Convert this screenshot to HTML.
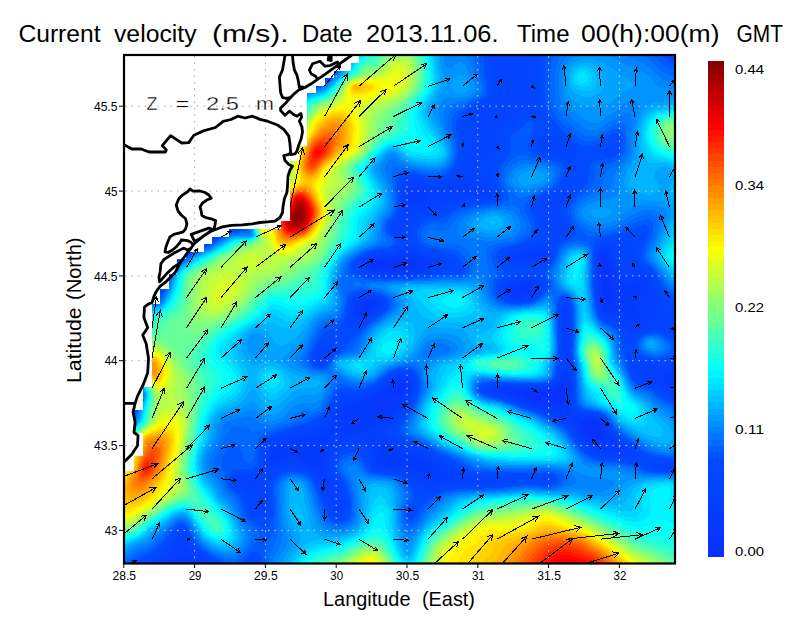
<!DOCTYPE html>
<html lang="en"><head><meta charset="utf-8"><title>Current velocity</title>
<style>html,body{margin:0;padding:0;background:#fff;width:800px;height:618px;overflow:hidden}svg{display:block}</style></head>
<body>
<svg width="800" height="618" viewBox="0 0 800 618" style="position:absolute;left:0;top:0">
<defs><clipPath id="pc"><rect x="124" y="55" width="551" height="508.5"/></clipPath>
<clipPath id="land"><polygon points="124,55 359.4,55 359.4,62.8 350.8,62.8 350.8,70.5 333.5,70.5 333.5,78.1 324.9,78.1 324.9,86 316.2,86 316.2,93.3 307.2,93.3 307.2,146.2 298.6,146.2 298.6,161 290,161 290,220.8 281.3,220.8 281.3,228.8 229.4,228.8 229.4,236.8 212.1,236.8 212.1,244.4 203.5,244.4 203.5,251.9 186,251.9 186,258.8 177.3,258.8 177.3,273.8 169,273.8 169,288.8 160.3,288.8 160.3,303.8 151.7,303.8 151.7,387.3 143.1,387.3 143.1,410 134.4,410 134.4,433.4 143.1,433.4 143.1,455.6 134.4,455.6 134.4,470.6 124,470.6"/></clipPath>
<clipPath id="sea"><path clip-rule="evenodd" d="M124 55H675V563.5H124ZM124 55L359.4 55L359.4 62.8L350.8 62.8L350.8 70.5L333.5 70.5L333.5 78.1L324.9 78.1L324.9 86L316.2 86L316.2 93.3L307.2 93.3L307.2 146.2L298.6 146.2L298.6 161L290 161L290 220.8L281.3 220.8L281.3 228.8L229.4 228.8L229.4 236.8L212.1 236.8L212.1 244.4L203.5 244.4L203.5 251.9L186 251.9L186 258.8L177.3 258.8L177.3 273.8L169 273.8L169 288.8L160.3 288.8L160.3 303.8L151.7 303.8L151.7 387.3L143.1 387.3L143.1 410L134.4 410L134.4 433.4L143.1 433.4L143.1 455.6L134.4 455.6L134.4 470.6L124 470.6Z"/></clipPath></defs>
<rect width="800" height="618" fill="#fff"/>
<g clip-path="url(#pc)" shape-rendering="crispEdges">
<rect x="124" y="55" width="552" height="510" fill="#0831ff"/>
<path fill="#0733ff" d="M334.6 57l1.8-2 339.6 0 0 510 -552 0 0-149.5 2-2.8 2-4.4 2.4-9.3 -0.4-2.2 -2-3.6 -4-4.4 0-79.3 6-5.7 0-1.5 -1.3-1.3 1.5-2 -1.8-2 1.6-1.7 4-1.4 8-0.8 8-3.8 4.3-4.3 0.9-2 2.8-3.6 0.7-2.4 1.6-2 0.5-2 4.1-6 11.1-11.5 2-1.7 2.4-0.8 3.6-3.4 2.4-0.6 3.6-3.5 2.1-0.5 3.9-3.3 2-0.4 2-1.6 2.7-0.7 1.3-1.3 2-0.5 2-1.7 4.5-2.5 7.5-6.6 3.2-1.4 4.8-3.6 2 0.4 2-2.2 2-0.2 0.5-2.4 3.5-2.5 0.3-1.5 -1.1-2 1.1-2 -3.1-2 0.8-1.4 0.2-4.6 2.1-2 0.3-6 3.4-2.9 0.4-3.1 2.1-2 -0.3-2 0.9-4 2.9-2 0.7-2 1.3-1.7 0.4-2.3 1.9-2 0.1-2 1.9-2 2-4 -0.2-6 -4.1-4.1 -4 0 -1.9-1.9 -0.1-2.2 -3.6-3.8 0.6-2 1-1 2.7-1 1.3-1.4 2-0.3 1.7 1.7 0.1 2 4.1 4 0 4 4.1 0 0-2.1 -2-0.1 -1.8-1.8 0.3-4 4.1-6 -1.2-2 4.6-5.5 2.6-4.5 1.4-1.4 2.5-0.6 1.5-1.9 0.4-2.1 2.1-4 1.5-1.5 1.1-2.5 2.9-3.2 0-1.1 -1.7-1.7 2.2-2 0.7-2 8.8-9.4 8-5.9 3.3-0.7 2.7-1.6 2-0.1 2-1.8 2.5-0.5 1.5-1.3 2-0.3 2-1.5 2.6-0.9 7.4-6 8-10.5zM556 390.9l-14 3.2 -4-0.3 -4-1.3 -4-0.2 -3.1 0.7 -2 2 1.8 2 5.3 2.4 16 0.9 4 0.7 4-0.1 3.5-1.9 2.5-4.3 0.3-1.7 -0.6-2 -1.7-0.8 -2 0.2zM590 424.5l-2 0.8 -1 1.7 0 2 1 2 2 2 2 0.8 2 0 2-1.4 0.6-1.4 0-4 -1.6-2 -3-0.7zM262 136.4l-1 0.6 1.3 0z"/>
<path fill="#0635ff" d="M337.4 55l338.6 0 0 510 -552 0 0-148 4-6 2.3-6 1.1-6 -1-4 -1.3-2 -3.4-4 -1.7-0.9 0-77.3 6.5-5.8 0.1-6 -1.3-2 0.7-0.7 12-2.1 8-3.5 2.2-1.7 3.4-4 7.8-14 4.5-6 8.1-8.3 14-9.9 20-11.1 4-2.7 4-3.6 4.4-2.4 5.6-4.4 2 0.7 2-2.1 2.1-0.2 1.5-2 0.4-2 2.7-2 0.5-2 -0.6-2 0.6-2 -2.5-2 0.4-6 1.9-2 1.4-6 1.6-1 1.7-5 2-2 -1-2 2.2-4 3.3-4 1.2-4 4.6-7.1 1.6-4.9 -1.4-2 0-2 -4.2-4.3 -4-0.1 -1.6-1.6 0-2 -2.8-4 0.4-0.7 1.2-1.3 4.8-2.8 0.8 0.8 0.4 2 4.5 4 0.1 4 4.2 1 0.3-3 -0.3-0.5 -2-0.3 -1.2-1.2 1.1-4 2.1-2.7 3.3-1.3 -2.3-4 7-9.9 4-2.4 1.5-3.7 7-10 0-2 -1.4-2 2.7-2 4.2-5.8 4-4.1 6-4.7 4-2.2 16-6.7 6-3.8 8-7.8 6.2-8.9zM376 262.9l-2.3 2.1 0.7 2 1.6 0.8 16 1.3 5.7-2.1 2.2-2 -21.9-2.2zM562 387l-18 5 -4 0.2 -10-1.5 -8 1.5 -6-0.4 -2 0.7 0 0.6 6 2.4 6.4 3.5 5.6 2.1 22 2.7 5.1-0.8 2.9-2.6 2-4.1 0.8-3.3 0-4 -0.8-1.4 -1.9-0.6zM586 422.7l-2 1.7 -0.5 2.6 0.5 2.5 1.9 3.5 4.1 3.7 2 0.8 4 0.2 2-0.9 1.2-1.8 0.5-2 0.1-4 -1-4 -0.8-1.2 -2-1.3 -4-0.6 -4 0.3zM604 265.3l-1.4 5.7 0.4 6 -0.7 6 0 2 1.7 4.1 2 2.4 2-1.3 1.3-7.2 -1.3-9.1 -2-6.2 -0.9-0.7z"/>
<path fill="#0638ff" d="M337.2 57l1.2-2 337.6 0 0 510 -552 0 0-146.7 2.8-3.3 2.1-4 2.2-6 1.3-6 -0.8-4 -1.3-2 -3.5-4 -2.8-1.5 0-75.5 7.8-7 -0.7-2 1-2 -1-2 0.5-2 10.4-1.8 4-1.2 4-1.9 3.8-3.1 4.2-5.8 5.2-10.2 4-6 4.8-5.7 4.8-4.3 14.2-10 19-10.5 8-6.1 8-4.7 2-1.8 2 0 5.6-2.9 1.5-4 2.4-2 0.6-2 -0.6-2 0.5-2 -2.3-2 0.3-6 1.8-2 0.9-4 1.7-2 1.7-4 1.9-2 0.3-2 -1.1-2 5.6-8 1.6-4 3.6-5.7 2-5.2 0.1-1.1 -1.8-2 0-2 -4.3-4.5 -4-0.1 -1.4-1.4 0.1-2 -1.5-2 0-2 1.8-2 3-1.8 0.6 1.8 4.8 4 0.2 4 2.4 0.4 2 1.5 0.6-3.9 -0.6-0.9 -2.6-1.1 0.6-2.1 2.7-3.9 1.3-0.6 1.3 0.6 0.7 1.3 0.1-3.3 -1.5-2 -0.4-2 2-2 3.8-6.1 2-1.8 2-0.8 3.7-7.3 5.9-8 -1.7-4 2.1-0.9 5.3-7.1 8.7-7.6 4-2.4 16-6.5 6-3.6 8-7.6 6-8.3zM366 302.9l-2.5 2.1 -0.6 2 1.1 2 2 0.4 2.6-0.4 3.4-2 1.2-2 0.1-2 -1.3-1.2 -4 0.4zM376 260.8l-2 0.5 -2 1.4 -1.2 2.3 0.3 2 1.7 2 3.2 1.2 16 1.1 8-1.7 8 0.1 3.5-0.7 4.2-2 1.9-2 -1-2 -4.6-2 -4-0.5 -18 0.8 -12-0.6zM520 289l-2.3 2 0.3 0.8 1.7 1.2 2.5 0 4.8-2 0.1-2 -3.1-0.7 -2 0.2zM562 384.2l-8 4 -10 2.5 -4 0.2 -10-1.1 -8 0.7 -8-0.9 -3.8 1.4 0.1 2 2.8 2 16.9 6.8 24 4.2 4 0.2 2-0.5 2-1.3 2-3.1 2-5.9 0.8-6.4 -0.8-3.2 -2-2.1zM584 420.9l-2.6 2.1 -0.5 2 0.7 4 2.4 4.9 2.7 3.1 3.3 2.4 4 1.4 4 0.1 4-1.8 0.7-2.1 -0.9-8 -1.8-5.9 -2-1.9 -2-0.6 -10-0.1zM602 255.4l-1.2 1.6 -0.2 2 0.6 6 -0.4 20 3.2 13.4 2 3.1 2 0.6 2-2.2 1.4-4.9 0.6-14 -1.1-6 -4.5-16 -0.8-2 -1.6-1.7zM260 151.2l-0.1 1.8 0.8 0zM400 382.8l-2 1 -2 2 -3.1 7.2 -0.4 2 0.7 2 2.8 0.4 4-1.7 2-1.6 2.2-3.1 1-4 -0.3-2 -0.9-1.7 -2-0.8z"/>
<path fill="#053aff" d="M339.4 55l336.6 0 0 510 -477.6 0 -4.4-1.7 -6-0.4 -9.6 2.1 -54.4 0 0-145.6 2.4-2.4 2.6-4 3-8 1.3-6 -0.6-4 -1.3-2 -3.5-4 -3.9-2.3 0-73.6 8-7.3 0.3-0.8 -0.7-2 0.9-2 -1-2 0.5-1.1 14.3-2.9 4.5-2 3.2-2.5 4-5.6 7.2-13.9 6-8 6.5-6 14.3-9.9 18-9.7 8.6-6.4 9.4-5.8 8-3 2-4.7 2-1.3 0.3-1.2 0.4-6 -2.1-2 0-4 2-2 1-6 2-2 1.3-4 1.5-2 0.4-2 -1.2-2 4.8-6 2.9-6 2.9-4 0.8-2 0.1-2 1.4-2 -0.3-2 -1.7-2 0-2 -4.5-4.7 -4-0.2 -1.1-1.1 0.1-2 -1.2-2 0.2-0.9 2-2.2 2-0.8 2 1 3.2 2.9 0.2 4 0.6 0.6 2-0.1 1.8 1.5 0.2 2.3 1.5-0.3 -1.3-2 0.7-4 -0.9-1.3 -2-0.7 3.8-6 1.6 2 1.2 0 0.4-2 -0.5-2 -1.3-2 0.2-2 1.9-2 3.7-6 3.5-2 5.4-10 4.6-6 -1.3-2 3.8-6 5.3-6 7.7-6 18-7.6 7.2-4.4 8.1-8 6.9-10zM346 412.5l-2 1.3 -1.4 3.2 0.1 2 1.3 1.6 2 0.3 2.4-1.9 0.8-4 -1.2-2.1zM366 300.7l-4 2 -2 2.2 -0.5 4.1 0.9 2 1.6 1 2 0.3 4-0.7 4-1.9 2-1.8 1.6-2.9 0.1-2 -1.7-2.7 -2-0.6 -4 0.5zM396 259l-6 0.5 -12-0.3 -4 0.6 -2.7 1.2 -2 2 -0.7 2 0.2 2 1.3 2 3.9 2.4 10 0.5 6 0.9 10-1.5 10 0 13.7-4.3 1-2 -0.8-2 -3.9-2.4 -8-2.6 -6-0.3 -8 1zM518 286.7l-4 2.6 -0.8 1.7 0.1 2 0.7 1.1 1.1 0.9 2.9 0.5 8-0.8 3.4-1.7 1.5-2 0.6-2 -0.5-2 -3-1.5 -8 0.6zM564 379.8l-3.5 3.2 -4.5 3 -4 1.7 -8 2 -4 0.2 -10-1 -8 0.5 -8-0.9 -3.5 0.5 -4 2 0.6 2 2.9 2 22 8.5 14 2.4 10 2.4 4 0.2 2-0.5 2-1.9 1.3-3.1 2.7-10.7 0-5.3 -2-6.7zM584 418.9l-4 1.6 -1.5 2.5 1.2 6 1.9 4 2.7 4 3.7 3.6 4 2 4 1.1 10 0.7 2-0.2 0.5-1.2 -3.9-10 -2.6-8.9 -1.8-3.1 -4.2-1.8 -10-0.4zM602 253.6l-1.6 1.4 -0.9 2 0.2 28 1.7 8 0.7 6 1.9 5.3 2 3.1 2 0.9 2-0.5 2-2.1 2.4-6.7 0.5-4 -0.9-8 0.4-6 -0.7-4 -6.3-20 -1.4-2.6 -2-1.1zM398 380.5l-3.6 2.5 -6.4 8.2 -13 7.8 -3.5 4 -1.9 4 -0.3 2 0.6 2 2.1 2.1 4 1.3 4 0.3 6-0.7 2-0.9 2-2 4.3-6.1 7.7-6.2 3-3.8 2.1-4 0.8-6 -1.5-4 -2.4-1.4 -4 0.3z"/>
<path fill="#043cff" d="M339.2 57l1.2-2 335.6 0 0 322.7 -2.9 1.3 -0.8 2 0.9 2 2.8 1.6 0 180.4 -473.1 0 -2.9-2.2 -3.7-1.8 -6.3-1.4 -10 1.2 -9.9 4.2 -46.1 0 0-144.5 3.4-3.5 2.6-4.2 2.7-7.8 1.5-8 -0.4-2 -2.9-4 -6.9-5.2 0-71.9 8-7.2 0.8-1.7 -0.6-2 0.7-2 -0.9-2.1 16-3.4 4-1.9 3-2.6 4-6 6.9-14 6.1-8 6-5.5 14-9.7 18-9.6 12-8.5 8.4-4.7 6.4-2 1.8-4 2-2 0.6-2 0.2-6 -2-2 0.1-4 1.8-2 0.8-4 2.5-4 2.3-6 0.3-2 -0.9-2 5.1-6 2.7-6 3-4 0.9-2 -0.4-2 1.8-2 -2.8-4 0-2 -4.6-4.9 -4-0.2 -0.9-0.9 -0.1-4 3-2.8 2 0.2 3 2.6 0.2 4 0.8 0.7 2 0 1.6 1.3 -0.1 2 0.5 0.4 2 0.1 0.4-0.5 -1.9-2 0.6-4 -1.1-1.7 -0.8-0.3 2.8-4.8 2 1.5 1.5-0.7 0.1-2 -1.9-4 0.3-1.1 6.1-8.9 3.4-2 5.3-10 2.5-4 2.1-2 -1.9-2 0.5-1 1.3-1 6.7-8.5 6.3-5.5 3.7-2.3 18-7.4 6-3.8 8-8 6-8.5zM398 256.9l-8 1 -12 0 -6 1.2 -3 1.9 -1.8 2 -0.7 2 0.3 2 1.2 2 4 3 3.8 1 6.2-0.1 10 0.9 8-1.4 10 0.3 16.2-3.7 2.2-2 0.6-2 -0.6-2 -2-2 -3.8-2 -8.6-2.9 -6-0.8 -8 1.2zM414 190.9l-2.5 2.1 -0.7 4 1.2 2.8 2 1.6 2 0.1 4-1.9 1.5-2.6 -0.4-2 -1.7-2 -3.9-2zM518 284.7l-4 1.6 -2.7 2.7 -0.7 2 0.1 2 1 2 2.3 1.8 2 0.4 10-0.9 3.8-1.3 2.2-2 1.7-4 -0.1-2 -1.2-2 -2.4-1.1 -4-0.3 -6 0.6zM566 374.3l-2 1.3 -3.6 5.4 -1.9 2 -4.5 2.9 -6 2 -8 1.1 -8-0.8 -10 0.3 -8-0.8 -10 1.5 -8-0.3 -0.5 2.1 6.5 1.5 9.7 4.5 18.3 7 16 3.4 12 3.4 4 0.4 2-0.3 2-2.4 3.2-17.5 -1.2-12.9 -1.4-3.1zM578 418.6l-2.2 2.4 0.6 4 3.6 8.1 6 8.1 6 3.6 14 4.3 6 1.5 4-0.4 1.2-1.2 -0.2-2 -1-2 -8-9.4 -2-3.7 -4-10.6 -2-2.1 -8-1.3 -8-0.4 -4 0.6zM602 251.9l-2 1.6 -1.4 3.5 0.2 28 2.1 14 2.9 10 2.2 2.3 4 0.3 4-1.9 2.8-2.7 2.7-8 0-4 -2.3-8 0.1-6 -1.1-4 -8.2-22.6 -2-2.3 -2-0.6zM276 451l-2.7 2 0 2 0.7 1.1 2 1 2-0.5 2-1.5 1.1-2.1 -1.1-1.7 -2-0.5zM306 441l-1.7 2 0.8 2 2.9 2.2 3.3 3.8 0.6 2 0 6 1.2 2 2.9 2.1 2-1 0.3-1.1 -0.9-8 0.9-6 -0.3-2.6 -0.7-1.4 -1.3-1 -3.3-1 -4.7-0.3zM368 298.8l-7 2.2 -2.4 2 -1 2 -0.6 4 1 3.9 2 1.5 4 0.2 4-1.1 4-1.9 3.1-2.6 1.5-2 0.8-4 -0.8-2 -2.6-2.3 -4-0.2zM398 378.4l-4.6 2.6 -7.4 8.1 -11 5.9 -9 7.8 -4 2.8 -4 1.2 -12-1.1 -4 1.5 -2 3.4 -2.3 6.4 -0.5 4 0.8 4.9 2 2 4 1.1 10-0.5 3.8-1.5 4.2-3.4 4-1.8 20-3.6 4-1.4 1.8-1.8 5.8-8 4.4-4.4 4-5.1 2.4-4.5 1.2-4 -0.1-6 -1.5-3.8 -2-1.3 -2-0.4 -4 0.4zM388 448.8l-2 0.7 -2 1.7 -2 6.5 -0.2 3.3 1.4 2 4.6 2 4.2 0.8 4.2-0.8 5.8-2 1.4-2 -0.6-2 -2.8-3.5 -6-4.6 -4-2.2z"/>
<path fill="#043eff" d="M341.4 55l334.6 0 0 315.5 -6.8 2.5 -3.3 2 -1.4 2 -0.1 2 1.3 4 2.5 4 3.8 2 4 0.4 0 175.6 -469.8 0 -8.2-6 -8-2.8 -6-0.8 -4 0.5 -2 0.8 -13.5 8.3 -40.5 0 0-143.6 4-3.8 2.7-4.6 3.3-9.9 1.1-6.1 -0.3-2 -2.8-4 -8-6.1 0-70.1 8.9-7.8 1.1-4 -0.7-2 0.7-1.6 14-2.8 4-1.7 4-3.3 4-6.4 6.8-14.2 5.2-7.1 6-5.6 14-9.8 16-8.2 14-9.6 10-5.7 2 0.3 4-1.9 1.7-4.4 1.8-2 0.5-2 -0.5-2 0.6-4 -1.9-2 0-4 1.8-2 0.9-4 2.5-4 2-6 0.3-2 -0.5-2 4.8-5.2 2-4.1 0.6-2.7 3.4-4 0.4-2 -0.4-2 2.1-2 -3.4-4 0.1-2 -4.8-5.1 -4-0.3 -0.6-0.6 0.6-3.5 2.5-2.5 1.5-0.3 2.7 2.3 0.3 4 1 0.9 2 0 1.4 1.1 -0.1 2 2.7 1.6 1.2-1.6 -1.2-0.4 -1.3-1.6 0.7-4 -1.1-2 1.7-3.1 2 0.2 2.3-1.1 -0.1-2 -1.7-4 6.6-10 3.3-2 4.1-8 3.7-6 1.8-1.8 0-0.6 -2-1.4 0-0.5 2-1.2 3.1-4.5 4.9-5.5 5.7-4.5 4.3-2.4 16-6.3 6-3.8 8-7.7 8.2-11.8zM362 299l-4 2 -1.5 2 -1.2 4 -0.1 4 0.8 3.3 2 2.2 2 0.6 4-0.6 6-2.4 4-2.3 2.9-2.8 2-4 0-2 -0.8-2 -1.7-2 -2.4-1.3 -4-0.2 -6 1zM400 254.7l-8 1.6 -16 0.6 -6.4 2.1 -2.7 2 -1.7 2 -0.6 2 0.2 2 1.2 2 4 3.3 4 1.5 18 0.9 8-1.2 10 0.2 16-2.5 3.9-2.2 1.9-2 0.8-2 -0.4-2 -1.7-2 -7.7-4 -10.8-3.6 -4-0.3 -6 1.1zM412 186.7l-2 1.3 -1.5 3 -0.7 6 2.2 6.5 2 2 2 0.7 4-0.7 5.1-2.5 4.3-4 0.7-2 -0.3-2 -1.5-2 -2.6-2 -5.7-3.2 -4-1.2zM518 283l-5.5 2 -2.5 2.2 -1.6 3.8 1.1 4 2 2 2.5 1.2 4 0.1 10-1.1 4-2.1 2-2.6 1.5-3.5 0-2 -0.7-2 -2.4-2 -2.4-0.7 -4-0.3 -6 0.6zM532 252.7l-2 0.6 -2.3 1.7 0.6 2 3.7 1.1 2-0.2 4.3-0.9 3.2-2 -1.3-2 -6.2-0.6zM566 311.3l-1.9 1.7 0.1 2 1.8 3 0.8-5zM572 416.2l-1.9 0.8 6.2 12 5.7 9.6 4 4.6 6 3.5 11.6 4.3 10.4 2.1 2.7-0.1 3.3-1.2 1.1-0.8 0.5-2 -2.5-4 -10.8-12 -4.3-10 -2.6-4 -1.4-0.9 -4-0.9 -22-0.9zM602 250.3l-2.9 2.7 -1.4 4 0.2 26 2.1 16.9 2.8 11.1 1.9 2 3.3 1 12-1.6 6 3.6 6 6.8 2 0.7 2-0.3 2-1.6 1.2-2.6 0.3-2 -1.5-10 0-4 0.5-4 2.8-10 -0.2-4 -1.1-1.9 -2-0.8 -10 1 -2-0.3 -4-1.9 -6-9.9 -4.6-10.2 -2.4-8 -1.4-2 -1.6-0.9 -2-0.3zM398 376.8l-4.8 2.2 -9.2 9.1 -10 4.9 -8 6.1 -4 2.3 -6 1.4 -12-0.1 -4 2.1 -2 4.1 -7.1 22.1 -0.9 1.4 -2 1.4 -8 1.5 -16 1.4 -8 3.6 -20 6.6 -3.7 2.1 -1.8 2 -0.8 2 0.3 4 2 3.6 2 1.2 2 0.1 4-1 10-5.1 4-0.5 4 0.5 4 2.2 4.2 5 2.9 2 10.9 5.7 2 0.1 1.3-1.8 0.5-2 -0.3-10 0.9-6 3.6-8.9 2-3.7 2-2.4 2-0.8 6-1.1 8-0.7 8 0 6-1.2 4-1.4 12-6.6 12-4.6 3.2-2.6 12.8-16.2 4-7.6 1.1-4.2 0.2-4 -0.7-4 -0.7-2 -1.6-2 -4.3-1.1 -4 0.4zM566 323.1l-1.3 3.9 1.3 3.4 0.9-3.4 -0.4-2zM380 445l-1.8 2 -0.3 2 0.3 6 -0.9 8 1 2 13.7 2.9 8-0.5 4 0.3 18 5.2 8 1 2-0.5 0.8-0.4 0.6-2 -1.7-4 -3.8-4 -5.7-4 -12.2-3.3 -18-10.4 -4-0.9 -6 0.1zM566 337.2l-1.1 3.8 1.1 2.2 0.9-2.2 -0.3-2zM566 370.2l-2 1.5 -3.7 7.3 -2.3 2.8 -4 3.1 -4 1.7 -6 1.4 -4 0.2 -26-1.3 -10 0.9 -8-0.2 -3.1 1.4 0 2 3.1 1.9 6 1.3 28 10.7 14 3.2 26 8.6 0.4-1.7 -1.3-4 -0.5-6 1.6-14 -0.1-6 -1.3-10 -0.8-2.5 -1.3-1.5z"/>
<path fill="#0340ff" d="M341.1 57l1.2-2 333.7 0 0 311.6 -21.3 6.4 0.3 2 10.9 14 2.1 2 6 1.7 2-0.2 0 172.5 -467.1 0 -7.1-6 -11.3-6 -8.5-6.7 -2 0.7 -5 6 -6.6 6 -9.6 6 -34.8 0 0-142.8 3.8-3.2 2.8-4 3.4-9.3 2.1-8.7 -0.3-2 -2.8-4 -9-7 0-66.7 0.8-2.3 9.2-7.9 -0.4-2.1 0.9-2 -0.9-2 0.4-0.8 16-3.2 4-2 2-1.8 4-6.2 5.4-12 3.5-6 4.7-6 4.5-4 14.2-10 15.7-7.9 16-10.7 8-3.8 6.1-1.6 3.9-6.7 0.5-3.3 -0.6-2 0.5-4 -1.6-2 -0.1-4 2.2-2 0.9-4 2.2-3.3 2.6-10.7 3.8-4 1.6-3.6 1.1-4.4 2.4-2 1.4-2 0-4 1.1-0.9 0.2-1.1 -3.3-4 0-2 -4.9-5.3 -4.3-0.7 0.3-2.4 2.5-1.6 1.5-1.7 2 1.2 0.5 0.5 0.3 4 1.2 1.1 2-0.1 1.2 1 0 2 2.7 2 0.1 1.1 2-3.1 -2-0.7 -1-1.3 0.5-6 1-2 4.4-2 -0.2-2 -1.2-2 0.2-2 6.3-9.7 3.3-2.3 1.7-4 7.5-12 -0.8-2 4.4-6 5.7-6 6.2-4.6 18-7.2 6-3.7 8-7.5 8-11.1zM410 183.9l-2 1.6 -1.4 3.5 -0.8 6 0.3 4 1.9 6.9 1.8 3.1 2.2 1.3 2 0 6-2.3 9.3-5 4.6-4 1.1-2 -0.1-2 -1.5-2 -6.9-4 -8.5-4 -6-1.5zM466 184.1l-7.2 4.9 -1.1 2 0.8 2 3.5 1.2 12 1.1 4-0.2 3.3-2.1 0.9-2 -1.1-2 -2.5-2 -4.6-2.4 -4-1.2 -2 0.2zM530 250.6l-6 1.9 -10 2.3 -1.4 2.2 1.4 1.6 2 0.5 8 0 8 1.1 10-0.9 2-0.6 2.7-1.7 0.8-2 -1.5-3.3 -2-1.4 -4-1.1 -8 0.9zM564 308.6l-1.4 4.4 0.9 20 -0.3 8 0.8 4.8 1.4 3.2 -0.8 4 0.1 6 -2.3 12 -2.3 6 -2.7 4 -2.1 2 -3.3 2 -8 2.2 -4 0.3 -26-1.2 -18 0.2 -2.7 0.5 -2.9 2 0.3 2 3.3 2.3 10 2.6 24 9.1 16 4.3 16 6 6 3.4 4 3.1 10.8 17.2 5.2 6.1 6 3.3 11 4.6 11 1.6 6-0.4 5.9-1.2 1.4-2 -17.3-17.9 -2.5-4.1 -3.5-8 -2-2.6 -4-1.7 -18-1.8 -4-0.9 -2-1 -2.9-4 -1-6 1.1-14 -0.6-10 -0.6-4.9 -3.4-15.1 0.2-6 -0.5-4 2.2-8 -0.4-8 0.5-6 -0.4-6 0.2-8 -0.4-2 -2-2.7zM602 248.7l-2 1.3 -2 2.9 -1.1 6.1 0.4 26 2 16 2.7 11.7 2 1.7 4 1.5 8-0.1 4 0.9 4.6 4.3 5.4 7.3 2 1.4 2-0.1 8.6-4.6 2.4-2 1-2 -0.4-18 1.9-12 -0.1-6 -1.4-6 -2-2.3 -4-1.3 -12 0.7 -6-2 -4-4.2 -4-6.5 -1.9-4.4 -2.1-8.2 -2-2.1 -4-0.6zM268 142.5l-0.4 0.5 0.6 0zM408 250.9l-16 4.1 -18 1.3 -6.6 2.7 -4.2 4 -0.6 2 0.2 2 1.2 2 2 2 4 2.5 4 1.3 16 0.6 10-1 10 0.2 6-1.1 10-0.9 4.1-1.6 5.1-4 1.1-2 -0.2-2 -1.6-2 -2.9-2 -15.6-6.4 -6-1.7zM522 280.8l-8 1.8 -4 2.1 -2.2 2.3 -1.3 4 1.1 4 1.8 2 2.6 1.7 2 0.6 6-0.1 8-0.9 3.4-1.3 3.8-4 1.9-4 -0.2-4 -2.9-2.8 -4-1.3 -6-0.2zM646 370.9l0 0.4 0.9-0.3zM366 296.9l-8 2.2 -2.2 1.9 -1.7 4 -0.6 6 0.5 4 2 3.4 2 0.9 2 0 6-1.9 8-4.1 2.8-2.3 2.9-4 0.6-4 -0.8-2 -1.6-2 -3.9-2.2 -6-0.1zM400 375l-6.3 2 -2.8 2 -4.9 5.3 -3.4 2.7 -8.7 4 -7.9 5.5 -4 2.2 -6 1.4 -12 0.2 -4 1.7 -2.5 3 -4.4 12 -3.1 6.6 -2.6 3.4 -3.4 2.7 -6 2.3 -14 2.3 -15.6 4.7 -12.4 5.2 -4 2.3 -2.5 2.5 -1.7 4 0 4 1 4 1.2 2.6 1.6 1.4 2.4 0.4 18-4.8 4 0.3 4 1.5 6 3.9 8 4 3.7 2.7 4.2 4 4.1 6.2 6 7.2 0.9-1.4 -0.3-2 -5.3-10 -0.8-4 -0.1-14 0.6-4 2.3-6 4.7-6.2 4-3 4-1.8 8-1.5 12 0.2 6 1.4 1.3 0.9 1.4 2 4.5 14 0.2 2 -1 8 1.5 2 14.1 2.2 12 0.6 6 1.9 12 5.6 6 2.2 6 1.1 8-0.3 6.1-1.3 3.9-2 -1.3-2 -6.7-4.5 -7-7.5 -8.9-6 -4.1-2 -10-3.2 -19.6-8.8 -11.5-4 -2.8-2 -1.3-2 -0.1-2 0.8-2 3.4-4 11.1-6.4 3.6-3.6 10.9-14 4.2-8 1.4-4 0.6-4 -0.2-4 -1.1-4 -1.4-2.4 -2-1.5 -6-0.4z"/>
<path fill="#0342ff" d="M343.2 55l332.8 0 0 308.5 -8 2.7 -8 1.6 -4-0.1 -10-2.1 -6 0.3 -2 1.4 -0.5 3.7 0.5 2 1.5 2 2.5 1.7 10 2.5 4 2.2 8.8 9.6 2.5 2 8.7 2.6 0 169.4 -464.5 0 -9.5-7.8 -10-6.2 -3.7-4 -4.3-6.6 -2-1.4 -2 0.3 -2 1.8 -4.7 7.9 -5.3 6.4 -6 4.7 -8.5 4.9 -29.5 0 0-142.1 4.9-3.9 2.6-4 2.5-7.1 2.9-10.9 -0.9-3.6 -1.9-2.4 -10.1-7.9 0-64.7 1.9-3.4 8.1-6.9 0.5-1.1 -0.5-2 0.9-2 -0.7-2 15.8-3.1 4-1.6 2-1.6 4-5.7 6.1-14 3.5-6 4.4-5.5 4-3.7 15.5-10.8 14.5-7.1 16-10.6 9.5-4.3 4.5-0.9 1.9-1.1 1.3-4 1.5-2 0.2-4 -0.2-2 0.4-2 -0.4-2 -1.3-2 -0.2-4 2.6-2 0.9-4 1.7-2 2.5-10 4.4-6 2.3-8 2.4-1 1.8-3 -0.6-2 1.2-4 -3.4-4 0.1-2 -5.1-5.5 -4-0.4 0-0.8 4.3-3.3 1.7-0.2 0.7 4.2 1.3 1.3 2-0.1 1 0.8 0 2 2.6 2 0.3 2 0.5 0 1.9-4 -2.3-1 -0.8-1 0.8-4.9 1.7-3.1 2.3-0.9 2 1.4 0.6-0.5 -2.6-6.6 6.1-9.4 3.9-3.6 1.9-4.4 6.1-10 0.9-2 0-2 4.2-6 4.9-5.2 6-4.5 18-7.2 7.9-5.1 6.2-6 6.2-8 3.8-6zM360 297l-4 1.7 -1.9 2.3 -1.4 4 -0.5 4 0 6 1.1 4 1.4 2 1.3 0.8 2 0.2 8-3.2 10-5.7 4-4.1 1.7-4 -0.8-4 -1.5-2 -3.4-2.3 -6-1 -8 0.8zM464 176.9l-4.7 4.1 -7.3 4.6 -6 2.3 -4 0.8 -6 0.1 -4-0.8 -18-6.5 -4-0.2 -2 0.8 -2 2.3 -1 2.6 -0.8 8 1.8 12.5 2 6.5 2 1 4-1 28-14 4-1.4 6-0.9 8 0.6 18-0.3 9-3 1.7-2 -0.2-2 -2.5-4 -2-2.1 -12-7.9 -4-1.5 -2 0.2zM538 246.7l-24 5.8 -3.5 2.5 -0.6 2 0.9 2 3.4 2 23.8 0.9 4-0.5 4-1.5 2-1.3 1.2-1.6 0.5-2 -0.9-4 -1.6-2 -3.2-1.8 -4-0.6zM564 305.3l-2 3.8 -0.5 3.9 0.6 28 1 8 -0.5 10 -1.1 10 -1 4 -1.4 4 -2.9 4 -2.3 2 -3.9 2 -8 1.7 -28-1 -20 0.2 -4 1.2 -2 1.9 0.5 2 2.5 2 3 1.2 10 2.7 26 9.6 14 4 16 6.6 6 3.8 4 3.5 12 18.3 4 4 6 3.3 10 4.5 12 1.4 18-0.4 1-0.5 0.9-2 -1.3-2 -8.6-6.1 -12-11.3 -3.3-4.6 -4.7-9.5 -2-2.1 -4-1.5 -16-1.9 -4-0.9 -3.4-2.1 -2.5-4 -0.8-6 0.8-12 -0.3-8 -3.3-24 -0.2-8 1.1-8 0-28 -1.4-4.9 -2-2.7zM604 246.4l-4 1.9 -2 2.4 -1.7 6.3 0.2 28 3.8 26 1.7 3.4 4 2.5 10 1.4 4 1.9 4 4.5 4.2 6.3 1.8 1.7 2 0.7 2-0.5 6-3.5 10.4-4.4 1.9-2 0.8-2 0.5-14 -2.5-20 -1.6-8 -2-4 -3.5-2.2 -6-1.7 -14-1 -4-2.2 -4-4.4 -2-3.1 -1.1-3.4 -1.1-8 -2-2 -3.8-0.9zM664 464.4l-1.4 0.6 0.7 2 2.7 0.8 2.7-0.8 -0.3-2 -2.4-0.8zM254 480.9l-2 0.2 -3 1.9 -0.1 2 2 2 3.1 1 2-0.4 1.8-2.6 -0.3-2 -2.9-2zM320 354.4l-1.7 2.6 -0.3 2 0.7 2 1.3 1.3 2.1 0.7 2.2-2 1-4 -0.2-2 -1.1-1.6 -2-0.1zM406 248.8l-12 4.5 -18 1.5 -7.2 2.2 -3.5 2 -4.1 4 -0.6 2 0.2 2 1.2 2 4.8 4 4.5 2 2.7 0.6 18 0.5 8-0.9 10 0.1 8-1.1 8-0.5 2.8-0.7 7.8-4 2.7-2 1.4-2 -0.1-2 -1.7-2 -7.1-4 -19.8-7.9 -4-0.7zM474 479l-3.1 2 7.1 2.1 4.9-2.1 -3.9-2 -3-0.1zM516 280.5l-6 2.2 -4 3.7 -1.2 2.6 -0.2 2 1.2 4 1.6 2 2.6 1.9 4 1.3 15.1-1.2 4-2 4.8-6 1.2-4 -0.2-2 -0.9-1.6 -2.9-2.4 -5.1-1.4 -6-0.3 -6 0.7zM494 478.9l-2 0.3 -3.2 1.8 5.2 2.1 2-0.3 2.4-1.8 -3.2-2zM396 374.8l-4.7 2.2 -9.3 8.7 -8 3.8 -12 7 -6 1.4 -12 0.2 -4 1.7 -2 1.7 -2 3.1 -3.9 10.4 -3.3 6 -2.8 3.4 -4 2.9 -6 2.5 -12 2.6 -16.7 4.6 -11.3 4.9 -4 2.2 -4 4 -1.9 4.9 0 6 1.9 7.4 2 2 2 0.2 16-4.6 6-0.5 4 0.8 14 6.9 4.9 3.8 3 4 9 16 5.1 14.5 2 2.5 2 1.2 2 0 2-2.2 0.5-4 -0.5-3.8 -4.4-16.2 -1.6-3.3 -5-6.7 -1.7-4 -0.8-4 -0.1-8 0.7-4 1.5-4 3.4-5.3 6-5 6-2.6 6-1 6 0.2 4 1 4 2.5 2.9 4.2 3.6 8 0.4 2 -0.5 8 0.8 2 2.8 1.6 26 3.1 6 2.3 14 8.3 6 1.9 6 0 16-2.1 10 1 2-0.3 5.8-1.8 1.7-2 -17.5-7.7 -7.3-4.3 -7.3-6 -13.4-7.8 -20-7.3 -16-6.9 -3.2-2 -1.6-2 -0.6-2 0.2-2 0.9-2 1.8-2 8.5-5.9 3.7-4.1 10.3-13.6 4-8.1 1.4-4.3 0.6-4 -0.7-6 -1.3-3.6 -1.9-2.4 -4.1-1.5 -8 0.8z"/>
<path fill="#0244ff" d="M343 57l1-2 332 0 0 306.1 -10 3.3 -6 1 -4-0.2 -10-2.1 -8-0.6 -2 0.6 -1.2 1.9 -0.3 2 0.8 6 0.8 2 1.9 2.3 4 2.1 8 2 4 1.7 4 3 8 8 4 1.8 6 1.7 0 167.4 -461.9 0 -10.1-8.1 -8-5.2 -3.3-2.7 -3.1-4 -5.6-9.2 -2-1.5 -2 0.2 -2 1.5 -8 12.6 -4 4.9 -6 4.9 -6 3.6 -6.3 3 -23.7 0 0-141.3 5.9-4.7 2.1-3.4 5.7-18.6 -0.1-2 -0.8-2 -1.9-2 -10.9-8.8 0-62.7 2-3.5 8-7 1.8-4 -0.4-2 0.6-1.4 16-3.2 2.9-1.4 2.3-2 4.8-8 5.8-14 4.2-6.3 6-6.2 16-11.1 14-6.7 16-10.5 12-5.2 4-0.4 1.3-1.6 0.9-4 1.3-2 0.3-8 -1.9-4 -0.2-4 3-2 1-4 1.5-2 0.8-2.6 1.6-7.4 4.6-6 1.8-7.8 2.4-0.2 1.6-2.9 0-4.1 2-1 -4.9-6 0.1-2 -1.2-1.4 -4-4.3 -2.7-0.3 3-2 1.7-2 0.5 4 1.5 1.4 2-0.1 0.8 0.7 0 2 2.6 2 0.3 2 1.6 0 1.3-4 -3.1-2 0.5-3.4 2.7-4.6 1.3-0.5 2 1.3 0.9-0.8 -1-4 -1.1-2 6.3-10 2.9-2 2.9-6 6.3-10 0.7-4 4.1-5.8 3.8-4.2 6.2-4.9 6-2.9 12-4.2 6.5-4 8.7-8 8.8-12.3zM466 165.8l-2 1.5 -5.1 7.7 -3.7 4 -5.2 3.2 -6 2.1 -6 1.2 -6-0.2 -6-1.4 -10-3.7 -4-0.8 -4 0.4 -2 1.2 -2.3 4 -0.9 6 0.1 6 1.3 14 -0.4 6 -0.7 2 -1.5 2 -5.8 4 -1.5 2 1.7 1.5 1.4 0.5 4.6-0.4 2-1.2 5.5-6.4 11.8-8 6.7-3.3 16-6 6-2 4-0.6 24-1.3 14-3.3 1.5-1.5 0-2 -1.9-4 -3.6-5 -4-4.6 -9.7-8.4 -4.3-5 -2-0.8zM480 110.1l-1.4 0.9 -0.6 2.1 2 2.5 2 0.3 2.4-0.9 0.7-2 -1.1-2 -2-0.8zM536 244.9l-24 6.6 -2.4 1.5 -1.7 2 -0.4 2 0.6 2 1.8 2 2.1 1.2 4 0.9 22 0.6 4-0.4 4-1.6 4-3.3 1.2-3.4 -0.2-4 -1-2.8 -2-2.2 -6-2 -4 0.4zM548 142.4l-1.7 2.6 -0.2 2 1 2 2.9 1.3 6-0.9 0.9-0.4 0.6-2 -0.8-2 -2.7-2.5 -4-1zM564 302.2l-2 2.6 -1.4 6.2 1.3 38 -1.4 18 -1.6 8 -2 4 -1.8 2 -5.1 3.3 -6 1.5 -6 0.3 -42-1.2 -4 0.4 -4 1.3 -2.5 2.4 0.7 2 2.5 2 3.3 1.4 12 3.3 25.1 9.3 12.9 3.8 18 7.9 6 4.1 4 3.8 10 15.2 4 4.9 4 2.7 6.9 3.6 5.1 2.4 4 1 28 1.4 3.2-0.8 0.8-0.8 0.5-1.2 -0.3-2 -2.2-3 -10-6.9 -12-11.2 -3.3-4.9 -4.1-8 -2-2 -4.6-1.8 -18-2.7 -4-2.3 -2.4-3.2 -1.2-6 0.5-12 -0.6-12 -2.4-18 -0.5-8 0.9-10 0-28 -2.3-7.7 -2-2.8zM604 244.6l-4 1.8 -2 2.1 -1.8 4.5 -0.6 4 0.4 29.7 3 22.3 1 4 1.3 2 2.7 2.3 2 1 8 1.8 4 1.5 3.6 3.4 6.4 9.6 2 1.3 2 0.1 2-0.7 8-4.8 8-2 8-3 4-0.1 2 0.7 4 3.5 2 0.5 2.9-1.1 1-2 -2.8-2 -5.1-1.5 -2.7-2.5 -1.2-4 0-2 2.2-8 0-2 -1.1-2 -5.2-5.7 -1.3-2.3 -6.7-20.5 -4-3.4 -12-5.4 -4-0.8 -8 0.1 -2-0.9 -4-3.5 -1.6-3.6 1-8 -0.2-2 -1.2-1.5 -2-0.9 -6-0.4zM660 462.8l-8 2.2 4 0.9 7.7 3.1 4.3 0.1 2.7-2.1 0.1-2 -0.8-1 -1.3-1 -2.7-0.7 -4 0.2zM248 478.7l-6.9 2.3 -0.9 2 1.3 2 8.5 6.4 8 3.9 2 0 1.9-4.3 0.6-4 0.1-4 -0.6-3.2 -2-1.7 -2-0.3 -8 0.5zM322 349.9l-4 3.5 -1.7 3.6 -0.1 2 0.5 2 1.6 2 3.7 1.2 2-0.8 1.8-2.4 2.4-8 -0.2-2.3 -2-1.5 -2 0zM404 247l-6 3.5 -4 1.5 -4 0.8 -16 1.4 -6 2.1 -4.8 2.7 -4 4 -0.6 2 0.2 2 1 2 4.7 4 4.2 2 5.3 1.3 16 0.5 10-0.9 10 0.1 16-1.2 5.8-1.8 9.1-4 3.2-2 1.5-2 -0.1-2 -1.5-2 -7.5-4 -14.5-5.4 -12-5.9 -2-0.3 -2 0.5zM518 278.5l-8.2 2.5 -3.2 2 -2 2 -1.7 4 0.2 4 0.9 2 4.1 4 5.7 2 14.2-1 4-1.1 4.5-3.9 3.8-6 0.6-4 -0.8-2 -1.8-2 -4.3-2 -8-1.1 -6 0.2zM550 198.6l-2 0.8 -1.3 1.6 -0.5 2 0.4 2 1.4 2.1 2 1.3 2 0.4 2-1 2-2.2 2.1-4.6 -0.5-2 -1.6-0.6 -4 0zM260 502.4l-2 0.9 -1.9 3.7 -0.1 2.1 2 1.9 2-0.3 1.5-1.7 0.5-2.5 -1.5-3.5zM366 295l-6 0.8 -4 1.4 -2.2 1.8 -1.8 3.7 -1.3 8.3 0.2 8 1.3 4 1.8 1.7 2 0.3 4-1.5 15.2-8.5 4.6-4 2.7-4 0.6-4 -0.7-2 -2.4-2.7 -2-1.5 -4-1.5 -6-0.4zM400 372.8l-8 2.4 -11.2 9.8 -18.8 9.6 -6 1.4 -12 0.1 -4 1.6 -2 1.6 -2.7 3.7 -6 14 -3.3 4.2 -4 3.4 -8 3.5 -26 6.8 -10 3.9 -8 4.6 -2 1.9 -2.3 3.7 -1.1 4 -0.3 6 0.9 8 1.5 4 1.3 0.8 2 0.1 16-5.3 8-1 4 0.8 12 5.3 4.5 3.3 4.5 6 6.4 12 7 18 3.6 3.7 2 0.7 2-0.1 2-0.9 2.2-3.4 0.4-4 -0.4-4 -4.9-18 -1.3-2.5 -4.4-5.5 -2.2-4 -1.3-6 0.2-6 1.9-6 4.2-6 5.6-4.3 4-1.8 4-1.1 4-0.3 4 0.5 4 1.7 3.5 3.3 4.3 8 1.1 10 0.7 2 2 2 2.4 0.8 20 2.1 6 1.4 7.2 3.7 12.8 9.2 4 1.4 4 0.1 20-3.4 10 0.3 8-1 10 1 8-0.9 10 0.7 9.7-3.4 -0.7-2 -7-1.6 -14 0.1 -12-1.2 -12-3.8 -6.5-3.5 -11.4-8 -18-10 -24.1-8.7 -10-4.8 -2.9-2.5 -0.9-2 0-2 1-2 9.2-8 11.6-15.2 4-7.6 2.6-7.2 0.5-4 -0.2-4 -1-4 -1.9-3.6 -2-1.8 -2-0.8 -6-0.3z"/>
<path fill="#0147ff" d="M343.8 57l1.2-2 151.9 0 -2.4 4 -1.1 4 0.4 14 1.1 8 -1.6 16 -1.1 2 -2.2 1.5 -12 2.2 -2.9 2.3 -1.4 2 -2.3 6 -3.3 14 -1.1 14 -2.6 12 -1.2 4 -6.6 12 -2.6 3.2 -4 3 -6 2.4 -6 1.3 -4 0.2 -6-0.7 -10.2-3.4 -5.8-1.3 -4 0.3 -2.4 1 -2 2 -1.6 3.8 -0.6 4.2 0.9 20 -0.9 6 -2.4 4 -7 5.8 -1 2.2 0.6 2 2.4 2 10 3.3 2-0.8 5.2-8.5 3.3-4 5.5-4.5 6-3.4 26-9 10-1.6 18.9-1.5 11.4-2 3.8-2 0.6-2 -0.9-4 -13.1-22 -1-2 -0.2-2 1.3-2 9.2-5.3 2-1.6 2.3-3.1 0.8-4 -0.2-16 1.3-4 1.8-1.8 2-0.9 6-1.1 4-1.4 2.4-2.8 2.5-6 1.3-2 3.8-2.3 7.2-1.7 2.8-2.6 1-5.4 -1.6-14 0.2-24 -1.8-8 146.2 0 0 264.5 -2-0.8 -3.3-3.7 -0.6-2 -0.1-6 -1.3-4 -1.6-2 -5.1-4.4 -2.9-3.6 -2.1-4 -4-12 -2-4 -3-2.7 -8.7-5.3 -3.5-4 -2.5-8 1.6-10 -0.9-2.2 -2-0.8 -2 0.1 -8 2.1 -8-0.5 -6 0.4 -4 0.7 -4.5 2.2 -1.5 1.3 -1.6 2.7 -1 4 -0.6 20 0.4 12 1.8 16 1.6 10 1.4 3.7 4 3.9 4 1.7 6 1.6 4 2.1 4 4.7 4 7.3 2 2.5 2 0.7 2-0.5 10-6.6 14-3.2 2-0.2 4 0.9 6 3.6 8 1.2 0 24.1 -8 3.3 -8 1.7 -6-0.6 -18-3.8 -2 0.2 -1.5 1.7 -0.5 2 0.2 4 1.8 7.7 3.2 4.3 3.3 2 11.5 3.3 4 2.5 6.2 6.2 3.8 2.9 10 3.5 0 165.6 -459.3 0 -21.7-16 -3.4-4 -7.6-13.3 -2-1.2 -2 0.4 -2 1.5 -3.7 4.6 -8.3 12.7 -4 4.1 -6 4.4 -13.1 6.8 -18.9 0 0-140.4 6-4.8 2.1-2.8 6-18 0.4-4 -0.8-2 -1.9-2 -11.8-9.6 0-60.6 1.4-1.8 0.7-2 9.1-8 0.2-2 1.1-2 -0.5-2.5 16-3.1 4-1.9 2-1.8 4-6.8 4.7-11.9 3.1-6 4.3-6 5.9-5.3 14-9.6 14-6.6 16-10.5 12-4.7 2 0 3.5-1.3 1.1-2 0.4-4 1.2-2 -0.4-2 0.5-6 -1.7-4 -0.2-4 3.1-2 1.1-4 2-4 1.7-8 4.7-6 1.3-6 2.9-2 1.6-4 -0.6-2 1.8-1.2 0.2-0.8 -4.9-6 0.1-2 -5.4-5.9 -0.9-0.1 2.9-2 0.3 2 1.7 1.6 2-0.1 0.6 0.5 0 2 2.6 2 0.2 2 0.6 0.5 2-0.2 0.9-4.3 -0.9-1 -2.3-1 0.3-2.3 1.8-1.7 2-4 2.2 1.1 1.3-1.1 -1.4-6 6.2-10 2.8-2 4-8 5.1-7.6 0-3.2 4-5.8 4.9-5.4 7.1-5.3 16-5.9 8-5 8.2-7.8 8.5-12zM408 240.9l-2 0.3 -5.6 5.8 -2.8 2 -3.6 1.6 -4 1 -16 1.6 -6 2 -6 3.3 -3.2 2.5 -1.6 2 -0.6 2 0.1 2 0.9 2 2.4 2.5 6 3.5 8 2 16 0.4 10-0.7 10 0 18-1.4 18.8-6.3 3.2-1.8 0.9-2.2 -0.6-2 -1.6-2 -2.6-2 -4.2-2 -19.9-7 -5.3-3 -6.7-5.2 -1.8-0.8zM550 134.9l-2 0.2 -2 1 -2 2 -2 3.7 -0.7 3.2 0.8 4 1.4 2 2.5 1.9 2 0.6 12 0.7 4-0.2 2.1-1 0.7-2 -1.5-4 -5.4-6 -5.9-4.7 -3.6-1.3zM650 461l-2 0.3 -2.1 1.7 0.8 2 1.8 2 3.5 1.1 14 2.2 4-0.9 2.5-2.4 0.2-2 -1.2-2 -5.5-2 -14-0.1zM322 346.8l-4 3.5 -1.9 2.7 -1.5 4 -0.1 2 1.5 3.5 2 1.8 2 0.9 2 0.1 2-0.6 1.9-1.7 1.1-2 3-6.6 2.2-3.4 0.3-2 -1.2-2 -3.3-1.8 -4 0.5zM360 294.7l-4 1.2 -2 1.1 -1.8 2 -1.6 4 -1 6 -0.6 12 0.6 4 2.4 2.5 4 0.2 22-13.6 4.8-5.1 1.7-4 0-2 -0.6-2 -1.5-2 -4.4-3.1 -6-1.7 -10 0.2zM396 372.7l-6 2.6 -10 8.9 -16 8 -6 1.9 -12-0.2 -4 0.7 -2 1 -2 1.5 -3.1 3.9 -4.2 10 -2.7 5.1 -4 4.4 -4 2.9 -8 3.3 -29 8.3 -9.5 4 -5.5 3.9 -3 4.1 -1.5 4 -0.7 4 -0.4 14 -0.6 2 -1.5 2 -4.6 2 -15.7 2.2 -3.2 1.8 -1.3 2 0 2 1.3 2 14.4 12 0.9 2 -0.7 10 0.6 2.4 2 2.6 4 1.8 4 0 2-1 2-3 0.7-6.8 -0.8-18 0.6-6 1.9-4 2.4-2 9.2-4.9 8-2.3 6-0.5 4 0.7 10 4.1 6 4.3 3.3 4.6 5.1 10 7 18 2.2 4 2.4 2.5 2 1.1 4 0.5 2-0.6 2-1.6 1.9-3.9 0.4-4 -0.7-6 -2.4-10 -2.8-8 -6.1-8 -1.9-4 -0.7-4 0.1-4 2.2-7 4-5.3 6-4.2 4-1.7 4-0.8 6 0.6 3.8 2.4 2.2 2.5 3.2 5.5 2.3 10 0.8 2 1.7 2.2 4 1.7 18 1.8 8 2.1 6.9 4.2 11.1 9.8 4 2.3 4 0.1 12-3.5 10-1.7 18-0.8 10 0.6 8-0.5 8 0.3 12-2.1 6-0.5 3.5-2 0.4-2 -3.9-1.8 -14-1.3 -22-0.7 -6-1.2 -10-3.6 -16-10.6 -8-3.7 -10-6 -24-8.8 -8.5-4.3 -2.9-2 -1.4-2 0-2 0.8-1.5 8-8 10.7-14.5 5-10 2.4-8 0.1-4 -0.6-4 -1.4-4 -2.2-3.2 -2-1.4 -4-1 -8 0.8zM560 192.8l-13.6 4.2 -2.2 2 -2.1 4 -0.1 4.4 3.4 7.6 0 12 0.6 3.9 2 5.7 2 2.1 6-2.4 6-3.3 2-2 0.8-2 0-2 -0.7-2 -4-6 -1.6-4 -0.1-2 1-4 5.7-12 0.2-2 -0.6-2 -0.7-0.6 -2-0.1zM542 240.7l-12 4.4 -15.1 3.9 -4.9 1.8 -3.2 2.2 -1.5 2 -0.4 2 0.4 2 2.7 3.1 2 1.1 4 1.2 8 1 8-0.5 8 0.5 4-0.4 4-1.6 4-3 2-3.4 0.7-4 -0.7-7.2 -2-4.6 -2-1.3 -4 0.4zM564 300l-2 1.5 -0.8 1.5 -1.5 8 1.3 38 -1.8 20 -0.7 4 -1.4 4 -3 4 -2.9 2 -3.2 1.3 -8 1.2 -26-1 -22 0 -6 1.6 -1.7 0.9 -1.2 2 0.8 2 2.6 2 4.5 2 11 2.8 24.9 9.2 13.1 4 20 9.2 6 4.2 4 4.1 10 15.1 4 4.5 4 2.8 7.9 4.1 4.5 2 3.6 0.7 32 1.8 2.4-0.5 1.3-2 -0.4-2 -2.3-4 -2-2 -11-7.4 -11.5-10.6 -2.5-3.4 -4.6-8.6 -1.7-2 -1.7-1.2 -4-1.3 -16-2.5 -4-1.8 -3-3.2 -1.6-6 0-20 -3-26 0.7-42 -1.3-6 -1.8-4.4 -2-2.4zM518 277l-10 3 -4.2 3 -1.8 2.7 -1 3.3 0.4 4 0.9 2 3.8 4 5.9 2.4 6 0.3 12-1.3 3.3-1.4 2.5-2 5-6 2-4 0.2-2 -0.6-2 -2.4-3 -4-2.1 -12-1.7 -4 0.3zM540 478.7l-0.5 0.3 1 2 1.5 0.7 4 1.3 2-0.8 1.3-1.2 -0.2-2 -1.1-0.8 -2-0.8 -4 0.3zM618.1 253l1.9-1.4 2-0.2 2 1.6 1.3 2 0.2 2 -1.5 2.4 -2 0.9 -2-0.1 -2.3-1.2 -1.3-2 1.6-3.9z"/>
<path fill="#0149ff" d="M345.9 55l145 0 -1 4 -0.3 6 2.2 22 -1.6 10 -0.9 2 -3.3 3 -8 2.7 -3.8 2.3 -3.7 4 -6.8 10 -1.7 6 0 8 0.8 10 -1.4 12 -1.9 6 -4.2 8 -3.3 3.9 -2.8 2.1 -5.2 2.3 -6 1.5 -4 0.3 -6-0.6 -16-4.3 -4 0 -4 1.7 -2.4 3.1 -1.5 6 0.7 20 -0.8 6 -2 4 -6.5 6 -1.6 2 -0.5 2 0.3 2 1.5 2 8.7 6 1.2 2 -0.3 4 -3.1 4 -3.7 2.2 -4 1.2 -16 1.9 -7.9 2.7 -6.8 4 -3.9 4 -0.7 4 0.6 2 2.7 3 5.2 3 8.8 2.5 18 0.5 36-1.7 31.1-7.3 0.2-2 -1-2 -3-4 -3.3-2.6 -6-2.8 -20-6.3 -7-4.3 -3.7-4 -2.1-4 0-4 1.2-4 2.2-4 3.4-4 5.5-4 4.5-2.2 12-3.1 10.9-4.7 5.1-1.6 36-4.7 4-1.2 2.6-2.5 0.5-2 -0.9-4 -4.6-8 -2.3-6 -0.6-4 0.5-4 1.9-4 5.9-8 1.9-4 0.5-2 0.4-12 0.7-4 1.1-2 2.4-2.3 9.4-5.7 6.6-8.5 4-2.3 8-3.1 1.9-2.1 0.8-2 1-10 -1-42 139.3 0 0 256.3 -5.5-10.3 -8.5-8 -2-2.9 -6.3-15.1 -1.7-2.8 -2-2.1 -7.3-5.1 -3.6-4 -1.5-4 -0.5-4 2.3-12 0-2 -1.4-2.7 -2-0.9 -4 0.1 -12 3.1 -14 1.9 -4 1.2 -4 2.4 -2 2.7 -1.1 4.2 -0.7 22 0.3 12 1.8 16 1.5 10 1.5 4 2.7 3.4 2 1.4 10 3.9 4 2.5 3.6 4.8 4.4 10.3 2 3.1 2 0.4 7.1-7.8 4.9-3.5 4-1.3 10-1.7 2 0 4 1.2 6 3.4 8 3.2 0 17.3 -5.2 3.4 -8.8 2.6 -6 0.1 -12.9-2.7 -11.1-5.3 -2 1.1 -0.5 4.2 0.6 6 1.9 8 1.6 4 2.4 3 4 2.6 12 3.7 4 2.6 8 7.4 4 2.1 8 2.9 0 163.7 -456.2 0 -5.8-3.6 -18-13.4 -3.9-5 -6.2-12 -1.9-2.4 -2-0.7 -2 0.4 -3.4 2.7 -11.3 16 -5.3 5.5 -4 3 -18.1 9.5 -13.9 0 0-139.6 6-4.7 2.9-3.7 5.9-18 0.5-4 -0.7-2 -1.8-2 -12.8-10.5 0-58.3 2.4-3.2 0.8-2 8.8-7.7 -0.1-2.3 2.1-3.9 14-2.8 3.6-1.3 2.4-1.8 4-6.4 7.3-17.8 4.7-7 6-5.6 14-9.6 14-6.5 16-10.5 10-3.8 6-1.2 3.1-1.8 0.7-6 0.9-2 0-8 -1.4-4 -0.1-4 2.8-0.7 1.4-5.3 2-4 -0.3-2 1.3-2 0.9-4 4.4-6 1.6-6 2.7-2 1.3-2 -0.2-4 0.9-0.6 0.4-1.4 -5-6 0.1-2 -3.8-4 -0.8-2 1.1-0.8 0.1 0.8 1.9 1.8 2.4 0.2 0.1 2 2.4 2 0.3 2 2.9 2 0.9-2 0.1-4 -1.1-1.4 -2-0.5 0-0.5 4-5.8 2-0.4 1.6-1.4 -0.6-6 6.1-10 2.7-2 2.9-6 5.9-10 -0.2-2 4.1-6 5.5-6 6-4.4 4-2 12-4 4-2 4-2.9 9.1-8.7 4.9-6.4 4.7-7.6zM356 294.6l-3.9 2.4 -2.2 4 -3.5 24 0.2 2 1.4 2.5 2 1.1 4 0.1 4-1.7 8-6 12.4-8 5.7-6 1.8-4 0.2-2 -0.6-2 -1.5-2 -6-4 -4-1.2 -6-0.6 -10 0.8zM400 370.8l-8 2.3 -3.1 1.9 -6.9 6.5 -4 2.7 -16 7.3 -6 1.2 -12-0.6 -4 1.4 -2.1 1.5 -3.3 4 -6.6 14.4 -2 2.8 -4 3.6 -4 2.5 -6 2.5 -28 8.2 -8 3 -6 3.1 -4 3.4 -2.8 4.5 -1.6 6 -1.3 14 -2.2 4 -2.1 1.4 -4 1.1 -14 1.5 -3.4 2 -1.2 2 -0.2 4 0.8 2 2 2.3 7.1 5.7 3.5 4 1.1 2 1 10 1.4 4 3.9 4 4 1.8 4 0.9 2-0.3 2-1.2 2-2.6 0.9-2.6 0.5-10 -1-16 0.6-4 1.7-4 3.3-3.4 3.8-2.6 8.2-3.3 8-0.9 8 2 8 3.8 4.5 4.4 6.2 12 7 18 2.3 4.5 4 4 2 0.9 4 0.4 4-1.6 2-2.2 1.7-6 -0.2-6 -1.5-8 -3-10 -2-4 -4.8-6 -2.2-4 -0.9-4 0.3-4 2.2-6 3.1-4 5.3-3.9 6-2.3 6-0.1 4 2.2 2 2.1 3.7 6 3.3 10 3 3.4 4 1.5 20 2.2 6 2.2 4.2 2.7 4.6 4 9.2 10.5 2 1.5 2 0.4 4-1 12-4.9 10-2 18-1.1 28 0.1 16-2.2 4.5-1.3 7.5-3.5 2 0 20 4.8 4.6-1.3 1.7-2 0.1-2 -1.7-2 -4.7-1.6 -6 0.3 -12 2.6 -4 0.3 -3.9-1.6 -10.1-1.9 -30-0.8 -8-1.3 -12-4.6 -14.2-9.4 -9.8-4.4 -10-6.2 -20.5-7.4 -10.8-6 -2.1-2 -0.2-2 7.6-9.6 10-14.3 4.9-10.1 2.4-8 -0.7-8 -2.6-6.5 -2-2.1 -2-1.2 -4-0.8 -4 0.1zM546 128.5l-2 1.8 -2 2.9 -4 8.7 -0.4 5.1 2.2 4 4.2 3.1 4 1.5 16 2.5 8 0.7 2-0.5 1.7-1.3 0.3-2 -1.9-4 -5.1-6 -11-10.4 -6-4.7 -4-1.8zM614 140.9l-2 0.7 -2 1.4 -3 4 -0.7 2 1.4 2 4.3 0.4 2-1 1-1.4 1-4.1 -0.3-1.9 -1.6-2zM324 341.9l-4 3.4 -4 4.9 -2.5 4.8 -0.5 4 1.6 4 2.3 2 3.1 1.2 4-0.4 2-1.4 5.5-9.4 4.7-4 0.9-2 -0.8-2 -4.3-4 -4-2 -2 0.1zM572 180.2l-6 3.5 -8 6.7 -14 6.2 -4 4.4 -1.1 2 -1 4 0.5 4 2.5 8 0.6 6 0 8 -1.8 4 -5.1 4 -3.8 2 -22.8 7.1 -4.3 2.9 -1.3 2 -0.4 2 1.5 4 2.5 2.4 4 1.9 12 2.5 8-1.3 8 0.9 4-0.4 6-3.3 4-4.1 1.7-4.6 0.9-8 1-4 2.4-3 8-6 2.1-3 -0.1-4 -5-10 -0.9-4 0.2-2 2.3-6 11.3-22 0.1-2.5 -2-0.9zM520 274.4l-12 3.5 -4.9 3.1 -1.8 2 -1.9 4 -0.2 4 0.4 2 2.3 4 2.1 1.9 6 2.8 6 0.8 14-1.3 4.7-2.2 6.1-6 3.9-6 0.4-2 -0.4-2 -2.7-4 -4-2.7 -16-2.3zM564 298.5l-2 0.8 -1.3 1.7 -1.6 6 -0.2 6 1.2 40 -2.5 20 -1.4 4 -2.2 3.1 -2 1.7 -4 1.8 -8 1.2 -42-1.2 -8 0.4 -4.8 1 -3.2 2 -0.8 2 0.7 2 2.5 2 4.2 2 13.4 3.5 24 8.9 14 4.5 18 8.5 6 4 4.9 4.6 10.9 16 3.6 4 5.8 4 8.1 4 6.7 1.9 16 0.7 18 2.4 4 1.8 3.6 3.2 3.5 2 14.9 2.1 4.1-0.1 4.6-2 1.6-2 0.4-2 -0.9-2 -1.8-1.4 -6-1.7 -18-1.3 -4-1.6 -7.1-8 -10.9-7.3 -12-10.5 -3.3-4.2 -4.4-8 -2.3-2.6 -4-2.1 -18-3.3 -3.8-2 -2.2-2.7 -1.6-5.3 -0.3-22 -3.1-26 0.7-14 0.1-26 -1.8-8.3 -2-4.2 -2-1.8z"/>
<path fill="#004bff" d="M345.6 57l1.3-2 140.2 0 -0.4 10 2.8 20 -0.5 8 -1.6 4 -1.5 2 -2.8 2 -7.1 3 -4.4 3 -7.9 8 -4.1 6 -1 6 1.8 18 -1 12 -1.8 6 -3.6 6.7 -2.8 3.3 -3.2 2.5 -4 1.9 -6 1.5 -8 0.2 -14-3.6 -6-1 -4 0.4 -3.9 2.1 -2.4 4 -0.8 4 0.5 20 -0.4 6 -1.6 4 -7.8 8 -1.6 4 0.3 2 1.7 3 6.5 5 1.5 2 0.5 2 -0.2 2 -1.1 2 -3.2 2.7 -3.5 1.3 -14.5 1.8 -6 1.6 -4 1.6 -8 4.5 -4.2 4.5 -1 4 1.2 3.6 2.4 2.4 3.8 2 5.8 2.2 4 0.9 16 0.6 40-1.6 22-4.2 12 0.1 2-1.7 0.4-2.3 -1.9-4 -4.5-5.4 -3.2-2.6 -6.8-2.9 -18.9-5.1 -4.5-2 -2.9-2 -3.5-4 -1.8-4 -0.2-4 1-4 2.3-4 1.7-2 5.3-4 5.5-2.2 12-2.7 14-6.7 8-1.7 30-3.9 2.5-0.8 3.1-2 1.3-2 0.2-4 -5.8-12 -0.9-4 0.1-4 2.1-6 6.3-10 1.8-4 0.9-4 -0.2-8 0.8-4 2.7-4 8.6-6 6.9-8 5.6-2.5 8-0.8 2-1.8 1.4-14.9 -0.3-36 0.8-8 129.4 0 4.7 1.5 0 248.1 -4.4-5.6 -6.7-6 -2.9-3.4 -6.9-14.6 -2.5-4 -9.5-8 -2.6-4 -0.9-4 0.2-4 4-14 -0.3-4 -1.5-1.8 -2-0.5 -4 0.4 -16 5 -16 3.1 -4 1.4 -3.4 2.4 -1.4 2 -1.1 4 -0.7 24 0.3 10 1.6 16 2.3 14 2.1 4 2.3 2.6 4 2.5 10 4.5 4 4.5 3.4 9.9 6.2 28 1.8 6 2 4 4.6 4.3 4 1.8 10 2.9 12 9.9 12 5.2 0 59.7 -2-1.9 -4-1.5 -18-1.8 -6-1.8 -8-7.4 -11.2-7.4 -11.7-10 -3.5-4 -4.4-8 -3.2-3.3 -4-2 -16-3 -4-1.7 -2.3-2 -1.7-3.3 -0.7-2.7 -0.6-24 -3-24 0.8-16 0.1-24 -2.3-10 -2.2-4 -2.1-1.4 -2-0.3 -2 0.5 -1.5 1.2 -1.2 2 -0.9 4 -0.3 6 1.2 42 -2.5 20 -0.5 2 -2.3 4 -2.1 2 -3.9 2 -6 1 -16 0 -30-1.1 -8 0.5 -5.6 1.6 -2.1 2 -0.7 2 0.7 2 1.7 1.6 4.3 2.4 15 4 22.7 8.5 16 5.3 16.8 8.2 6.2 4 5 4.6 9.2 13.4 4.8 6.1 6 4.6 8 4 6 2.1 16 0.7 16 2.4 4 1.2 8 4.9 6 1.7 16 1.2 3.2-0.9 2.8-1.5 2-2.2 0 97.7 -419.6 0 0.9-6 -1.3-2.8 -2-0.7 -2.7 1.5 -5.8 8 -22 0 -9.5-5.3 -16-11.6 -4.4-5.1 -7.2-14 -2.4-2.5 -2-0.5 -3.4 1 -2.6 2.2 -13.6 17.8 -4.1 4 -4.3 3.2 -20.6 10.8 -9.4 0 0-138.8 6.8-5.2 2.8-4 5.3-16 1.3-6 -0.7-2 -1.8-2 -13.7-11.3 0-56.1 4.3-6.6 7.7-6.8 0.8-1.2 1.2-5 14-2.8 4-1.3 2-1.3 2.8-3.6 2-4 7.2-18 4-6.1 6.2-5.9 11.8-8.3 6.6-3.7 11.4-5 14-9.4 6-2.5 12-2.9 2-1.4 0.7-2.8 0.7-12 -1.3-4 0-4 2.6-2 1.5-6 1.9-4 -0.5-2 1.6-2 1-4 4.2-6 1.9-6 2.7-2 1.2-2 -0.5-2 0.9-4 -5.1-6 0.2-2 -3.8-4 0.1-1.2 2 1.1 2.2 0.1 0.1 2 2.4 2 0.3 2 3 2.3 1-0.3 0.9-2 -0.8-2 0.3-2 -1.4-1.7 -1-0.3 4-6 2 0 1 2 0.5-2 -1-6 0.5-1.8 6-10 2.8-2.2 2.8-6 4.8-8 1-4 4.1-6 5.6-6 5.6-4 4.2-2 11.1-3.4 4-2 4-2.9 8.3-7.7 6.4-8 3.8-6zM358 292.9l-5.8 2.1 -2.9 4 -1.5 6 -1.8 11.9 -3.5 10.1 0.4 4 1.1 1.5 2 1.5 4 0.7 4-1.3 4-2.3 9.8-8.1 12.1-8 5.6-6 1.9-4 0.3-2 -0.5-2 -1.5-2 -3.7-2.9 -4-2.1 -10-1.8 -8 0.3zM396 370.7l-4 1.4 -4 2.4 -6 5.6 -4 3 -14 6.3 -8 1.8 -12-1.1 -4 1.1 -4 3.4 -2 2.8 -7.4 15.6 -2.6 3.1 -4 3 -10 4.5 -34 10.7 -6 2.7 -4 2.9 -2.6 3.1 -2 4 -1.4 6 -1.4 12 -1.9 4 -2.7 1.9 -2 0.5 -12 0.4 -4 1 -3.4 2.2 -1.7 4 0.2 4 2 4 8.9 8 2.6 4 2.4 12 2 4 3 3 6 3.6 4 1.4 2 0.3 2-0.4 2-1.5 2.3-4.4 1.2-6 -0.1-12 -0.9-10 0.3-4 1.3-4 3.1-4 5.8-4 7-2.3 6-0.6 4 0.6 6.5 2.3 5.5 3 3.1 3 5.2 10 8.7 22 3.8 6 3.2 2.3 4 1 4-0.4 2-0.8 2.4-2.1 2-4 0.7-6 -0.8-8 -3.7-14 -2-4 -6.6-9.1 -1.1-2.9 -0.3-4 1.4-4.9 4-5.5 6-3.9 6-1.6 4 0.6 4.5 3.3 3.5 5 3.6 9 1.3 2 3.1 2.6 6 1.5 16 1.6 6 1.9 3.8 2.4 8.1 8 2.9 4 3.2 7 2 2 2-0.1 4-1.3 9.7-5.6 4.8-2 11.5-2.4 16-1 28-0.2 16-1.9 12-2.7 12 0.9 8 1.7 4 0 5.4-2.4 1.5-2 0.2-2 -1.2-2 -1.9-1.3 -4-1.4 -6-0.4 -18 1.2 -16-1.4 -30-0.7 -6-1.4 -10.9-4.6 -9.1-6 -8-4.4 -8-3.4 -10-6.3 -20-7.3 -7.4-4.6 -1.8-2 -0.5-2 0.5-2 15.7-24 4.3-10 1.3-4 0.4-4 -0.4-4 -1.6-6 -2.2-4 -2.3-2 -2-0.9 -4-0.7 -8 0.8zM542 119.6l-2.9 9.4 -5.2 14 -0.3 4 0.7 2 3.9 4 3.8 2.3 4 1.5 16 4 5.1 2.2 2.3 2 1.1 2 0.1 4 -1.8 4 -10.1 12 -4.7 3.3 -10.3 4.7 -4.9 4 -3.1 4 -0.9 2 -0.7 4 0.8 4 2.8 8 0.8 8 -0.6 4 -2.4 4 -3.5 3.1 -4 2.1 -20 6.2 -4 1.8 -3.6 2.8 -1.2 2 -0.4 2 1.4 4 3.8 4.1 4 2 8.4 1.9 1.6 2 -2 2.4 -10 2.8 -4 2.8 -2 2.2 -2.1 3.8 -0.6 4 0.6 4 2.1 3.9 2.2 2.1 3.8 2.3 6 1.6 6 0.2 12-1.1 4-1.7 4.4-3.3 5.6-6 2.7-4 0.4-2 -1.3-4 -3.8-5.5 -2-2.2 -1-0.3 -0.8-2 1.8-0.1 2-1.1 8-6.1 2-2.2 2.4-4.5 2.3-10 1.3-2.8 2.9-3.2 8.6-6 1.5-2 0.3-4 -1.3-4 -4.1-8 -0.9-4 0.1-2 2.1-6 4.8-8.5 10.8-13.5 1-4 -0.2-8 0.8-6 4.1-10 -1.5-2 -9-5.1 -4-3 -26-24.3 -4-1.5zM612 136.8l-10 8.7 -7.6 5.5 -1 2 2.6 1.8 2 0.5 10 0.5 5.3-0.8 2.7-1.5 2-2.5 1.4-6 -0.2-4 -1.2-3.2 -2-1.6 -2-0.1zM326 336.5l-4 3 -4 4.9 -4.3 6.6 -2.3 6 0.5 4 2.1 3.1 4 2.5 4 0.7 2-0.4 2.8-1.9 5.2-8.7 2-1.9 4-2.2 1.4-1.2 1-2 -0.4-2.8 -8-8.6 -2-1.1 -2-0.4zM414 506.8l-2 0.5 -2 1.3 -1.8 2.4 -0.2 3 2 2.7 2 0 2-1.7 1.1-2 0.6-4 -1.2-2zM528.1 269l3.9-0.6 2.6 0.6 3.4 2 -1.3 2 -4.7 0.8 -3.6-0.8 -1.9-2 1.5-1.9zM648 333l8-1.1 4 0.6 12.7 6.5 3.3 3 0 10.1 -0.5 0.9 -1.7 2 -3.8 2.5 -8 2.6 -8 0 -10-2.3 -5.3-2.8 -3.7-4 -0.7-2 -0.2-4 1.6-4 4.3-4.8 2-1.5 4-1.4z"/>
<path fill="#0059ff" d="M347.9 55l135.3 0 1.2 16 3.1 16 -0.8 6 -0.7 2 -2 2.7 -4 2.8 -6 2.7 -5.5 3.8 -8.5 7.5 -3.2 4.5 -1.1 4 -0.1 4 2.5 16 -0.3 12 -2.1 8 -2.1 4 -3.1 4 -4.5 3.4 -8 2.6 -9.4 0 -12.6-3.3 -8-0.9 -4 0.5 -2 0.9 -2.9 2.8 -0.9 2 -1 6 0.8 20 -0.8 6 -1.7 4 -7.5 8 -1.5 4 0.1 2 2.1 4 6.6 6 0.7 2 -0.1 2 -1.2 2 -2.8 2 -15.9 2.6 -6 1.7 -6 2.3 -8.6 5.4 -3.3 4 -1.4 4 0 2 2 4 3.3 2 10 3.6 18 1 42-1.6 20-3.3 14 0.4 2-0.4 2.2-1.7 1.2-2 -0.1-4 -3.8-6 -5.5-5.5 -4-2.1 -4-1.2 -21.6-5.2 -3.7-2 -2.3-2 -2.4-3.8 -0.6-2.2 -0.3-4 1-4 2.7-4 5.2-3.9 4-1.4 12-1.8 4-2 7.5-4.9 4.4-2 8.1-1.8 30-4.4 4.4-1.8 2.4-2 1.1-2 -0.3-4 -4.7-10 -1.1-4 -0.2-4 0.9-4 3.5-6.6 5.4-7.4 3.2-6 0.2-4 -0.9-6 0.8-4 1.8-2 7.5-5 5.8-7 2.2-1.8 2-0.5 2 0.5 1.8 1.8 0.5 2 -0.9 6 -5.1 14 0.3 4 1.4 2 2.6 2 7.4 3.7 19.8 6.3 3.5 2 1.8 2 0.6 2 -0.6 4 -2 4 -5.5 8 -4.9 4 -12.7 6.4 -6.5 5.6 -2.7 4 -0.6 2 0 4 3.8 9.3 1.4 6.7 -0.4 4 -1.7 4 -3.3 3.4 -4 2.3 -24.7 8.3 -3.1 2 -1.7 2 -0.9 2 -0.2 2 1.2 4 6.3 8 1 2 -0.5 2 -4.9 6 -2.3 4 -1 6 1.4 6 3.2 4 2.9 2 3.3 1.5 8 1.5 8-0.3 10-1.5 6-3.5 9.8-9.7 1.2-2 0.4-2 -0.5-2 -4-8 -0.4-2 0.4-2 8.9-10 1.8-4 2.4-8.1 2.2-3.9 3.8-3.5 8.7-4.5 2.7-2 0.5-2 -0.3-2 -5.6-11.1 -1.9-4.9 0.2-6 1.7-4.2 4-6.6 4-4.7 6.8-6.5 2.8-4 0.9-4 0.3-10 1.2-4 2-2.7 4-2.2 14-1.1 6-2.1 3.8-3.9 2.1-6 0.1-6 -1-4 -1.1-2 -1.9-1.6 -2-0.5 -4 0.6 -12 9.3 -8 3.3 -6 0.3 -6-2 -6-3.9 -6.2-5.5 -7.8-7.6 -11.2-12.4 -2.8-4.7 -0.9-5.3 0.4-16 -0.3-24 1.6-10 115 0 6.2 5.8 4 2 4 0.8 0 236.9 -12-11.5 -8.4-16 -3.6-4.3 -6.5-5.7 -2.7-4 -0.9-4 0.2-4 5.4-14 1.3-6 -0.6-4 -2.2-1.5 -2-0.3 -4 0.7 -22 8.2 -16 3.5 -4 1.5 -3 1.9 -1.4 2 -0.8 4 -0.2 28 0.6 12 1.7 16 1.8 10 1.9 4 3.4 4 2 1.5 10 4.7 4.1 3.8 1.9 4 2.4 14 2.5 10 6 18 1.1 2 2 2.7 4 3.4 2 1.1 10.2 2.8 3.8 2.3 8 7.2 14 6.6 0 54.9 -6-2 -14-1.5 -8-1.7 -12-9.5 -9.9-6.3 -10.1-8.6 -4-4.6 -5.4-8.8 -2.3-2 -2.3-1.4 -4-1.2 -10-1.7 -6-1.7 -4-3.7 -1.8-6.3 -0.8-24 -3-24 0.8-14 0.1-26 -2.9-10 -2.4-3.4 -2-1.1 -4-0.3 -2 1 -1.4 1.8 -1.1 4 -0.4 8 0.9 12.4 0.5 29.6 -1.7 10 -0.9 10 -1.6 4 -1.4 2 -2.4 2 -4.5 1.8 -6 0.6 -16-0.1 -28-1.2 -8 0.3 -6 1.3 -1.8 1.3 -1.6 2 -0.3 2 0.5 2 1.8 2 5.4 3 14 3.4 24 9 14 4.6 19.9 10 6.1 4.4 3.7 3.6 10.9 16 3.4 3.8 4 3.3 8 4.3 8 2.5 14 0.6 18 3.2 2 0.5 10 5.4 6 1.4 16 0.7 4-0.8 4-2 0 95.1 -415.5 0 0.6-6 -0.6-4 -1-2 -1.5-1.5 -2-0.5 -2 0.3 -2 1.1 -2 1.6 -6 7.2 -4 2.8 -2.5 1 -7.7 0 -6.4-2 -5.4-2.6 -6-3.7 -13.3-9.7 -4.7-5.8 -7.5-14.2 -2.5-2.2 -2-0.6 -4 1.1 -2.1 1.7 -14.8 18 -6.7 6 -25.9 14 -4.5 0 0-137.9 6-4.4 3.5-3.7 1.9-4 5.7-20 -0.6-2 -1.6-2 -14.9-12.5 0-53.4 5.6-8.1 6.6-6 1.8-3.2 1.6-0.8 -1.6-2 16-3.2 4-1.7 1.2-1.1 5.6-10 3.4-10 3.8-8 4-5.3 5.4-4.7 14.6-9.9 12-5 17-11.1 5-2.1 8-1.8 4-0.4 3.2-1.7 0.6-2 0.3-14 -1.1-4 0.1-4 2.4-2 1.5-6 1.8-4 -0.7-2 1.8-2 1.2-4 4-6 2.2-6 2.7-2 0.8-2 -0.5-4 0.5-2 -5.1-6 0.1-2 -1.6-2 1.3-2 0.5 0 0.1 2 2.4 2 0.3 2 3.2 2.5 1.9-0.5 1.1-2 -1-0.7 -0.6-1.3 0.3-2 -1.5-2 3.1-4 0.7-1.7 0.7 1.7 1.3 0.6 1.1-0.6 -0.9-8 5.9-10 3.7-4 4.2-8.4 3.7-5.6 0.3-3.5 6-8.2 4.2-4.3 5.8-3.9 14-4.6 4-1.9 4-2.8 6-5.3 5.1-5.5 6.1-8 3.6-6zM354 292.3l-4 2.2 -1.6 2.5 -1.7 6 -1.4 10 -1.3 4.7 -2 3.9 -6 6.4 -4 1.9 -6 1.6 -4 2.9 -11.2 18.6 -1.1 6 0.4 2 1.9 3.2 2 1.8 4 1.9 4 0.5 2-0.2 2.2-1.2 1.8-1.8 5-8.2 2.7-2 4-2 2.2-2 9.7-12 15.7-14 12.7-8.6 3.8-3.4 3.5-4 2-4 0-4 -1.4-2 -3.9-3 -4-2.3 -6-1.7 -6-0.8 -6-0.1 -6 0.6zM400 368.8l-4 0.8 -6 2.3 -10 8.4 -4 2.6 -14 5.7 -6 0.8 -14-1.7 -4 2 -5.7 7.3 -6.3 14.3 -2 2.4 -4 3.2 -14 6 -34 10.9 -6 3.3 -3.8 3.9 -2.2 4 -1.3 4 -2.7 16 -1 2 -3 2 -12-0.5 -6 0.8 -2 0.8 -2 2.1 -1.2 2.8 -0.3 6 0.3 2 1.8 4 3.4 3.7 5.2 4.3 2.6 4 2.7 12 2 4 5.5 5.7 12 7.6 2 0.3 2-0.7 2-2.1 2.9-8.8 0.8-10 -1-18 0.5-4 1.4-4 3.3-4 2.6-2 4.4-2 7.1-1.4 4 0.2 6 1.5 4.1 1.7 5.3 4 2.6 3.9 1.9 4.1 8.4 22 4.1 8 3.6 3.3 2 0.9 4 0.9 4-0.4 5-2.7 2.5-4 1.1-6 0-4 -1.4-10 -2.1-8 -3.8-8 -5.3-6.7 -1.5-3.3 -0.2-4 1.7-4.6 4-4.6 6-3 4-0.6 2 0.3 2 0.7 4 3.2 2 2.4 5.3 10.2 2.7 2.6 6 2.4 14 1 7.9 2 4.1 2.4 5.8 5.6 4.1 6 1.9 6 -0.7 4 -6.2 8 -0.8 2 0 4 1.9 4.1 2 1.5 2-0.1 4-3.5 4-8.8 2.2-3.2 13.9-10 7.9-3.4 10-1.9 7.6-0.7 36.4-0.8 14-1.6 12-2.1 8 0.2 12 1.9 4 0 5.4-1.6 3-2 1.5-2 0.3-2 -0.8-2 -2.6-2 -2.8-1.3 -6-1.2 -24 0.7 -16-1 -26-0.5 -5.5-0.7 -12.5-5.9 -6-3.9 -6-3.1 -12-5.3 -12-7.4 -12.6-4.4 -8.7-4 -4.2-4 -0.7-2 0.1-2 2.1-4.6 7.4-11.4 4.4-8 5.1-12 0.9-6 -0.4-4 -1.7-6 -1.9-4 -1.7-2 -2.1-1.5 -4-1.1 -6 0zM644 335l10-1.8 4 0.2 4 1.6 9.8 6 1.9 2 1.1 4 -0.8 4 -3.5 4 -3.7 2 -6.8 1.8 -6-0.1 -8-1.8 -4-1.9 -2.5-2 -2.6-4 -0.5-4 0.5-2 2.2-4 1.9-2 3-2z"/>
<path fill="#0067ff" d="M349.2 55l128.9 0 2.6 16 3.7 14 0.3 4 -0.8 4 -2.8 4 -11.1 6 -12 7.8 -2.6 2.2 -2.5 4 -1.1 4 -0.1 4 0.9 6 3.3 14 0.1 8 -1.7 8 -2 4 -3.1 4 -5.2 3.7 -4 1.4 -4 0.7 -8-0.3 -16-3.6 -6-0.6 -5.6 0.7 -3 2 -2 4 -0.4 4 1 20 -0.4 8 -1.4 4 -1.3 2 -4.9 4.8 -2 2.8 -1.3 4.4 0.1 2 1.2 3.8 2 2.9 4 4 0.8 1.3 -0.2 2 -2.6 2.1 -12 2.5 -10 2.9 -6 2.7 -6.6 3.8 -4.3 4 -2.4 4 -1.3 6 0.8 4 2.2 2 13.6 3.2 18 0.6 44-1.8 20-2.5 14 0.6 4-1 4.2-3.1 1.7-4 -0.7-4 -5.2-8.7 -4-3.9 -4-2.1 -4-1.1 -20-3.4 -4-1 -3.4-1.8 -2.9-4 -0.8-4 0.7-4 2.3-4 2.1-1.6 4-1.3 4-0.2 6 0.7 4-0.7 10-8.9 2.7-2 4.1-2 13.2-2.8 24-3.7 5.1-1.5 3.9-2 1.8-2 0.3-2 -6.8-14 -0.9-4 0.2-4 1.3-4 4-6 5.1-5.3 6-4.2 2-0.6 4 0.1 22 6.1 6 2 6.3 3.9 1.4 2 0.6 2 -0.5 4 -2.7 6 -3.1 4 -4 3.1 -10.3 4.9 -10 6 -2.5 2 -2.6 4 0.5 6 4.9 11.1 1.1 4.9 -0.6 4 -2.5 4 -5.8 4 -8.2 3.7 -16.8 4.3 -3.2 2 -1.7 2 -1.2 4 0.3 4 1.2 4 4.1 8 -0.2 2 -3.2 8 -0.8 4 0.3 6 1.1 4 2.6 4 2.5 2 5 2.3 6 1.3 8 0.2 10-0.8 4-0.9 4.7-2.1 13.1-10 1.5-2 0.4-4 -3.3-10 0.1-4 6-8 4.9-12 2.6-4.2 2-1.9 4-2.5 6-1.8 12 0.5 2 0.8 2.7 5.1 1.2 6 0.3 32 2.3 22 1.9 8 2.3 4 3.3 3.8 11 6.2 2.5 2 1.4 2 1.5 4 1.6 12.2 2 8.2 8 20.6 4 6.2 4 3.4 12 3.8 2.5 1.6 7.5 6.7 4 2.5 12 5.7 0 49.2 -22-2.9 -6-1.9 -9.5-7.3 -9.8-6 -12.3-10 -3.5-4 -3.6-6 -3.4-4 -5.9-3 -16-3.6 -2.6-1.4 -1.9-2 -1-2 -0.9-4 -1.3-24 -3-22 1.1-34 -0.5-10 -1.4-6 -1.9-4 -1.6-2 -3-1.9 -4-0.7 -2.8 0.6 -2.2 2 -0.6 2 -0.5 8 1.2 18 0.6 26 -2 12 -1 10 -1.5 4 -1.2 1.6 -2 1.6 -4 1.6 -8 1 -44-1.5 -10 0.5 -3.8 1.2 -2.2 2 -1.1 4 0.5 2 2.6 3 4 2.3 16 4 34.8 12.7 21.2 10.7 4.9 3.3 5.1 4.5 12 17.1 4 4.5 4 3.2 6 3.2 10 2.9 14 0.7 16 3.2 10.4 4.7 7.4 2 16.2 0.8 6-0.6 4-1.3 0 93.1 -411.4 0 1.8-22 6.1-10 1.5-3.8 0.8-4.2 1.3-14 -0.8-22 0.6-4 2.1-4.5 4-3.8 4-2 4-1 8 0.2 8.4 3.1 3.6 3 3.1 5 8 22 3.4 8 2.5 4 3 3 4 1.8 4 0.5 6-0.7 4.5-2.6 2.5-4 1.4-6 0.1-8 -1.6-10 -2.2-8 -2.8-6 -5.9-8 -1.4-4 1.1-4 2.3-3 2-1.6 4-1.8 4-0.3 2 0.5 4 2.3 3.6 3.9 4.4 7.2 4 3.2 6 1.8 14 1.2 4 0.8 4.1 1.8 4.9 4 4.4 6 2.5 6 -0.3 4 -4.3 8 -1.4 6 0.3 4 1.8 5.2 2 2.7 2 0.7 2-0.5 2-1.4 2.5-2.7 2.8-4 3.1-6 3.6-4.5 12-9.6 4-2.3 4.7-1.6 13.3-2.4 38-1.4 26-3.1 8 0.2 12 1.5 4 0.1 5.2-0.9 5-2 3-2 1.5-2 0.3-2 -0.6-2 -1.9-2 -4-2 -8.5-2 -54-0.1 -18-1.3 -19.4-10.6 -18.6-8 -12-7.3 -12.2-4.7 -7.4-4 -1.9-2 -0.9-2 0.3-4 12.1-23.4 4.5-10.6 1-6 -2.2-10 -1.4-4 -1.9-2.9 -4-2.6 -6-0.7 -8 1 -8 2.7 -4 2.5 -9.5 8 -12.5 5 -8 1.2 -4-0.6 -10-3 -2 0 -2 1 -4 5.3 -3 5.1 -6 14 -1.5 2 -3.5 2.8 -30 11.7 -22 6.8 -6 3.3 -3 3.4 -2.1 4 -2.9 13.7 -2 4.7 -2 1.8 -2.9-0.2 -3.1-2.3 -1.1-3.7 -0.6-6 -1.6-4 -2.7-3.1 -2-0.9 -2-0.1 -2 0.6 -4 3.5 -4.1 8 -1.5 4 -0.7 4 0.4 4 4.6 18 3.3 5.7 7.2 6.3 2 4 2.5 10 2.3 4.8 4 5.2 7 6 2.5 4 1.3 4 -0.1 4 -1 2 -17.7 18.9 -2 1.2 -4 1.2 -6-0.6 -8-2.7 -10-5.8 -8-5.6 -4-3.8 -3.4-4.8 -6.6-12.7 -2-2.3 -2-1.3 -2-0.6 -4 0.8 -2.9 2.1 -17.1 18.8 -4 3.6 -4 2.6 -12 5.6 -14 8.8 0-136.1 7-5.3 3.5-4 1.7-4 5.8-20 -0.3-2 -1.5-2 -12.5-10 -2.1-2 -1.6-2.5 0-49.2 6-9.1 8-7 0.2-2.2 1.8-0.9 2-2.6 14-3 4-2.3 2-3 3.9-8.2 3.4-10 2.7-6.2 3.9-5.8 4.1-3.9 14-9.9 4-2.2 12-5 10-7 6-3.4 6-2.2 12-1.6 2.5-0.8 1-2 -0.8-6 0.4-10 -1.1-2 0.1-6 2.4-2 1.4-6 1.1-2 0.2-4 2-2 1-4 2.9-4 3.5-8 2.1-2 1.1-4 -1.2-2 0.4-2 -5.2-6 0.2-3.1 2.3 1.1 0.2 2 5.4 4 0.1 0.7 2.1-4.7 -2.3-2 0.3-4 1.9-2.3 4-0.9 -0.5-6.8 0.4-2 5.8-10 2.4-2 3.9-8 4-6.5 0.6-1.5 -0.6-2 2-2 4-5.7 4-4.5 6-4.5 4-1.8 12-3.6 6-3.8 6.8-6.1 5.2-5.5 5.1-6.5 5-8zM350 290.1l-2 1.2 -1.6 3.7 -2.6 16 -2.1 6 -1.7 2.3 -4 3.1 -11.4 4.6 -4.6 3.9 -2 3.1 -10.3 21 -0.7 4 0.3 2 2.6 4 2.4 2 3.7 1.8 4 0.9 4-0.1 4-1.8 5-8.8 2-2 13-7 2.8-1 2.6-2 3.7-8 6.6-8 6-6 14.3-10 5.5-6 2.2-4 0.2-4 -1-2 -5.5-4 -5.4-2.7 -16-3.2 -12 0.8zM554 55l99.1 0 12.9 12.2 4 2.1 6 1.3 0 225.6 -10-8.9 -9.9-16.3 -7.9-8 -2.8-4 -0.9-4 0.4-4 6.3-14 2.1-8 -0.1-4 -0.7-2 -2.5-2.8 -4-1 -4 0.7 -24 11.1 -22 4.9 -6 0.6 -2-0.5 -2-1.4 -4-3.8 -6-7 -3-4.8 -1.5-4 -0.2-4 1.1-4 1.6-3.1 4-5.3 13.8-11.6 2.9-4 0.7-4 -0.9-8 1.1-4 2.4-2.1 10-1.1 4-1.1 4-1.8 4-3.1 3.3-4.8 1.3-4 0.5-4 -0.2-6 -0.9-4.4 -2-3.8 -2-1.5 -4-0.6 -6 1.8 -10 7.7 -4 1.9 -6 1.1 -6-0.6 -4-1.6 -2.9-2 -15.2-14 -7.9-10 -2.2-4 -1.1-4 -0.4-6 0.2-30 0.7-6 1.8-6zM649.5 335l6.5-0.2 4 1.2 7.8 5 3.3 4 0.2 4 -0.8 2 -1.8 2 -3.3 2 -5.4 1.6 -6 0.2 -6-1.3 -5-2.5 -3.4-4 -0.7-4 1.1-4 1.3-2 2.3-2 4.4-1.8z"/>
<path fill="#0075ff" d="M349.4 57l1.2-2 121.6 0 1.8 4.1 4.1 15.9 3.5 10 0.3 6 -1.9 3.8 -2 1.7 -24 11.7 -3.3 2.8 -1.4 2 -1.5 6 0.4 6 1.3 6 3.8 12 0.9 8 -1.3 8 -1.8 4 -3.1 4.1 -2.2 1.9 -3.8 2.1 -4 1.1 -4 0.4 -6-0.4 -18-3.7 -10-1.5 -4 0.4 -2.2 1.6 -1.3 2 -0.9 4 2.4 23.1 -0.6 10.9 -1.5 4 -7.2 8 -1 2 -1 4 0.9 6 3.3 8 -2.1 2 -18.8 6.8 -8 3.9 -6 4 -4.7 5.3 -2 4 -2.6 10 -2.7 7.1 0 1.2 2.7 5.7 0.8 4 -0.4 8 -1.9 10 -1.2 2.4 -2 2.1 -4 2.2 -10 3.3 -2.9 2 -3.1 3.4 -13.2 26.6 -0.9 4 1.1 4 3.8 4 5.2 2.8 8 1.5 6-0.9 2-1.8 3.1-7.6 2.9-3.2 10-4.6 8-1.8 2-1.2 1.7-3.2 2.9-8 7.4-10 4.2-4 9.2-6 5-4 4.1-4 3-4 1.1-4 -0.3-2 -0.8-2 -3.5-3.2 -8-4.5 -4-1.3 -6.5-1 -4.7-2 -2.8-1.9 -8 1.7 -3.1-1.8 0.2-2 0.9-0.7 2-0.5 2 0.2 2.9 1 1.1 1.4 2 0.4 2.7-1.8 5.3-1.2 10 0.6 10-1.2 34-1.2 18-1.7 16 0.3 7.2-1.6 5.9-4 1.7-2 0.7-2 -0.2-2 -3.8-8 -2.6-8 -1.2-2 -2.8-2 -6.9-2.2 -6-0.7 -10 0 -13.1-3.1 -2.2-2 -0.8-2 0.4-4 1.3-2 2.4-1.3 2-0.3 10 1.9 4-0.7 4-3.4 5.9-8.2 4.1-3.9 4.6-2.1 6.9-2 16.5-3.1 18-2.3 6-0.2 4 1.3 4 4.8 5.5 11.5 0.8 4 -0.3 2 -2 3.8 -4.9 4.2 -7.1 3.8 -18 3.3 -6.1 2.9 -1.5 2 -0.4 2 0.9 12 2.6 12 0 12 0.9 6 2.9 6 4.7 3.8 6 2.1 8 0.9 12-0.4 8-1.2 6-2.6 10-6.7 2-0.5 2.8 0.6 1.2 3.2 1.9 22.8 0.9 26 -0.2 6 -2.2 10 -0.9 10 -1.5 4 -2 2.1 -4 1.7 -4 0.7 -14 0.4 -38-1.6 -8 0.5 -4 1.9 -1.8 2.3 -0.7 4 0.5 2 2 2.8 4.8 3.2 5.2 1.7 12 2.6 34 12.6 21.2 11.1 4.8 3.3 5.1 4.7 11.3 16 5.6 6.7 4 3.2 4 2 14 3.6 14 0.6 14 3.7 10 4.1 6 1.3 18 0.7 10-1.2 0 91.3 -407.5 0 1.2-10 6.3-14.8 1.7-7.2 0.7-20 -0.7-22 0.3-4 1.3-4 2.7-3.7 3.4-2.3 2.6-1 4-0.7 6 0.4 6 1.8 4 2.7 3.1 4.8 7.5 22 4.1 10 2.5 4 2.8 2.8 4 2.1 6 0.8 6-0.7 4-1.6 2-1.4 2-2.6 1.8-5.4 0.8-10 -1.1-10 -2.3-10 -2.5-6 -5.3-8 -1.6-4 0.6-2 1.6-2 4-2.4 4-0.4 4 1.4 4 3.4 4 6 4 3.3 6 2 16 1.4 4 1 4 2.3 3.9 4 3.4 6 1.2 6 -4 12 -0.4 4 0.5 6 1.4 5.6 2 3.8 2 1.6 2 0.2 4-2.5 4-4.4 6.4-10.3 3.6-4.3 12-10.2 4-2.4 4-1.4 8-2.1 6-0.8 36-1.5 26-2.7 8 0.1 12 1.4 6-0.1 6-1.1 6-2 4.9-2.9 1.1-1.6 0.5-2.4 -0.7-2 -1.6-2 -2.6-2 -6.1-2 -7.5-1.3 -6-0.5 -50 0.2 -8-1 -8-0.2 -3.1-1.2 -13.7-8 -21.2-8.6 -12-7.4 -13.6-6 -4.4-2.5 -1.8-1.5 -1.2-2 0-4 14.4-32 1.5-4 0.4-4 -0.6-4 -2.7-9.6 -2-4.6 -2-2.1 -2-0.9 -6-0.6 -8 0.7 -10 3.1 -4 2.3 -10 8.4 -6 2.7 -8 2.2 -6 0.4 -4-0.8 -4-1.5 -8-4.5 -2-0.6 -2.1 1.4 -8.4 18 -3.5 9.3 -2 2.9 -4 2.4 -18 5.7 -12 6.2 -16 4.5 -14 2.2 -6 1.9 -2-3.1 -2-1.6 -8-1.9 -6 1 -4 2.7 -2 3.2 -4.7 10.6 -8.2 14 -1.4 4 -0.2 2 0.9 4 7.2 12 3.8 10 2.6 3.7 6.7 6.3 1.3 2.5 2.9 9.5 1.9 4 3.2 5.3 7.4 8.7 0.8 2 0.3 6 -2.3 6 -6.2 8.7 -6 5.9 -2 1 -4 0.8 -6-0.7 -8-3 -10-5.8 -6-4.4 -4-4.2 -10-17.4 -3.4-2.9 -2.6-0.9 -4 0.7 -3.5 2.2 -6.5 7 -16 15.3 -4 2.3 -12 5.3 -12 8 0-131.4 8.5-6.5 3.2-4 7.2-24 -0.2-2 -1.3-2 -12.4-10 -2.2-2 -2.8-3.9 0-45.9 7-10.2 7-6.4 2-3.1 1.1-0.5 0.9-2.1 14-3.1 2.2-0.8 2.8-2 6.2-12 3.1-10 2.6-6 4.2-6 4.4-4 14.5-9.9 14-5.9 10-7 8-4.4 6-1.8 14-1 1.1-2 -1.4-8 0.5-10 -1.2-2 0.2-6 2.4-2 2.4-10.1 2-2.4 1.6-5.5 2-2 1.4-4 4.4-8 0.9-4 -1.5-2 0.3-2 -5.2-6 0.1-0.9 2-1.1 0.3 2 5.2 4 0.5 2.2 0.8-0.2 1.2-2.5 0.6-3.5 -0.6-1.2 -1.5-0.8 1.1-2 0.3-2 2.1-2.2 2 1.6 0.9-3.4 -0.7-2 0.4-4 6.6-12 2.2-2 2.9-6 4.7-8 1-3.8 4.2-6.2 5.2-6 4.6-3.4 4-2 12-3.5 6-3.7 12.1-11.4 6.4-8 3.8-6zM559.7 57l1.4-2 79.1 0 5.8 2.5 5.6 3.5 10.1 10 4.3 3.2 4 1.7 6 0.8 0 215.9 -8-6.8 -9.9-14.8 -9.1-10 -2-4 -0.2-2 0.7-4 6.5-13.4 2.5-8.6 0.2-8 -0.7-2.8 -2-2.3 -2-1.1 -4-0.7 -6 1 -6 2.6 -14 7.9 -6 2.9 -12 2.8 -8 0.8 -5.6-1.1 -4.4-2.4 -6.4-5.6 -4.2-6 -0.7-2 -0.3-4 1.3-4 2.3-3.6 6-5.5 11.6-6.9 5.2-4 2.6-4 0.9-4 0-4 1.7-3.4 12-7.7 4-3.7 2.5-3.2 2-4 1.2-6 -0.6-14 -1.1-5.7 -1.4-2.3 -2.6-1.4 -2-0.1 -6 1.2 -4 1.7 -10 7 -4 2.1 -6 0.8 -4-0.6 -2.3-0.7 -3.7-2.2 -16-14.4 -4.4-5.4 -2.3-4 -1.4-4 -0.7-4 -0.4-16 0.4-14 1-6 2.3-6zM519.2 161l4.8-1 4 0.1 16.1 2.9 3.9 1.2 4 2.1 2.8 2.7 1 2 0.3 4 -1.1 4 -2.3 4 -1.9 2 -4.8 2.9 -18 7.9 -8 2 -4-1.5 -6-5.6 -2.7-3.7 -1.8-4 -0.6-6 2.3-6 4.8-5.4 6-4.1zM568 245l6-1.8 10 1.1 4 2.3 1.5 2.4 1.2 4 0.5 4 -0.4 20 0.5 10 2.2 20 1.2 6 1.5 4 3.8 5.7 2.4 2.3 10 6 3.2 4 1.2 4 1.2 10 2 8.6 9.1 21.4 2.9 5.1 4.5 4.9 3.5 1.7 10 3.4 10 8.4 16 8.4 0 43.8 -10-0.2 -16-3.6 -10-7 -10-5.9 -12-9.4 -4-4.1 -4.7-7.5 -3.3-3.2 -6-2.7 -15.9-4.1 -2.7-2 -1.3-2 -1.3-6 -2.1-28 -2.6-16 1.3-36 -1.2-12 -2.2-6 -3.7-4 -4.3-1.9 -6-1.1 -2-1 -1-2 -3.5-14 0.4-4 4.6-8 4-10 2.5-4 3-2.8zM646.5 337l5.5-1.1 4 0.4 4 1.6 4.3 3.1 3.6 4 0.6 2 -0.3 2 -1.4 2 -2.8 2 -4 1.4 -6 0.5 -6-1.3 -4.3-2.6 -2.4-4 -0.1-4 2.3-4 2.5-1.8z"/>
<path fill="#0084ff" d="M350.8 57l1.2-2 112.6 0 3.4 3.9 2 3.8 8.6 22.3 0.7 4 -0.2 2 -1.1 2.3 -2.1 1.7 -3.9 1.9 -10 4.1 -10 2.5 -3.3 1.5 -2.7 2.2 -2 3.3 -0.7 4.5 0.7 6 2.5 10 4.7 12 1.3 8 -0.4 4 -1.1 4 -2.2 4 -2.8 3.2 -4 2.5 -4 1.3 -4 0.4 -6-0.4 -12-2.2 -12-3 -4.4-1.8 -5.6-3.9 -2-0.7 -2 0.7 -4.1 5.9 -0.9 4 0.3 2 4.7 13.6 2 12.4 0 6 -0.4 4 -1.2 4 -6.7 8 -2.8 6 -0.3 4 1 10 -1 2 -2.5 2 -14.1 6.1 -10 5.3 -5.8 4.6 -3.3 4 -2.8 6 -4.5 14 0.2 4 3.2 8 0.5 4 -1.4 10 -1.5 4 -2 2 -2.6 1.4 -10 2.7 -3.1 1.9 -2.9 2.8 -4 5.8 -7.7 17.4 -6 10 -0.3 4 0.8 2 3.9 4 3.1 2 6.2 2.7 14 1.8 2 0.5 1.2 1 0.2 4 -1.1 6 -8.9 20 -1.9 2 -3.5 1.4 -10 1.1 -4 1 -6 3 -10 7.2 -14 4.1 -4 0.3 -4-0.8 -2.8-1.3 -7.2-5.1 -2-0.8 -4-0.4 -12 2 -6 1.6 -4 2.1 -2.6 2.6 -1.4 3.2 -2.2 10.8 -10.1 18 -1 4 0 4 1.2 4 1.2 2 8 10 4.9 11.5 6.2 6.5 3 4 4.8 11.6 9.8 16.4 0.6 6 -1 4 -1.9 4 -5.5 7.2 -3.4 2.8 -2.6 1.2 -6 0.3 -8-2.1 -10-5.1 -8-5.8 -5.1-6.5 -5.3-10 -3.6-5.2 -4-3.2 -4-0.4 -2.4 0.8 -3.6 2.2 -8 8 -7.4 5.8 -8.6 8.4 -4 2.1 -10 3.9 -12 8.1 0-126.8 9.8-7.7 2.2-2.7 1.5-3.3 2.4-10 3.9-12 -0.1-2 -1.2-2 -14.4-12 -4.1-6.3 0-40.5 2.4-5.2 5.6-7.2 7.5-6.8 0.5-2.1 2-1 2-2.2 14-3.4 4-2.6 6-11.8 3.4-10.9 2.6-6 4-5.8 4-3.5 14-9.6 4-2.1 10-3.7 10-6.9 8-4.6 6-1.8 6-0.6 8 0 2-0.7 0.6-0.7 0-2 -1.9-8 0.4-10 -1.1-2 0.2-4 1.9-2 3.1-12 1.9-2 1.1-4 2.9-4 5.2-12 1.7-2 -2.9-4 0.2-2 -3.5-4 -0.6-2 0.8-0.6 0.1 0.6 5 4 0.3 2 0.6 0.6 2.2-0.6 1-6 -0.9-2 1-2 0.1-2 0.6-0.7 2 1.3 0.5-0.6 1.1-4 -0.5-2 0.9-3.7 6.7-12.3 2.1-2 2.9-6 4.8-8 -0.5-2.2 5.7-7.8 5.4-6 4.9-3.4 4-1.6 10-2.7 6-3.5 13.4-12.8 6.5-8 4.1-6.8zM566.4 57l2.5-2 55 0 10.1 5.2 10 3.6 4 2.1 4 3.3 8 8 4 3 6 1.9 6 0.5 0 206.4 -4-2.9 -4-4.1 -9.4-13 -7-8 -2.3-4 -0.2-2 0.9-4 7-14 1.9-6 1.7-8 0.6-4 -0.1-4 -1.1-2 -2-1.6 -4-1.4 -4-0.5 -6 0.4 -4 0.9 -10 5.1 -14 8.9 -7.3 2.2 -8.7 1.5 -6-0.5 -6-2.7 -6-4.5 -2-2.1 -2-3.4 -0.5-2.3 0.6-4 3.9-5.1 6-4 16-6.9 3.2-2 2.8-2.6 3-5.4 1.1-6 1.3-4 2.9-4 7.1-8 2.5-4 1.6-4 0.8-4 -0.1-14 1-16 -1.2-5.5 -2-0.8 -2 0.5 -16 8.1 -12 8 -6 1.4 -4-0.7 -4-2.2 -16-12.7 -5.2-6.1 -1.7-4 -1.2-6 -1.1-14 0.4-12 1.1-6 2.8-6 2.9-3.6zM520.6 165l7.4-1.3 13.2 1.3 6.6 2 2.5 2 1.5 2 0.7 2 0.1 4 -1.5 4 -1.4 2 -3.7 2.7 -14 5.5 -8 1.8 -4-0.2 -6-3 -4.5-4.8 -1.4-4 0-2 1.1-4 2.7-4 2.1-2 6-3.8zM493 209l12.8 0 6.7 2 3.5 3.1 2.9 4.9 1.5 4 0.3 4 -1.4 4 -1.6 2 -5.7 4.2 -6 1.8 -14 1.7 -6 0.3 -8-1.8 -10-0.6 -4-0.9 -4.9-2.7 -1.3-2 -0.4-2 0.6-4 1.5-4 2.7-4 2.4-2 3.8-2 7.6-2.8 16-3.1zM568.6 247l5.4-1.7 8 0.6 4 1.6 2.7 3.5 1.3 4 0.4 4 -0.7 16 0.6 12 2 20 1.9 8 1.8 4 4 5.6 2 1.9 8 5 3.4 3.5 1.6 4 1.4 10 2.2 10 9.4 20.5 4 7.2 4 4.3 12 4.9 10 8.3 18 10.9 0 36.9 -7.1 1 -2.9-0.1 -12-3 -4-1.6 -10-6.5 -8-4.3 -14-10.7 -3.6-3.8 -4.4-6.8 -3.4-3.2 -6.6-2.9 -14-3.9 -2.5-1.2 -1.7-2 -1.7-6 -2.4-28 -2.8-16 1.5-34 -0.2-8 -0.8-6 -2.1-6 -3.1-4 -2.2-1.6 -8-3.6 -2-1.5 -2.3-5.3 -1.5-8 0.6-4 7.2-17.2 2-3.1 4-3.4zM474 277l6-1 2 0.8 2 1.9 1.8 4.3 2.4 12 1.8 3.8 4 4.2 6 2.7 10 1.1 12-0.2 8-0.9 8-2.7 8-4.9 2-0.7 2 0.1 1.4 1.5 0.8 2 2.1 14 1 10 0.6 22 -0.2 6 -3 12 -0.4 8 -1.6 4 -2.6 2 -6.1 1.5 -10 0.7 -42-1.8 -8 0.1 -4.2 1.5 -2.1 2 -1 2 -0.4 4 1.6 4 4.1 3.8 4 1.8 14 2.9 36 13.6 20 10.9 4.4 3 5.6 5.2 16 22.3 4 4 4 2.4 18 4 10-0.1 10 3.5 18 4.9 14 0.8 18-0.6 0 89.6 -403.7 0 1.7-8 6.6-12 1.6-6 -1.4-24 -0.7-24 0.4-4 1.4-4 1.5-2 4.6-3 4-0.8 6 0.3 5.1 1.5 3.3 2 1.7 2 1.9 4 5.2 18 6.6 16 3.1 4 3.1 2.3 4 1.4 4 0.5 8-0.7 6-2.3 3.3-3.2 2.3-6 1.1-12 -1.2-12 -2.8-12 -4.8-10 -0.5-2 0.6-2.5 1.8-1.5 2.2-0.5 4 0.9 2 1.6 4.4 6 2.5 2 3.1 1.4 8 1.6 14 1.1 4 1.3 3.5 2.6 1.7 2 2.3 4 1.4 4 0.2 4 -2.6 14 0.2 8 1.3 7.1 1.9 4.9 2.1 3 2 1.1 2-0.3 4-3.2 6-7.4 7.8-11.2 13.2-12 5-3.2 7.4-2.8 4.6-1.2 6-0.8 36-1.7 24-2.4 8 0 14 1.4 6-0.2 14.9-3.1 5.5-2 2.9-2 0.9-2 -0.5-2 -3.1-4 -6.1-4 -4.5-1.4 -16-1.7 -52 0 -16-2.1 -17.1-8.8 -20.5-8 -10.4-6.4 -11.2-5.6 -6.3-4 -1.8-2 -0.7-2 0.5-4 8.9-22 4.7-10 1.1-4 -0.3-4 -4.3-18 -0.7-2 -1.9-1.8 -4-0.4 -10 0.9 -12 3 -6 2.8 -8.7 7.5 -3.3 2.2 -6 2.2 -8 1.5 -6-0.5 -4-1.3 -10-6.2 -6.4-1.9 -1.1-2 1.1-8 2.4-3.8 4-2.2 6-2 10.6-2 2-2 1.1-2 2.8-8 2-4 5.8-8 3.7-3.4 8-5.1 7.1-5.5 4.3-4 3-4 0.7-2 -0.3-4 -2.8-4.4 -14-8.9 -6 0 -2.2-0.7 -1.2-2 1.4-1.1 2-0.7 6 1.6 2-0.1 5.5-1.7 4.5-0.7 8-0.1 8-0.8 12 0.1 24-1.6 18 0.1 5.9-1 6.1-2zM430 345l-4 2.6 -2.7 3.4 -1.1 4 0.6 2 1.2 1.1 4 0.1 8-2 8.3-1.2 3.5-2 1.7-2 0.5-2.6 -0.4-1.4 -1.6-1.4 -4-1.6 -4-0.7 -4-0.2 -4 1zM645.7 339l2.3-1.3 4-0.6 6 1.6 3.2 2.3 3.2 4 0.5 2 -0.7 2 -2.2 2 -6 1.9 -4-0.1 -4-1.2 -3.4-2.6 -1.2-2 -0.3-4 0.9-2z"/>
<path fill="#0094ff" d="M353.5 55l90.7 0 -0.8 6 0.3 2 2.3 3.8 2 1.4 2 0 2-0.9 6-5 2-0.4 2 0.7 2 2 4 6.3 6 11.9 1.8 6.2 -0.6 2 -2.1 2 -9.1 4 -6 1.1 -8-0.6 -4 0.6 -4 3.4 -3.7 5.5 -0.8 4 0.7 4 6.2 18 4.7 10 1.6 6 0 4 -0.8 4 -2 4 -3.7 4 -4.2 2.2 -6 1.1 -6-0.4 -12-2.1 -12-3.5 -4-2.6 -5.1-4.7 -2.9-1.3 -2 0.5 -3.1 2.8 -7 10 0 4 5.7 10 2.3 6 1.7 8 0.3 6 -0.7 6 -1.2 3.2 -6.9 8.8 -1.9 4 -0.8 4 -0.1 10 -0.6 2 -1.5 2 -2.8 2 -21.4 10.9 -6 5 -3.3 4.1 -2.9 6 -3.3 10 -0.8 4 0.3 4 2.6 8 0.7 4 -1.2 8 -1.8 4 -2.4 2 -11.9 3.7 -5.3 4.3 -5.6 8 -8.4 18 -10.2 12 -0.3 2 1.3 2 8.9 6 9.6 4.2 12 1.8 3.2 2 1 4 -0.8 4 -3.4 7.3 -4 6.9 -2 2.4 -2.8 1.4 -3.2 0.3 -8-0.5 -6 1.7 -7.5 4.5 -5 6 -2.5 2 -9 3.5 -4 0.5 -4-1.3 -10-7.6 -4-1.7 -2-0.2 -23.9 6.8 -4.1 2.5 -3.1 3.5 -1.3 4 -1.1 8 -1 4 -7.5 13.4 -1.8 4.6 -0.9 6 0.4 4 2.5 6 8.5 10 5.3 11.7 6.2 6.3 3 4 12.2 24 1.4 4 0.2 4 -0.8 4 -2.2 4.6 -4.7 5.4 -5.3 2.7 -4 0.3 -4-0.6 -10-3.8 -6-3.4 -6-4.8 -4-5.2 -6-10.9 -2.9-4.3 -3.1-3.1 -4-1.6 -4 0.7 -4 2.2 -8 7.6 -10 7.2 -8 7.5 -14 6 -10 6.9 0-122.5 10-8 2.6-2.9 1.8-4 2.3-10 3-8 0.9-4 -0.1-2 -1.1-2 -14.1-12 -5.3-7.7 0-35.8 2.6-6.5 5-6 0.8-2 9-8 2.6-3.9 14-3.6 4.3-2.5 6.4-12 3.7-12 2.6-6 3-4.5 4-3.7 14.1-9.8 3.9-2.1 10-3.5 10-6.9 8-4.6 4-1.5 4-0.8 12-0.1 2.8-0.5 1.2-2 -2.3-10 -0.2-6 0.5-4 -1-2 0.2-4 1.9-2 3.3-12 2-2 1.3-4 2.3-2.9 1.1-3.1 3.3-6 0.2-2 1.4-1.9 0.3-2.1 -2.9-4 0.1-2 -3.5-4.3 2 0.2 2.8 2.1 0.2 2 1 0.9 3.6-0.9 -0.6-2 1-5.9 1-2.1 2.3-2 1-4 -0.3-2 0.5-2 7.7-14 2-2 5-10 2.6-4 1.4-4 7.4-10 3.4-2.9 4-2.3 12-3.3 6.1-3.5 10.8-10 7.2-8 8.1-12zM575.3 57l6-2 20.8 0 9.9 2.4 6 2.5 12 7 15.1 6.1 4.9 3.6 6 8.2 4 2.9 12 1.1 4-0.4 0 197.5 -4-3.2 -4-4.3 -13.9-17.4 -2.3-4 -0.2-2 1-4 7-14 7.2-22 -0.2-4 -2.6-3.1 -4-1.8 -4-0.6 -16-0.2 -6 0.9 -6 3.3 -8.3 7.5 -5.7 3.9 -6 2.2 -8 1.3 -4-0.3 -6-2.3 -4.4-2.8 -3.8-4 -0.7-2 0.9-3.5 2-2.3 3.2-2.2 8.8-3.3 18-4.2 3-2.5 1.7-6 1.8-14 1.8-4 8.2-12 2.1-6 0.6-6 -0.4-10 0.3-4 5.6-24 0.4-4 -1.1-2.7 -2-1.4 -4-0.5 -4 0.9 -4 2.4 -8 7.3 -10 5.8 -7.9 6.2 -2.1 0.5 -6-1.1 -16-11 -4.9-4.4 -2.4-4 -3.4-12 -1-8 0.5-10 1.7-6 3.5-5.3 2-1.8 4-2.4zM521.4 169l4.6-1.4 8-0.4 8 1 4 1.7 2.6 3.1 0.6 4 -1.2 4 -1.9 2 -2.1 1 -10 3.7 -6 1.5 -6 0 -5.7-2.2 -2.3-1.7 -1.8-2.3 -0.4-4 2.2-4.4 2-2.2 4-2.8zM492.3 211l7.7 0.1 7.2 1.9 2.8 1.6 2 2 2.4 4.4 0.6 2 -0.2 4 -1.9 4 -2.1 2 -2.8 1.7 -8 1.9 -10 0.8 -8-1.1 -11.6-3.3 -2.9-2 -1.5-2.3 -0.5-3.7 0.6-2 1.1-2 4.6-4 8.2-3.4 12-2.6zM575.8 247l4.2 0.2 4 1.1 2 1.3 2.3 3.4 1.1 6 -0.7 16 0.5 12 2 20 1.8 8 2.9 6 4.1 5.4 9.3 6.6 3.1 4 1.4 4 3.2 18 13 27 4 5.7 14 7.2 8 7.3 13.6 8.8 4.4 3.4 2 2.3 0 28.1 -8 2.1 -4-0.7 -11.3-3.2 -18.7-10.4 -16-11.7 -2-1.9 -5.5-8 -2.5-2.3 -6-2.9 -16-5.2 -2-1.3 -1.3-2.3 -1.3-6 -3-28 -2.7-14 1.7-34 -0.2-10 -0.6-4 -2-6 -2.7-4 -2.3-2 -7.4-4 -2.4-2 -2-4 -1.1-6 0.7-6 5.8-16 2.8-3.8 2-1.7 6-2.3zM468.8 281l7.2-0.8 4 1.2 2.7 3.6 2.4 10 2.9 5.9 4.4 4.1 5.6 2.3 8 0.8 22-1.2 8-1.8 10-4.5 2-0.4 2 1.8 2 6.1 2.4 16.9 0.4 28 -3.2 10 -0.5 10 -0.5 2 -1.4 2 -5.2 2.2 -12 1.1 -46-2 -6 0.3 -4 1.9 -2 2.5 -1 4 0.6 4 1 2 3.4 3.6 4 2.4 6 1.8 10 1.7 24 9.6 10 3.4 20.9 11.5 5.4 4 5.7 5.8 8 11.1 8 12.9 2 2.5 4 3.2 4 1.2 8-0.4 8 3.4 10-0.3 8 3.6 14 2.3 18 0.9 20-0.2 0 88 -399.9 0 2.4-6 7.3-12 1.6-4 0.2-4 -2.8-12 -1.3-10 -0.9-26 0.4-4 1.7-4 2-2 3.3-1.4 4-0.4 4 0.3 5 1.5 2.8 2 2.2 4.7 5.2 19.3 4.2 12 2.6 5.2 2.2 2.8 3.8 2.8 4 1.4 6 0.6 8-1 5.6-1.8 4.4-2.9 2.2-3.1 1.7-6 1.1-12 -0.5-8 -1.9-16 0.2-2 1.2-2.5 10 2.1 24 2.6 2.8 1.8 1.8 2 2.8 6 0.6 6 -1.2 18 0.8 10 1.6 6 2.8 6.8 2 3.1 2 1.2 2-1.1 20-26.3 15.5-13.7 4.5-2.5 8-3.2 18-2 26-1.1 24-2.3 24 1.5 26-2.5 8 0.5 12 2.4 4 0.1 4-0.5 4-1.7 3.8-2.7 1.7-2 1-2 -1.1-2 -5.4-2.3 -4-1 -14-1.3 -16-6 -10-2.7 -20-1.2 -50-0.3 -14-2.8 -10-3.6 -10.1-4.8 -17.9-6.7 -25.4-15.3 -2-2 -1-2 -0.3-2 0.6-4 6.3-18 5.7-12 1.2-4 -0.1-4 -2.8-10 -0.1-4 0.6-4 1.3-2.4 4-2.7 8-3.2 10-2.7 5.9-3 2.7-2 1.3-2 0-2 -2.9-4 -3-2 -4-1.2 -10-1.5 -4 0.3 -4 1.4 -4 2.6 -4 3.8 -6 10.3 -2.4 2.3 -4.5 2 -11.1 2.3 -10 3.5 -6 3.7 -7.2 6.5 -6.8 2.7 -8 1.3 -4-0.3 -4-1.1 -15.1-8.6 -1.8-2 -0.6-4 1.5-4.1 2-1.8 2-0.9 8-2.1 8-1.2 3.5-1.9 2.6-4 4.9-12 5.6-8 2.2-2 14.9-10 5.1-4 3.9-4 1.6-4 -0.6-4 -2.4-4 -2-2 -8.5-6 -0.8-2 1.4-2 4.6-1.5 8 0.1 8-1.2 10 0.3 26-1.3 14 0.3 10-0.6zM648.1 339l1.9-0.6 4 0.3 4.1 2.3 2.8 4 0 2 -1.3 2 -1.6 0.9 -2 0.7 -4 0.3 -4-1.5 -2-2 -1-2.4 0-2 0.9-2 2.1-1.9z"/>
<path fill="#00a4ff" d="M353.6 57l1.5-2 85.2 0 -0.3 6 0.6 4 3.4 11 3.2 7 0 2 -13.5 20 -1.7 4 0.1 2 10.4 24 5.3 10 1.4 6 -0.5 4 -2.7 5.5 -4 3.5 -4 1.6 -6 0.5 -14-1.8 -10-2.5 -5.2-2.8 -6.8-6.2 -4-1.4 -4 1.5 -2 1.9 -9.7 12.2 -0.5 2 1.2 4 6.4 10 1.8 4 1.7 6 0.7 6 -0.6 6 -1 3.2 -6.3 8.8 -2.9 6 -1.9 14 -1.1 2 -1.9 2 -21.1 12 -5.1 4 -3.7 4 -2 3.1 -2.2 4.9 -3.4 12 0 6 2.6 12 -0.6 4 -1.5 4 -2.9 3 -12 4.8 -5.1 4.2 -4.9 6 -8 14.9 -3.5 5.1 -4.6 4 -9.1 6 -1.5 2 -0.5 2 1.7 4 1.8 2 3.7 2.5 10 4.1 12 4.1 10 1 2 1.3 1 3 -0.2 2 -1.6 4 -3.2 4.9 -2 2 -4 1.8 -10-1.2 -6 2.2 -10 6.5 -9.4 9.8 -4.6 2.2 -4 0 -4-1.9 -10-9.6 -2-1.3 -2-0.3 -2 0.6 -12 6.8 -14 4.5 -4.5 3 -3.3 4 -1.5 4 -2.7 14 -7.9 16 -1 6 0 6 0.9 3.4 2.2 4.6 8.1 10 6.2 12 6.1 6 3 4 7.4 14 4.2 10 0.8 4 -0.7 6 -1.9 4 -1.6 2 -3.8 3 -2 0.9 -4 0.6 -8-1.4 -8-3.3 -6-3.8 -4.2-4 -3.8-5.4 -6-10.6 -4-5.3 -3.8-2.7 -2.2-0.4 -4 0.8 -6 3.4 -8 7.2 -10 6.6 -8 7.4 -4 2.1 -8.1 2.9 -9.9 6.3 0-118.3 10-8 3.6-4 1.7-4 2.2-10 2.9-8 0.9-4 -0.2-2 -1.1-2.3 -13.5-11.7 -3.3-4 -3.2-5.8 0-30.1 4-9.8 6.4-8.3 4.1-4 9.5-7.8 10-2.6 3.3-1.6 2.1-2 6.5-12 5.1-16 3-5.1 4-4.1 15.9-10.8 12.1-4.7 12-7.9 8-4.4 8-1.7 12-0.2 2.5-1.1 0.3-2 -2.1-8 -0.3-4 0.5-8 -1-2 0.3-4 1.9-2 1.3-6 2.3-6 1.9-2 1.5-4 1.8-2 1.7-4 3.5-6 -0.6-2 1.1-4 -2.9-4 0-2 -1.7-2 0-1 2.4 1 0.2 2 1.4 1.3 2-0.6 2 1.6 1-2.3 -1.5-2 0.5-2.8 2-3.8 2.5-1.4 -0.5-2 1.1-2 0-4 7.4-14 3.1-4 6.4-12 2-4.9 6.3-9.1 3.7-3.6 4-2.5 13.6-3.9 4.4-2.7 12-11.1 7.5-8.2 6.9-10zM252 334.6l-2.3 2.4 -2.1 4 -0.6 4 0.8 4 2.2 3.8 4 2.9 2 0.3 4-1 2.4-2 1-2 1.1-8 -0.5-4 -2-3.5 -2-1.5 -4-1 -2 0.4zM585.5 59l4.5-0.1 6 1.1 11.3 5 6 4 8.7 7 8 5 2.1 2 0.7 2 -0.8 2.2 -2.4 1.8 -7.6 3.5 -8 7.2 -4 2.8 -2 0.7 -10 1.5 -6 1.9 -4 0.3 -4-0.8 -6-2.7 -4-2.9 -3.1-3.5 -2.5-4 -2.6-8 -0.1-10 0.8-4 1.9-4 1.6-2 4-3 4-1.5 6-1.3zM458.9 75l3.1 0.1 2 1.3 3.7 4.6 1.9 4 0.3 2 -0.5 2 -1.8 2 -3.8 2 -3.8 0.7 -2.9-0.7 -4.8-4 -2.1-4 0.3-2 1.4-2 3.7-4 2.4-1.7zM675.4 95l0.6-0.3 0 188 -6-5.3 -10.4-12.4 -4.3-6 -1.1-4 1-4 6.3-12 4.5-13.2 4.3-8.8 1.1-4 -0.4-4 -0.7-2 -2.3-3.1 -4-2.6 -4-0.8 -10 0.5 -6-0.8 -6-1.8 -8-4.1 -2-1.5 -2.4-3.8 -1.1-4 -0.2-4 0.5-4 1.3-4 7.4-12 1.7-4 0.8-6 -0.6-12 0.4-6 3.6-14 3.6-8 3-4.2 4-3.3 4-1.2 10 0.2 2-0.4 2-1.1 6-5.2zM523.3 173l4.7-1.5 4-0.5 6 0.4 4 1.3 2.2 2.3 0.5 2 -0.4 2 -2 2 -4.3 2 -8 2.5 -4 0.1 -3.2-0.6 -3.7-2 -1.4-2 -0.1-2 0.9-2 3.5-3.2zM595 209l9-0.9 4 0.5 2 0.7 1.5 1.7 -0.5 2 -1.9 2 -3.8 2 -3.3 0.8 -4 0.1 -3.4-0.9 -2.6-1.6 -1.8-2.4 0.8-2 3-1.6zM493.7 213l4.3 0.3 6 2.2 3.9 3.5 1.4 4 -0.6 4 -2.7 3.5 -4 2 -6 1.2 -8 0.1 -10-2.4 -4.1-2.4 -1.4-2 -0.4-2 0.4-2 1.2-2 4.3-3.5 6.4-2.5 7.6-1.8zM573.8 249l6.2-0.2 4 1.2 2 1.7 1.8 3.3 0.7 4 -0.9 16 0.6 14 1.7 18 1.9 8 2.7 6 3.5 4.9 3.2 3.1 6.8 5 2.6 3 2.2 6 3.3 18 6.6 12 7.3 15.6 2 3.2 2 1.9 12 6.7 8 8 16.7 12.6 5.3 6.1 0 16.7 -6 3.5 -2 0.4 -4-0.2 -9.2-2.5 -19.5-10 -17.2-12 -5.9-8 -4.2-3.6 -21.2-8.4 -2.8-3.5 -1.8-8.5 -3.2-26 -2.6-12 2.1-34 -0.1-10 -0.5-4 -2-6 -1.9-3.4 -4-3.8 -7.6-4.8 -2.4-4 -1-4 0.5-6 4.5-16 2-3.2 2-2 4-2.3zM443.4 283l28.6 0.3 4 0.6 2 0.9 2 3.1 3.2 11.1 2.5 4 4.3 4 6 2.3 6 0.5 24-1.6 8-1.4 12-3.4 2 0.6 0.8 1 2.6 6 1.6 10 1.1 28 -0.7 6 -3.2 8 -0.4 10 -0.7 2 -1.1 1.4 -2 1 -4 1 -10 1.1 -52-2.2 -4 1.4 -2.5 2.3 -1.6 4 0 4 1.5 4 1.4 2 5.2 4.1 6 2.2 12 2.1 22 9.1 12 4.3 18 10.2 5.8 4 4.4 4 5.8 7.1 6 8.9 3 6 1.1 4 -0.1 2.1 -2 2.2 -4 0.7 -28-0.8 -30-0.1 -18-0.7 -8-1.5 -16-4.8 -10-4.5 -16-5.8 -21.4-12.8 -4.5-4 -1.8-4 0.6-6 4.9-16 6.1-12 1.3-4 -0.3-6 -2.4-8 1.5-6.1 2-2.4 5.1-3.5 4.9-2.4 10-2.7 10-3.8 2.1-1.1 3.7-4 0.3-2 -2.1-3.8 -4-4.4 -4-2.9 -4-1.2 -12-1.4 -6 0.1 -4 1.1 -4 2.5 -4 3.8 -8.1 12.2 -3.5 4 -3.5 2 -20.9 6.9 -5 3.1 -7 6.6 -4 1.8 -8 1.5 -4-0.1 -4-0.8 -6-2.7 -10.1-6.3 -1.3-2 -0.5-2 0.3-2 1.1-2 4.5-2.1 14-2.6 4-1.6 3.4-3.7 4.9-12 5.7-8.6 4-3.4 21.5-14 3.7-4 1.2-4 -0.8-4 -5.6-6.7 -7.1-5.3 -0.9-2.3 2-1.5 6 0.4 10-2 10 0.5 24-1zM647.9 341l2.1-1.2 2 0.1 2.8 1.1 1.9 2 0.6 2 -0.7 2 -2.6 1.4 -4-0.4 -2-1.5 -0.8-1.5 -0.2-2zM637 479l31-1.1 8 0.6 0 86.5 -395.6 0 1.8-4 9.2-14 1.9-6 -0.5-4 -4.8-12.2 -2.2-11.8 -0.3-24 1.2-4 1.3-1.9 2-1 4-0.6 4 0.4 3.7 1.1 2.3 1.8 1.8 4.2 2.5 12 5.5 18 3.3 8 2.9 3.4 4 2.5 4 1.1 6 0.4 8-0.8 8-2.4 4.2-2.2 3.7-4 1.5-4 1-6 1-12 -0.5-16 1.4-4 3.7-1.6 6.6-0.4 15.4 1.3 4 1 3 3.7 1.7 6 0.6 28 1.1 8 1.6 6 4 10.3 2 3.1 2 0.9 2-1.5 5.8-10.8 3.9-6 10.3-12.6 17.2-15.4 6.5-4 4.3-2 4-0.9 14-1.6 26-1.2 26-2.3 20 1.5 24-0.8 6 0.8 18 3.7 8 0.5 6-1.1 5.4-2.6 4.6-4 4-5.5 3-2.5 3-1.1 6-0.8z"/>
<path fill="#00b4ff" d="M355.2 57l1.5-2 80.8 0 0.2 8 2.9 16 0 6 -1.2 4 -2.8 6 -8.5 12 -0.4 4 12.1 24 6.2 10.5 1.4 5.5 -0.5 4 -2.2 4 -2.7 2.5 -4 1.8 -6 0.7 -12-1.3 -10-2.2 -4-1.8 -8-6.8 -4-2 -4 0.2 -4.6 2.9 -10.6 12 -1.2 2 -0.4 2 0.8 4 7.5 12 2.4 6 1.2 8 -1.1 6.6 -1.6 3.4 -5.7 8 -2.1 4 -1.1 4 -1.5 10 -2.2 4 -8 6 -13.8 8.1 -6.4 5.9 -3.6 5.3 -3.5 8.7 -1.4 6 -0.3 6 1.6 14 -1 4 -1.4 2.3 -2 1.9 -10 4.8 -6 4.2 -6.4 6.8 -5.6 8.2 -4 4.5 -6 5 -6 3.5 -6 0.9 -4-1.2 -4.9-8.9 -3.1-3.6 -2-1.4 -4-1.2 -6 0.5 -4 1.3 -5.5 4.4 -3 4 -1.8 6 0.6 6 1.5 4 2.2 3.6 4 4.8 2 1.4 2 0.7 2-0.2 10-3.5 8-0.1 4 1.6 8 6.3 6 3.8 6 2.1 7.9 1.5 6.1 2.4 6 1 1.6 0.6 0.3 2 -1.9 3 -2 1.4 -2 0.6 -10-0.5 -6 1.8 -6 3.8 -16 14.1 -4 1.3 -2-0.2 -4-2.7 -4-4.7 -6-9.5 -2-1.5 -2-0.1 -2 1.6 -5.1 7.6 -4 4 -4.9 3.1 -8 2.6 -6 2.7 -4 2.9 -4 5.2 -2 5.5 -2.8 14 -7.2 16 -1.1 8 0.5 6 2.2 6 2.3 4 6.7 8 5.4 10.2 10 11.1 6 10.7 2.6 6 2.5 8 0 6 -1.5 4 -3.6 3.8 -2 1.1 -4 1 -8-0.8 -8-3.1 -6-3.9 -4-4 -9.9-16.1 -4.1-5.2 -4-2.6 -2-0.1 -4 0.9 -5.9 3 -8.1 6.8 -11.4 7.2 -8.6 7.8 -12 5.1 -8 4.9 0-114.4 12-10.2 2.6-3.2 1.6-4 2.1-10 2.9-8 0.8-4 -0.2-2 -1.8-3.3 -12.4-10.7 -3.3-4 -4.3-7.5 0-26.3 4.5-10.2 7.5-9.6 4.3-4.4 7.7-6.6 12-3.5 4-3.2 7-12.7 5-16 2.2-4 3.8-4.1 16-10.9 12.5-5 19.5-12 6-1.7 14-0.4 2-0.6 1.4-1.3 0.1-2 -2.1-8 -0.3-4 0.7-8 -1-2 0.3-4 2-2 1.2-6 2.7-6 1.8-2 1.6-4 1.8-2 3.8-7.2 0.9-2.8 0-6 -3-4 0.1-4 0.3 2 1.7 1.6 2-0.6 1.5 1 0.5 4.2 2.2-6.2 -2-2 3.1-6 0.7-0.4 2.3 0.4 -1-2 1.1-4 -0.2-4 1.8-2 5.1-10 0.4-2 3.4-4 8-16 6.9-10 2.2-2.2 4-2.8 4-1.5 10-2.6 4.7-2.9 11.3-10.7 8.8-9.3 7.2-10.4zM584 63l4 0 4 0.8 5.4 3.2 1.8 2 2.3 4 2.2 8 -0.1 6 -2.1 4 -5 4 -6.5 2 -6-0.4 -8-2.7 -2-1.3 -3.1-3.6 -2.4-6 0-8 2.4-6 1.7-2 3.4-2.2 8-1.8zM674.6 101l1.4-1 0 179.6 -8-7.4 -6.2-7.2 -4-6 -0.9-4 1.1-4.7 6.2-11.3 3.8-10.5 6-11.4 1.1-4.1 0.1-4 -0.7-4 -2.5-6.5 -3-5.5 -0.4-2 1-4 3.4-6 0.5-2 0.3-4 -1.4-4 -3.6-4 -2.8-0.9 -5.7 0.9 -3.4 2 -1.5 2 -0.7 4 0.9 4 3.1 8 -0.1 2 -1 2 -2.4 2 -5 2 -2.2 0 -6-1.7 -8-4 -2-1.6 -2-2.7 -0.8-4 1.3-6 7.5-12 1.3-4 0.2-4 -1.4-14 0-6 2.1-10 3.8-9.3 4-5.2 4-2.8 4-1.2 10-0.3 2-0.5 6-4.3zM487.8 217l4.2-1.1 4 0.1 3 1 2.6 2 1.4 2 0.5 2 -0.3 2 -1.3 2 -2.9 2 -5 1.3 -4 0 -6-1.3 -3.7-2 -1.2-2 0.3-2 1.3-2 5.3-3.2zM573.1 251l4.9-0.8 4 0.6 3.4 2.2 1.8 4 0.2 4 -1 14 0.7 16 1.3 16 2 8 1.6 4 5.4 8 9.6 8 3 4 1.9 6 2.6 16 6.9 12 6.6 14.4 3.2 5.6 2.8 2.5 8 4.7 3.4 2.8 6.6 7.8 14 12.6 4.7 5.6 1.9 4 0.3 4 -2.3 4 -2.6 1.9 -4 0.6 -8-1.5 -6-2.4 -14-7 -16-10.1 -7.9-9.5 -2.6-2 -18.6-8 -3.3-2 -1.6-2.1 -2.3-7.9 -3.8-26 -2.8-12 0.1-6 2.5-28 -0.3-14 -2-6 -2.1-4 -3.3-3.4 -8-5.4 -2-3.2 -0.8-4 0.4-4 3.5-16 0.9-2.2 2-2.6 4-2.8zM407.3 285l2.7-0.2 8 0.8 8-0.9 8 0.5 10-0.5 18 0 10 1.6 2 0.8 2.2 1.9 1.7 4 2.1 7.2 4 6.2 4 4 4 1.8 8-0.1 12-2.1 14-0.8 18-3.4 2 0.2 2 1.3 2.7 5.7 1.6 10 0.9 26 -0.8 6 -3.6 8 -0.5 10 -1 2 -4.4 2 -10.9 1.6 -20-0.5 -28-1.9 -6 0.2 -4 1.9 -2.4 2.7 -1.1 4 0.2 4 2.8 6 2.5 2.6 4 2.6 6 2.1 12 2.1 22 9.3 10 3.6 4 1.8 19.3 11.9 8.7 8.8 9.1 13.2 1.4 4 0.2 2 -0.7 2.2 -2.2 1.8 -3.8 0.8 -12 0.4 -40-0.4 -20-1.2 -6-0.9 -8-2.7 -10-2.3 -10-4.4 -16-5.9 -18.2-11.4 -4.6-4 -2-4 0.2-6 3.9-16 6.8-12 1.5-4 0.1-6 -1.7-8 2-4.7 5.8-5.3 6.2-3.5 12-3 14-6.3 4-0.1 4 0.7 3-1.8 0.7-2 -1.7-1.7 -5.8-2.3 -2.5-2 -2.6-4 -3.1-7.4 -3.8-2.6 -28.2-1.7 -4 0.4 -4 1.4 -4 3.7 -9.3 16.2 -4.8 6 -2.8 2 -4.5 2 -18.6 6.9 -4 3 -4 4.1 -4 2.4 -8 1.5 -4-0.2 -4-0.9 -6-2.8 -9-6 -1.1-2 0-2 2.1-2.1 18-3.7 4.6-2.2 3.3-4 6-14 4.4-6 13.7-9.3 14.1-6.7 3.9-3.4 1.7-4.6 -0.9-6 -1.2-2 -6.5-6 -1.5-2 -0.2-2 2.9-2 3.7-1.5zM649.9 343l2.1-0.4 0.5 0.4 -0.5 1.9 -2-1.5zM665.9 479l10.1 1.2 0 84.8 -391.7 0 15.2-22 1.5-4 -1.1-4 -5.9-8.1 -2-3.9 -2.8-10 -0.3-22 1-4 2.8-2 5.3 0.1 3.1 1.9 1.2 2 2.3 12 3.4 11.4 2.9 14.6 1.4 4 1.7 2 4 2.3 6 1.5 6 0.4 8-0.6 10-2.4 6.9-3.2 4.3-4 2-4 1.4-6 1.7-14 0.8-14 0.7-2 2-2 6.2-1.7 14 1.4 2 0.8 2 2.3 1.1 3.2 2.4 20 0.2 14 1.5 8 2.8 8.9 3.6 9.1 2.4 3.4 2 1 2-1 0.9-1.4 7-16 8.1-11.3 6-5.9 17-14.8 5.6-4 5.4-2.8 18-2.8 24-1.1 28-2.2 16 1.4 24 0.2 28 6.1 6 0.7 6 0 6-1.2 4-2.1 2.4-2.2 6.5-8 2.3-2 3.5-2 11.3-2.8 18-1.1z"/>
<path fill="#00c4ff" d="M356.7 57l1.6-2 76.9 0 0.4 8 2.2 14 -0.2 8 -1.1 4 -2.8 6 -8.7 12 -0.5 4 1.5 4.6 10.9 19.4 7.1 10.9 1.3 3.1 0.3 4 -1.6 3.7 -2.2 2.3 -3.8 1.9 -6 0.9 -14-1.5 -8-1.8 -4-2 -8-6.9 -4-1.4 -5.2 0.8 -4.8 3.3 -10 10.8 -2.5 3.9 -0.5 2 1 4.8 6.7 11.2 2.6 6 0.9 4 0.2 4 -1.2 6 -9 14 -1.5 4 -2.3 12 -2.5 4 -7.1 6 -8.8 4.9 -4.2 3.1 -5.8 5.6 -3 4.4 -3.6 8 -1.6 6 -0.5 6 0.7 14 -1.1 4 -1.2 2 -3.7 3 -12.2 7 -4.9 4 -8.9 8.7 -4 2.4 -4 0.9 -6-0.5 -6-1.9 -6.8-3.6 -3.2-0.4 -2 0.3 -12 3.5 -6 2.6 -5.5 4 -5.2 6 -2.3 6 0 6 2.2 6 8.1 14 1 4 0.2 4 -1.1 6 -3.8 8 -4.5 6 -5.1 3.7 -8 3.1 -6 3.2 -4 3.5 -3.3 4.5 -2.6 6 -3.2 16 -6.1 14 -1.6 10 0.8 7.7 4 9.3 7.3 9 5.9 10 10.4 12 5.5 10 2.7 8 1 6 -0.5 4 -2.1 4 -4.2 2.8 -6 0.8 -8-1.7 -6-2.8 -4-2.9 -4-4.3 -8.5-13.9 -4.5-6 -3-2.5 -4-0.8 -4 0.9 -5.2 2.4 -10.8 8.3 -10 5.9 -6 5.8 -4 3 -10 4.1 -8 4.5 0-110.9 12.2-10.7 3.3-4 1.6-4 1.9-10 2.9-8 0.7-4 -0.6-3.1 -1.9-2.9 -12.1-10.6 -2.7-3.4 -4.6-8 -0.7-2.6 0-19.6 6-13.6 6-8.1 4.1-4.1 7.9-7.3 12-3.7 4.1-3 7.3-12 5.6-18 2.3-4 2.7-3 16-11 4-2.1 10-3.8 18-11.2 6-1.8 14-0.6 2.1-0.5 1.9-1.7 0.2-2.3 -2-8 -0.4-4 0.8-8 -0.9-2 0.4-4 2-2 0.1-2 1.2-4 2.8-6 8.6-14 1.5-6 -1.3-2 0.2-2 -1.4-2 0.1-2 2.1-0.7 1.1 0.7 -0.2 2 0.9 4 0.2 0.5 0.6-0.5 2.2-8 -0.8-2 2-4 3.6-2 -1.6-2 1.2-2 0.6-6 1.7-2 5.7-12 3-4 5.1-10 0.7-2.8 7.7-11.2 4.3-4.5 6-3 10-2.5 4-2.3 4-3.3 18.2-18.4 7.8-11zM578.6 67l5.4-0.9 5 0.9 3.4 2 2.9 4 1.3 6 -0.6 6 -2 3.2 -4 2.5 -4 0.7 -8-1.5 -4-2.7 -1.6-2.2 -1.4-4 0.2-6 0.8-2.3 2-2.9 4-2.6zM673.7 105l2.3-1.5 0 66.5 -2.4-3 -2.8-2 -2.8-1.2 -4-0.7 -12 0 -4-1.3 -2-2.2 -2-4.3 -2.3-8.3 -1.2-8 0.2-6 1.8-8 2.5-6 3-4.5 2-2 4-2.4 4-1.1 10-1.1 4-1.9zM490.4 221l1.6-0.6 2 0 1.2 0.6 0.7 2 -1.9 1.7 -2.3 0.3 -1.7-0.9 -0.8-1.1 0.8-1.4zM675.8 221l0.2 55.4 -6-5.1 -6-6.4 -3.8-5.9 -0.8-4 0.2-2 1.6-4 5-8 6.1-14 2.5-4zM572.9 253l5.1-1.2 4 0.5 2 1.2 2.2 3.5 0.2 4 -1.4 16 0.6 14 0.9 8 -0.3 6 0.6 4 3.6 10 5.4 8 10.2 8.9 2.4 3.1 1.8 4 1 4 1.8 14 8.2 14 8.4 18 2.4 2.8 10.3 7.2 3.3 4 8.4 12.7 8.1 9.3 1.3 4 -0.4 2 -1 1.2 -1.8 0.8 -2.2 0.1 -6-1.1 -16-6.5 -6-2.9 -8.9-5.6 -9.3-10 -3.8-2.2 -8-3 -5.4-2.8 -4.6-3.1 -2.4-2.9 -1.6-3.9 -2-7.5 -1.7-8.6 -1.6-12 -2.9-12 0.1-6 3.2-28 0.4-14 -4.2-10 -3.6-4 -8.5-6 -1.6-4 0-4 1.4-6 1.4-10 1.7-4 3.9-3.5zM408 287l10 0.6 8-1.1 10 0.6 24-0.6 4.6 0.5 5.4 1.7 2.9 2.3 1.3 2 3.4 10 4.1 8 0.6 2 -0.2 2 -1.4 2 -3.9 2 -6.8 2.1 -18 1.8 -12-0.9 -14-3.8 -4-1.9 -3.1-3.3 -6.3-14 -6.1-6 -1.3-2 0.8-2.4zM534.1 309l7.9-1.3 4 0.8 2.4 2.5 2 6 1.4 10 0.4 24 -0.7 4 -4.2 8 -0.5 8 -0.8 2.4 -1.9 1.6 -4.1 1.3 -10 1.5 -18-0.5 -28-2.2 -6 0.1 -4 1.3 -3.1 2.5 -1.7 4 0.3 6 2.7 6 3.8 3.9 3.5 2.1 6.5 2.3 10.7 1.7 33.3 13.7 20.6 12.3 4.6 4 4.8 5.3 5.1 6.7 3.7 6 1.2 4 -0.3 2 -1.7 1.9 -2 0.7 -16 1.3 -36-0.4 -22-1.8 -6-1 -8-2.6 -8-1.8 -10-4.4 -16-6 -18-11.9 -2-2 -2-4 -0.2-6 3.2-16 8.5-14 1.6-6 0.8-10 2.1-4 3.3-4 2.7-2.2 12-3.5 14-6.4 10-1 8-4.2 5.9-0.7 -2-2 -5.9-3.2 -8-1 -2.2-1.8 -0.7-2 0.2-2 1.5-2 9.2-3.6 6.3-4.4 1.3-2 1.5-6 1.7-2 3.6-2 11.6-3.9 12-0.7 10-1.4zM401.8 321l4.2 0.1 4 1 2 1.2 2.3 3.7 0.7 4 -0.6 6 -2 6 -3.4 6 -3.3 4 -5.6 4 -6.1 2.6 -14 4.7 -2 1.2 -8 7.2 -4 1.4 -4 0.6 -6-0.6 -6-2.4 -7.1-4.7 -1.8-2 0.3-2 18.6-4.7 4-1.6 3.5-3.7 5.9-14 4.6-6.2 4.6-3.8 7.4-4.7 4-1.8 6-1.3zM265.3 367l2.7-0.7 4-0.2 6 1.8 4.4 3.1 4.2 4 4.4 6 0.4 2 -0.7 2 -2.6 4 -6.1 6.6 -6 4.1 -4 0.8 -2-0.4 -4-2.9 -4-5.1 -4.8-9.1 -0.2-6 1.2-4 1.8-2.6 4-2.8zM658.6 481l9.4-0.8 8 2 0 82.8 -387.8 0 5.8-8.4 6-7 4-3.6 6-4.2 6-1.5 14-0.4 10-1.3 11.2-3.6 7-4 3.6-4 1.9-4 6.7-32 1.6-2.4 3.1-1.6 4.9 0 4 0.6 3 1.4 1.5 2 1.2 6 2.6 8 1.4 6 0 14 2 10 6.3 17.9 3.1 4.1 2.9 1.4 2-0.5 2.6-2.9 6.1-16 3.3-5.4 4-5.2 4-4 22-18.5 6-4.4 4-1.8 16-3.1 24-1.2 28-2.3 16 1.4 22 0.8 6 1 26 6.7 12 1.8 7 0.2 5-1.5 2-1.9 6.1-10.6 3.7-4 3-2 4.3-2 4.9-1.4 10-0.5zM295.7 505l0.3-1.6 2-0.3 3.2 7.9 0.7 4 -0.5 2 -1.4 1.7 -2-0.7 -2-3 -1-4 0.2-4z"/>
<path fill="#00d5ff" d="M360 55l73 0 2.5 20 -0.3 10 -2.9 8 -8.3 11.4 -1.4 2.6 -0.6 2 0 4 1.4 4 7.7 14 11 16 1.4 4 0 2 -1.5 2.6 -4 2.7 -4 0.9 -4 0.1 -12-1.1 -8-1.8 -4-2.3 -6-5.6 -4-1.6 -6 0.2 -4 1.8 -2.7 2.1 -11.2 12 -2.5 4 -0.5 2 -0.1 2 1.3 4 5.8 10 2.6 6 1.1 6 -1 6 -1.9 4 -8.7 12 -1.6 4 -2.1 12 -2.2 4 -3.7 4 -8.6 5.1 -6.6 4.9 -5.4 5.8 -2.6 4.2 -2.9 6 -2 6 -0.7 6 0.1 14 -1.2 4 -1.3 2 -3.4 2.9 -12 7.1 -12 8.7 -6 2.5 -4 0.2 -4-0.9 -10-6 -2-0.5 -4 0.8 -8.2 5.2 -11.8 5.6 -6.8 4.4 -6.6 6 -4.1 6 -1.5 4 0 4 1.6 4 7.6 12 2.9 6 0.8 6 -1 6 -2.9 6.7 -4 4.9 -4 2.7 -10 4.9 -4 2.8 -4 4 -3.9 6 -2.2 6 -3.1 16 -5.6 14 -1.2 6 -0.4 6 0.8 6 4 10 7.6 9.6 6 9.6 10 11.7 5.4 9.1 1.9 6 1.1 6 -0.3 4 -2 4 -4.1 2.7 -6 0.7 -6-1.3 -6-2.7 -4-3.1 -3.8-4.3 -8.2-13.3 -4-5.5 -4-3.1 -4-0.6 -4 0.8 -6 2.7 -12 8.9 -10 5.8 -8 7.5 -18 8.5 0-107.9 13.1-11.8 3.2-4 1.6-4 1.9-10 2.8-8 0.5-4 -0.8-4 -1.5-2 -12.8-11.7 -5.4-8.3 -2.6-8.3 0-11.7 2.7-8 3.2-6 0.5-2 5.9-8 3.7-4 6.7-6 1.3-2 12-3.9 3.4-2.1 1.9-2 6.3-10 1.7-4 3.9-14 1.8-4 3.1-4 17.6-12 12.3-5 20-12 4-1.2 14-0.7 2-0.5 2-1.4 0.6-1.2 0-2 -1.8-8 -0.3-4 0.9-8 -0.8-2 0.5-4 1.8-2 1.1-4.5 3.5-7.5 8.5-13.4 0-2.7 1.9-3.9 2.1-2 -0.4-2 0.4-1.6 1.8-2.4 -0.1-4 1.9-4 2.4 0.4 0.1-0.4 0.3-2 -0.7-2 0.9-2 -0.2-4 1.6-2 5.4-12 4.2-6 4.4-8.8 0.9-3.2 8.2-12 3.9-4 5-2.5 12-3.4 6-4.5 19.7-19.6 8.5-12zM577 71l3-1.5 4-0.3 4 1.3 2 1.6 1.7 2.9 0.6 4 -0.9 4 -1.4 2 -2 1.4 -4 1 -4-0.5 -4-2.4 -2-3.3 -0.5-2.2 0.5-4 2-3.2zM674.3 107l1.7-0.9 0 59.6 -6-3.5 -14-2.8 -4-1.7 -2-1.5 -2.6-3.2 -2.1-4 -1.8-6 -0.6-6 0.4-6 1.4-6 2.8-6 3.3-4 5.2-3.3 4-1.1 8-1 6-2.5zM266.8 165l1.2-0.4 0.6 0.4 -0.3 2 0.9 4 -1.2 1.3 -0.7-1.3 0.3-2 -0.8-2zM675.2 229l0.8-1.6 0 45.6 -6-4.7 -5-5.3 -2.4-4 -0.8-4 1.1-4 6.3-10 5.1-10zM573.3 255l2.7-1.1 4-0.4 3.5 1.5 1.3 2 0.3 4 -1.6 16 0.5 8 -0.8 8 0.9 4 -0.1 2.7 -2-0.4 -1.7-4.3 -3.5-4 -8.9-6 -1.9-3.6 0-3.7 1.5-6.7 1.1-10 1.4-3 2-2.1zM442.5 289l15.5-0.4 4.9 0.4 5.1 2 2.2 2 1.8 3.3 2.8 12.7 -0.3 2 -1.5 2 -3 1.7 -4 1.2 -12 1.9 -6 0 -5.1-0.8 -4.9-1.5 -4.9-2.5 -5.8-4 -3.3-3.2 -4-4.8 -4-6 -0.7-2 0.7-0.8 1.8-1.2 6.2-1.5 4-0.4 8 0.4 6-0.5zM528.1 311l11.9-1.5 4 0.4 2 1 1.8 2.1 1.3 4 1.7 10 0.5 24 -0.9 4 -3.9 6 -0.7 2 -0.6 6 -1.2 3.4 -4.3 2.6 -9.7 1.8 -18-0.3 -16-1 -14-1.5 -6 0.2 -4 1.4 -2 1.4 -1.5 2 -1 4 0.3 4 1.1 4 2.1 4 3 3.5 4 2.8 6 2.5 14 2.8 32 13.6 20.3 12.8 5.9 6 4.9 6 4.1 6 1.7 4 0.2 2 -1.2 2 -11 2 -6.9 0.5 -38-0.6 -22-2.2 -16-3.9 -24.3-9.8 -5.7-2.9 -15.2-11.1 -1.3-2 -1.3-4 0.9-12 1.8-8 9.4-14 5-12 3.8-8 1.5-2 3-2 6.4-2.6 12-6.5 4-1.6 8-1.1 8-2.5 8.2 0.3 2.5-2 0.6-2 -0.5-2 -6.4-6 -0.9-2 0.1-2 1-2 5.4-7.1 3.1-8.9 1.9-2 3-2 6-2.6 16-1.4zM583.5 313l0.5-1.1 1.3 1.1 1.8 4 5.5 8 5.4 5.9 7.2 6.1 2.8 3.9 2.6 8.1 1 12 0.7 2 7.7 11.9 7.1 16.1 2.3 4 2.6 2.8 7.2 5.2 3.6 4 3.6 8 1 4 0.1 4 -0.6 2 -0.9 0.9 -4 1.1 -6-1 -8-3.1 -6-3.7 -6-6.5 -4-3.3 -4-2 -6.9-2.4 -3.5-2 -4.9-4 -3.3-4 -3.4-7.3 -1.9-6.7 -2.5-16 -3.1-12 0.1-6 2.4-20 2-8 0.4-4zM390.5 327l5.5-1.5 6 0.9 4 2.6 1.7 2 1.7 4 -0.2 6 -2.8 6 -4.9 6 -6.1 4 -5.4 2 -12 2.6 -4 1.3 -4.8 6.1 -3.1 2 -2.1 0.6 -4 0.5 -6-1.2 -3.3-1.9 -2-2 -0.4-2 2-2 4.2-2 9.5-1.3 4-1.7 2-3 4.4-12 3.6-6 4-4.1 8-5.7zM265.7 371l4.3-1.5 4 0.3 2.8 1.2 2.8 2 3.4 4 1.5 4 0.1 2 -1.4 4 -3.3 4 -3.9 2.5 -4 0.5 -2.8-1 -3.2-2.7 -3.5-5.3 -1.2-4 0.2-4 0.6-2 1.9-2.7zM651.4 483l16.6-1.6 5.1 1.6 2.9 1.7 0 80.3 -384.1 0 4.1-6 6-6.6 4-3.2 6-3.6 6-1.7 16-2 8-1.7 10-3.6 8-4.7 3-2.9 3.4-6 2.6-12 2.3-6 2.7-4.1 4-4.7 2-1.1 2 0.3 2 1.6 6 9.5 1.9 6.5 -0.5 8 0.4 6 2.5 10 4.1 12 2.7 6 2.9 3.6 2 1.3 2 0.4 2-0.3 1.8-1 1.7-2 7-18 3.5-5.5 4-4.7 29.4-23.8 2.8-2 4.4-2 13.4-3.1 26-1.6 22-2.1 6 0 36 2.7 48 12.8 8 1.5 6 0.1 2-0.9 1.2-1.4 0.8-2.3 1.2-9.7 2.9-6 3.9-4 3.1-2 4.9-1.9z"/>
<path fill="#00e5ff" d="M359.8 57l1.9-2 69.3 0 2.7 20 0 6 -0.6 4 -3 8 -7.4 10 -2.3 4 -1.1 6 1.6 6 6.3 12 12.6 18 0.6 2 -0.4 1.9 -2.3 2.1 -5.7 1.3 -18-1.1 -6-2 -6-6 -2-1.1 -4-0.9 -4 0.1 -4 1 -6 4.2 -11.7 12.5 -2.6 4 -0.6 2 -0.1 2 1.3 4 5.4 10 2.5 6 0.8 6 -1 5 -2.8 5 -7 8 -2.8 4 -1.8 6 -0.8 10 -1.7 4 -3.1 3.3 -8 5.1 -6.7 5.6 -5.1 6 -3.5 6 -3.9 10 -0.5 4 0.2 12 -0.8 4 -1.7 3.4 -2.7 2.6 -5.3 3.4 -16 9.1 -6 2.4 -4 0.6 -4-0.7 -10-5.9 -4-0.9 -2 0.4 -4 2.5 -8.2 7.1 -14.3 8 -8.6 6 -6.3 6 -5 6 -1.4 4 0.3 2 1.9 4 9.6 12.8 3 5.2 1.1 4 -0.6 6 -2.4 6 -2.9 4 -16.2 10.3 -4 3.9 -4.1 5.8 -3.6 8 -2.7 16 -5.8 16 -1.6 12 1.3 8 4.1 10 6.5 8 7.9 11.7 10 12.1 3.6 6.2 1.5 4 1.1 6 -0.3 4 -1.8 4 -4.1 2.7 -4 0.6 -6-1 -6-2.7 -6.1-5.6 -10.3-16 -3.6-4.6 -4-2.6 -4-0.5 -6 1.4 -4.7 2.3 -11.3 8.2 -10 5.8 -6 5.9 -4 3 -16 7 0-104.9 7.1-7 7-6 3.1-4 1.6-4 1.7-10 2.8-8 0.4-4 -0.9-4 -1.3-2 -12.8-12 -5.1-8 -2.9-10 0.5-10 2.8-7.9 4-7.9 10-12.2 8-7.4 12-4.3 4.5-4.3 6.4-10 5.3-18 1.8-4 3.3-4 16.7-11 12-5.1 20-12 4-1.3 12-0.5 4-1 2-1.1 1.1-2 -1.7-10 -0.2-4 0.9-8 -0.6-2 0.7-4 1.5-2 2.1-6 2.8-6 7.4-10.8 3.1-9.2 2.4-2 -0.7-2 1.4-2 0.2-4 0.9-2 0.7-1.4 2.7-0.6 0.6-2 -0.1-4 0.7-2 -0.5-2 0.6-2 1.5-2 5.2-12 4.1-6 5.2-11.2 10.3-14.8 3.7-2.7 12-3.5 6.6-3.8 22.6-22 7-10zM579.4 73l2.6-0.7 2 0.2 2 1 1.4 1.5 0.8 2 0 2 -0.7 2 -1.5 1.7 -2 0.9 -2 0.1 -2-0.4 -2-1.5 -1.4-2.8 -0.1-2 1.5-2.9zM674.1 109l1.9-0.8 0 54.6 -6-2.7 -12-3.2 -6-3.5 -2.1-2.4 -2.4-4 -1.4-4 -1-6 0.3-6 1.4-6 1.9-4 3.3-4.3 2.1-1.7 3.9-2 10-2.1 6-1.9zM267.7 165l0.5 0 -0.2 0.9zM267.9 169l0.1-0.9 0.6 2.9 -0.6 0.7 -0.3-0.7zM674.9 237l1.1-1.8 0 34.6 -8.2-6.8 -1.8-2.2 -1.6-3.8 0-2 1.3-4 8.3-12.5zM574.3 257l3.7-1.5 2-0.1 3 1.6 0.7 2 -2.1 16 -0.2 10 -1.4 2.9 -2 0.2 -5.8-3.1 -2.4-2 -0.9-2 -0.2-2 1.9-16 1.4-3.6 2-2.2zM455.8 291l6.2 0.5 3.3 1.5 2.2 2 1.9 4 0.3 6 -1.7 3.6 -2 1.6 -6 2 -6 0.9 -8-0.9 -7.4-3.2 -7-6 -2.5-4 -0.7-2 0.8-2 2.8-1 12-2 10-0.9zM520 313l16-1.8 6 0.1 2 0.7 2 1.6 1.8 3.4 2.1 10 0.2 26 -5.3 8 -2.6 10 -2.2 2 -2 0.9 -4 1.3 -4 0.5 -18 0 -16-1 -14-1.8 -8 0.2 -4 1.1 -3.4 2.8 -1 4 0.4 4 1.7 6 2 4 3.4 4 4.9 3.5 6 2.4 14 2.9 30 13.2 20 12.7 5.2 5.3 6.5 8 2.4 4 1 4 -1.4 2 -6.4 2 -5.3 0.9 -40-0.4 -22-2.1 -14-3.1 -26-10.6 -5.1-2.7 -13.1-10 -1.5-2 -1.5-4 -0.2-4 0.6-8 2-8 10.3-14 10.5-17.7 2.3-2.3 7.7-4.8 6.7-5.2 5.3-3 16-3.7 8 0 3.4-1.3 2.1-2 1.1-2 0-2 -0.9-2 -3.8-4 -0.8-2 0.3-2 3.7-8 2.7-8 3.3-4 2.8-2 4.1-1.6 6-0.4zM583.7 323l2.3-1.8 2 1 6.2 6.8 9.8 8.6 2.7 3.4 2.9 8 0.8 12 0.6 2 7.9 12 9.1 20.6 2 2.5 6.3 4.9 3.6 4 2.3 6 0.1 4 -0.7 2 -1.7 2 -3.9 1 -6-1.1 -4-1.7 -4-2.9 -7.6-7.3 -13.9-6 -8.5-9.2 -4-5.6 -3.3-9.2 -2.6-16 -2.9-10 0.2-6 3.4-22zM391.4 331l4.6-0.5 4 1.6 2.8 2.9 1.3 4 -0.5 4 -2.9 6 -3.5 4 -3.2 2.2 -6 1.9 -8 0.2 -2-0.6 -2-1.3 -0.9-2.4 1.2-6 3.7-7 4-4.1 6-4.2zM355.8 363l4.2 0 2 1 1.4 1 -0.5 2 -2.9 1.3 -2 0 -3.3-1.3 -0.7-2zM269.6 373l2.4-0.2 2 0.5 2.6 1.7 1.7 2 1.2 4 -0.3 2 -1.2 2.4 -2 1.9 -2 0.8 -2 0 -2-0.6 -2-1.5 -2-2.7 -0.8-2.3 0.1-4 1.2-2 1.5-1.3zM665.7 483l2.4 0 3.9 1.9 4 3.7 0 76.4 -380.6 0 2.6-4 5.6-6 8.4-5.8 6-2.3 18-3.1 6-1.6 12-4.6 7.7-4.6 4.2-4 2.7-4 1.6-4 1.9-8 1.9-4.1 2-2.3 4-2.2 2 0.1 2 0.9 2 1.7 2 2.8 1 3.1 -0.2 10 0.9 6 7.8 22 2.5 5.3 2 2.7 2.5 2 3.5 1.1 3.9-1.1 2.2-2 2.2-4 4.8-14 2.9-5 4.1-5 3.9-3.5 8-5.6 21.6-16.9 3.6-2 5.7-2 7.1-1.8 50-4.1 34 2.4 12 2.4 52 16.6 4 0.9 4-0.1 2-0.5 2.8-1.8 2.5-4 0.6-4 -0.1-10 1.1-4 2.7-4 4.4-3 14-2.6z"/>
<path fill="#00f5ff" d="M361.6 57l2.3-2 65.2 0 2.8 20 0 6 -0.7 4 -3.1 8 -7.6 10 -2.3 4 -1.3 4 -0.2 4 1.3 5.9 4.2 10.1 3.6 6 5.9 8 1.9 4 -1.1 2 -4.5 1.4 -6 0.3 -8-0.6 -4.1-1.1 -6.3-6 -3.6-1.3 -4-0.3 -8 1.5 -6 3.8 -13.5 14.3 -2.8 4 -0.6 2 0.4 4 6 12 2.2 6 0.6 6 -1.1 4 -4.1 6 -7.1 6.7 -2.4 3.3 -2.1 6 -0.5 12 -1.6 4 -1.7 2 -9.7 7.4 -4.8 4.6 -4.6 6 -4.5 8 -3.1 8 -0.3 16 -0.7 2.6 -2 3.3 -4 3.3 -8 4.3 -10 4.5 -6 1.5 -6-0.5 -12-5.3 -4-0.5 -2 0.3 -4 2.7 -7.4 7.8 -4.6 3.9 -12 6.9 -10.7 7.2 -9.4 8 -3.9 4.6 -1.1 3.4 0.7 4 2.4 4 12.5 16 1.7 4 -0.3 4 -1.5 4 -2.4 3.8 -16 12.5 -4 4.6 -5.4 9.1 -2.7 8 -2.1 14 -5.8 18 -1 6 -0.1 6 1.1 6 4 10.4 14.2 19.6 9.9 12 3.8 6 2 6 0.3 4 -0.8 4 -1.4 2.3 -2 1.7 -2 0.8 -4 0.4 -4-0.6 -5.6-2.6 -2.6-2 -3.8-4.1 -10-15.5 -3.6-4.4 -4.4-2.5 -4-0.4 -6 1.4 -6 2.9 -10 7.3 -10 5.9 -10 8.8 -4 2.1 -12 4.9 0-102.3 6-6.1 9-8 3.1-4 1.5-4 1.7-10 2.7-8 0.3-4 -0.9-4 -1.2-2 -12.6-12 -5.1-8 -2.8-10 0.6-10 2.2-6 3.3-6 0.4-2 11.8-14 6-6.1 12-4.4 4-3.1 1.8-2.4 6.5-10 4.9-18 1.8-4 3-3.5 16.3-10.5 11.7-5.2 21.8-12.8 4.2-0.8 10-0.5 4-1 2.7-1.7 0.9-2 -0.1-2 -1.5-8 -0.1-4 0.7-6 -0.2-4 0.7-4 1.6-2 4.9-12 7.4-10 1-3.9 2.2-4.1 0.2-2 2.4-2 -0.4-2 1.6-5.8 0.9-2.2 3.1-2.3 0.4-1.7 -0.6-2 0.7-2 0.1-4 7.4-15.7 4.1-6.3 3.9-7.6 0.6-2.4 8-12 3.3-4 4.1-2.4 12-3.6 6-4 14-14.5 8.7-7.5 7.3-10.3zM274 176.7l-0.7 0.3 0.8 0zM581.7 77l0.5 0 -0.2 0.8zM672.8 111l3.2-1 0 50.3 -16-5.2 -6-3.6 -2.3-2.5 -2.4-4 -2-8 0.1-6 0.8-4 1.6-4 2.6-4 3.6-3.1 4-1.9 12-2.8zM675 243l1-1.4 0 24.8 -6-4.8 -2.1-2.6 -0.7-2 0.8-4 6-8.6zM576.9 259l3.1-0.4 1.1 2.4 -2.5 12 -0.6 6.3 -1.2 1.7 -0.8 0.4 -2-1.1 -0.7-3.3 0.6-14 2.1-3.4zM451 295l5-0.8 4 0.2 2 0.7 2.3 1.9 0.9 2 -0.1 4 -1.2 2 -3.9 2.2 -4 0.7 -6-0.7 -4.5-2.2 -1.9-2 -0.9-2 0.4-2 2.3-2 4.6-1.7zM531 313l9-0.2 4 1.6 2 2.5 0.8 2.1 1.9 8 0 26 -6 8 -2.7 8.9 -4 3 -4 1.3 -18 0.7 -16-1 -16-2.1 -14.5-0.8 -1.5-0.6 -0.9-1.4 0.5-2 2.5-4 5.1-4 12.8-2.9 12-1.1 4.2-2 2.7-2 1.6-2 0.1-2 -4-8 -0.2-2 0.7-4 4.1-12 3.4-4 3.4-1.9 16-2zM585.8 325l2.2 0.4 13.6 11.6 2.4 2.3 2.5 3.7 2.5 8 0.7 12 8.3 12.6 9.1 21.4 2.9 3.6 5.5 4.4 2.6 4 0.5 4 -0.6 2.1 -1.6 1.9 -2.4 0.9 -2 0.1 -4-0.9 -4-2.4 -8-6.9 -11.6-4.8 -2.4-1.5 -2-2.5 -2-4.7 -1.1-1.3 -4.9-3 -4-5.2 -2.8-7.8 -2.3-14 -3-10 0.2-6 3.9-20.6zM387.4 341l2.6-0.6 4 0.3 2.2 2.3 0.3 2 -1.1 4 -1.2 2 -2.2 2 -2 0.7 -4 0 -2.5-0.7 -2-2 -0.4-2 0.9-3.1 2-2.8 2-1.5zM457.2 375l2.8-0.6 0.9 0.6 6.3 18 4.4 6 4.4 3.4 8 3.5 13.7 3.1 16.3 7.2 16 7.8 16 11 8.6 10 3.5 6 0.1 2 -1.1 2 -3.5 2 -5.6 1.2 -8-0.4 -26 0.5 -28-2.4 -16-4 -24-10.8 -8.8-6.1 -6.1-6 -1.8-4 -0.3-8 1.1-8 3-6 9.8-12 7.1-10.5 4-3.8 2-1.3zM269.8 379l0.2-0.7 2-0.8 1 1.5 -1 1.8 -2-1.2zM660.8 487l5.2-1.2 2 0.4 2 1.7 1.4 3.1 0.1 2 -3.4 6 1.5 2 6.4 5.2 0 58.8 -377.5 0 7-8 8.5-5.7 8-2.8 12-2.2 8-2.1 12-4.8 8-4.4 5.3-4 3.7-4 2.7-4 3.6-8 2.7-2.5 2 0.1 2 2.2 1 8.2 1.7 6 11.3 26.7 4 5.4 3 1.9 3 0.7 4-0.9 2-1.5 1.9-2.3 1.9-4 4.9-14 3.3-5.2 4-4.4 34-25.3 4-2.1 6-2.2 4-1.1 16-1.7 34-2.9 32 2.4 8 1.4 6 1.7 30 10.1 24 9.4 8 1.3 6-1.6 2.9-1.8 3.5-4 1.8-4 0.7-4 -1.2-10 0.4-4 1.2-2 2.7-1.9 6-1.8z"/>
<path fill="#06fff9" d="M363.6 57l2.8-2 60.8 0 3.1 20 -0.1 6 -0.8 4 -3.3 8 -10.2 14 -2 6 0.2 6 2.7 18 2.5 4 0.7 4 -2 0.9 -2 0.2 -2.9-1.1 -3.1-2.9 -4-1.1 -10 0.5 -8 1.9 -4 2.1 -4 3.3 -13.3 14.2 -3 4 -0.8 2 0.5 4 6 12 1.9 6 0.3 4 -0.8 4 -3.9 6 -8.9 7.7 -1.5 2.3 -2.5 8 -0.7 12 -1.8 4 -14.3 14 -4.2 6 -5.7 10 -1.7 4 -0.8 4 0.5 12 -1.3 3.8 -2 2.6 -4 2.9 -4 1.9 -8 3.3 -6 1.6 -8-0.1 -14-4.1 -4-0.2 -4 1.1 -3.8 3.2 -7 8 -4.2 4 -19.6 12 -8.6 6 -6.8 5.6 -3.4 4.4 -1.4 4 0.6 6 2.2 4 10.6 14 1.9 4 0.1 2 -1.2 4 -1.4 2.2 -12 11.8 -4.9 6 -3.1 5 -3.4 7 -2.5 8 -1.9 14 -5.9 20 -0.8 10 1.7 8 4.1 10 12.9 18 11.4 14 2.5 4 1.6 4 0.6 4 -0.6 4 -1.7 2.8 -2 1.5 -2 0.7 -4 0.1 -4-1 -3.7-2.1 -6.3-6.5 -12-17.8 -4-2.8 -6-0.9 -6 1.4 -6 2.7 -12 8.5 -9 5.4 -7 6.3 -4 2.9 -14 5.7 0-99.4 7-7.5 9-8 3-4 1.4-4 1.2-8 3.3-12 -0.3-4 -1.8-4 -12.2-12 -4.1-6 -1.9-4 -1.8-8 0.7-10 2.4-6 2.5-4 1.6-4 16-18.5 10-3.7 4-2.2 3.9-3.6 4.5-6 2.4-4 1.5-4 4-16 1.8-4 1.9-2.3 18-11.5 10-4.5 14-7.7 8-5.2 4-0.9 10-0.6 4.5-1.3 2.8-2 0.8-2 -0.1-2 -1.2-6 -0.2-6 0.8-6 -0.1-4 0.7-3.5 1.7-2.5 2.3-6 3-6 7-9.4 0.3-2.6 1.7-2.7 2-0.4 0.7-0.9 -1.3-2 2.6-4 -0.4-4 0.4-2 2-2.7 2 0.1 1.2-5.4 -0.4-2 1-2 0.2-3.7 6.5-14.3 4.9-8 4.6-9.6 10-14.9 4-2.8 12-3.8 6-3.8 14-14.6 10-8.3 8-10.8zM670.2 113l5.8-1.4 0 46.5 -12-3.7 -6.9-3.4 -3.1-2.9 -2.1-3.1 -1.7-4 -0.8-4 -0.1-6 0.8-4 1.7-4 2.2-3.1 3.4-2.9 2.6-1.4 10-2.6zM675 249l1-1.3 0 14.4 -3.3-3.1 -1.1-2 0.4-3 2-3.6zM526.6 315l9.4-0.8 4 0.5 2 0.9 3 3.4 2.4 8 0 24 -0.6 2 -6.2 6 -2.1 8 -1.1 2 -2.2 2 -5.2 1.9 -16 1 -18-1 -22-3.4 -2-0.9 -1.6-1.6 -0.2-2 0.8-2 1.8-2 3.7-2 21.5-3 10-3.6 6-0.8 1-0.6 -0.2-2 -4.8-4.2 -3.4-5.8 -0.3-4 1.8-8 2.4-6 3.5-3.5 2-0.8 10-1.6zM530 348.7l-2 1.4 -0.5 0.9 0.8 2 1.7 1.8 2.4 0.2 1.6-2 -0.6-2 -1.4-1.6 -1.1-0.4zM586 329l2-0.3 4 2.4 8 6.1 5.2 5.8 1.8 4 1.1 4 0.5 12 8.9 14 8.5 22 2 3 5.9 5 0.8 2 -0.1 2 -0.6 1.3 -2 1.3 -4-0.4 -10-6.8 -12.7-5.4 -2-2 -2.5-8 -6.8-2.4 -2-1.3 -3.4-4.3 -2.6-6.7 -2.3-13.3 -3.1-10 0.1-4 1-6 3.4-12zM453.1 383l2.9-1.4 2 0.1 2 1.3 2 2.3 6.4 11.7 3.6 3.8 4 2.8 8 3.4 12 2.7 16.6 7.3 15.3 8 11.5 8 6.6 6 6.3 10 0.5 2 -0.4 2 -2.3 2 -2.1 0.6 -16 0.8 -18 0.4 -28-2 -10-2 -5.4-1.8 -21.8-10 -6.5-4 -6.9-6 -2.8-4 -1.4-6 0.4-8 1-4 2-4 17.4-21.2zM508.7 499l21.3-1.9 24.1 1.9 11.9 1.8 32 10.8 30 13 8 2.3 4 0.3 4-0.4 16-5.9 4-1.1 4 0.7 4 2.7 4 4.7 0 37.1 -265.4 0 3.8-2 3.1-4 5.7-16 2.2-4 3.2-4 5.4-4.8 8-5.1 10-8.2 8-5 6-4.6 6-3 6-1.9 16-2.2 14-1.1zM374.5 529l3.5-1.5 2 0.3 4 3.7 6 9.5 8 17.4 4 4.6 3.9 2 -104.2 0 6.3-6.7 8-5.2 6-2.2 16-3.5 10-3.7 14.1-6.7 11.9-7.8z"/>
<path fill="#16ffe9" d="M366.2 57l3.3-2 55.8 0 3.3 18 0.1 6 -1 6 -1.4 4 -2.1 4 -7.8 10 -3.9 6 -1.6 6 -0.5 12 -1.4 4 -1.4 2 -5.6 4.4 -14 4.5 -6 3.4 -20.5 21.7 -0.9 2 0.1 2 5.9 12 2 6 0.4 4 -0.5 4 -3.7 6 -8.8 7.8 -1.7 2.2 -2.9 8 -1.4 12 -1.1 4 -2.7 4 -10.9 12 -10.9 18 -1.7 6 1 10 -1.7 4.6 -2 2 -4 2.3 -14 3.9 -8 0.4 -16-2.6 -4 0.2 -4 1.1 -4 2.9 -9.8 11.2 -4.2 3.7 -20.1 12.3 -11.8 8 -4.1 4.1 -3.4 5.9 -1.3 6 0.7 5.5 1.1 2.5 4.9 6.3 3.6 5.7 1.5 4 -0.2 4 -1.8 4 -12.8 18 -5.7 12 -2.1 8 -1.9 14 -5.5 20 -1 10 1.9 8.5 4.8 11.5 15.2 21.2 9 10.8 2.2 4 1.1 4 -0.3 4 -0.9 2 -1.9 2 -3.2 1.1 -2 0.1 -4-1 -3.7-2.2 -4.3-4.4 -13.7-19.6 -4.3-2.6 -6-0.6 -6 1.4 -8 3.8 -10 7.2 -10 6.2 -10 8.5 -4 2 -10 3.6 0-96.6 8-8.9 8.9-8 3-4 1.4-4 1.2-8 2.4-8 0.6-4 -0.3-4 -1.8-4 -11.9-12 -4.1-6 -1.9-4 -1.5-6 -0.2-4 0.9-8 5.7-12 15.6-18 2.1-2 7.9-2.8 5.5-3.2 2.5-2.2 4.8-5.8 2.6-4 1.8-4 3-14 1.8-5.7 3.1-4.3 5.8-4 13.1-7.5 22-11.3 8-5.4 2-0.8 10-0.7 4-0.9 4-1.6 1.9-1.8 0.5-4 -1.3-10 1.5-14 1.6-2 2.1-6 3.7-7 6-8.5 3.2-6.5 2-2 -0.4-2 1.8-2 0.5-2 -0.3-4 0.8-2 3.4-2 1.7-12 1.6-4 5.6-12 4.8-8 4.9-10 7.9-12 2.5-2.8 4-2.2 10-3.2 6.3-3.8 13.7-14.5 9.9-7.5 7.4-10 4.7-3.9zM666.4 115l9.6-1.8 0 42.8 -10-2.8 -6-2.8 -4-3.3 -1.6-2.1 -2.6-6 -0.6-8 0.8-4 1.8-4 4.2-4.5 4-2.2 4-1.2zM524.6 317l7.4-1 6 0.3 4 2 2 2.7 1.8 6 0 4 -1.3 18 -0.5 2 -2 0.9 -2-0.6 -3.7-4.3 -4.3-3.1 -2-0.5 -8 1.3 -4 0 -4-1.1 -2.8-2.6 -1-2 -0.4-4 1.1-6 2.1-6 1.2-2 2.6-2 7.2-1.9zM587 333l1-0.7 2 0.1 6 3.3 6 5 3.1 4.3 1.6 4 0.8 4 0.2 10 8.5 14 4 10 2.8 10 0.4 4 -0.5 2 -0.9 0.7 -4-0.2 -6-1.5 -4-2 -2.6-3 -1.8-6 -1.6-1.9 -8-2.6 -2.1-1.5 -3-4 -2.2-6 -2.2-12 -3.2-10 0.1-4 1.2-6 1.4-4.7 2-4.3zM506.1 355l13.9-1.3 2 0.3 12 6.7 1.3 2.3 -0.5 4 -2.8 2.9 -4 1.5 -14 1.4 -16-0.8 -20-3.2 -4-1.8 -0.9-2 0.4-2 1.7-2 2.8-1.3 20-2.7 8-2zM453.6 387l2.4-1.1 2 0.1 2 0.9 2 2 3.4 6.1 3.1 4 3.5 3.2 4 2.6 6 2.7 12 2.9 6.6 2.6 12.9 6 16.5 10 9.8 8 3.2 4 2.5 6 0.2 2 -0.9 2 -4.8 1.8 -8 1.2 -18 1.2 -28-1.4 -8-1.5 -6-1.8 -22-10.5 -5-3 -6.9-6 -2.9-4 -1.7-6 0.1-6 1.6-6 2.3-4 14.5-16.9zM520.6 499l11.4-0.7 22 1.7 12 2.1 34 12.4 34 15.7 8 2 12 1.5 8 2.2 8.4 3.1 5.6 1.3 0 24.7 -261.6 0 3.6-4 2-4.2 4.7-13.8 2.4-4 2.9-3.4 4-3.5 10-6.5 8-6.6 16-10.7 7.2-3.3 6.8-1.7 12-1.8 26-2.4zM375.4 533l2.6-0.2 2 0.6 2 1.1 4 4 4 6.3 6.8 14.2 3.1 4 2.4 2 -97.2 0 6.1-6 6.8-4.3 4-1.5 14-3.3 6-2 32-14.6z"/>
<path fill="#27ffd9" d="M369.8 57l3.3-2 50.4 0 3.6 18 0 6 -0.6 4 -2 6 -2.2 4 -12.4 16 -2 6 -1.3 10 -2.9 6 -4 4 -3.3 2 -10.4 4.1 -4 2.5 -22.9 23.4 -0.8 2 0.2 2 5.3 10 2.2 6 0.6 4 -0.6 4.7 -3 5.3 -7 6.3 -4.5 5.7 -3 8 -1.7 12 -1.3 4 -2.4 4 -9.1 11.2 -12.8 20.8 -1 6 0.9 8 -0.9 2 -4.2 2.9 -4 1.1 -18 2.2 -18-0.4 -4 0.8 -4 1.8 -4 3.3 -8 9.5 -5.1 4.8 -29.3 18 -5.2 4 -4.8 6 -3.5 8 -1.5 6 0.1 4 1.3 2.8 5.5 7.2 2.1 4 0.5 2 0.1 4 -1 4 -9.6 18 -4.8 12 -1.5 6 -2.2 16 -5.2 20 -1.1 10 1.7 8 2.8 8 2.7 5.8 11.3 16.2 6 8 5.4 6 2.6 4 0.8 2 0.2 4 -0.6 2 -1.7 2 -4 1.1 -4-0.9 -2-1.2 -3.4-3 -2.6-3.2 -12-17.5 -4-2.8 -6-1 -6 0.9 -8.6 3.6 -21.4 14.2 -10 8.4 -4 2.2 -10 3.4 0-93.7 7-8.5 10.8-10 2.9-4 1.4-4 1.2-8 2.3-8 0.6-4 -0.5-4 -1.7-4 -11.6-12 -4.1-6 -1.9-4 -1.5-8 1-10 1.6-4 4.5-7.6 10-10.4 6-7.6 2-1.4 6-2.3 6-3.4 3.9-3.3 5-6 2.4-4 1.5-4 3.7-18 1.5-3.2 2-2.3 8-5.2 24-13.3 8.8-4 8.9-6 12.3-1.4 6-2.2 2-1.7 0.9-2.7 -1.2-12 1.2-8 -0.3-2 0.9-4 1.6-2 2.3-6 2.6-4.7 4.6-7.3 1.9-2 5.5-11.3 2.1-2.7 -0.1-4.6 1.3-3.4 2.9-2 -0.2-2.1 2-5.9 -0.4-2 2.1-6 5.6-12 9.7-18 7.9-12 1.9-2 3.4-2 11.3-4 4.5-2.7 4-3.5 10.4-11.8 11.2-8 6.4-9 2-1.8 4-2.3zM673.5 115l2.5-0.3 0 39.3 -10-2.8 -6-3.2 -4.4-5 -1.8-4 -0.8-4 0-4 0.9-4 1.9-4 1.6-2 2.6-2.1 3.8-1.9 8.2-1.8zM524.9 319l7.1-1 4 0.2 4 1.6 2 2.2 1.8 5 0.1 4 -1.9 9 -2 2 -2-0.1 -8-2.5 -10 0.8 -2-0.1 -2.9-1.1 -1.1-2 -0.1-4 2.1-8 1.2-2 2.2-2 4.6-1.7zM589.6 335l4.4 1.2 4 2.6 4 3.7 2.9 4.5 1.8 6 0.2 10 1.1 2.8 6.8 11.2 5.4 14 0.4 6 -0.7 2 -1.9 1.4 -4-0.1 -4-1.8 -2-2.2 -3.6-7.3 -2.4-1.6 -8-2.7 -2.1-1.7 -2.7-4 -2.1-6 -1.8-10 -3.2-10 0.1-4 1.8-7.3 2-4.2 2-2.1zM503.9 357l6.1-0.8 10 0.3 4 1.6 4.2 2.9 1.7 2 0.6 2 -0.6 2 -2.2 2 -7.5 2 -8.2 0.7 -14.4-0.7 -19.6-4 -2.3-2 0.1-2 2.2-2.1 8-0.7 16-2.8zM453.2 391l2.8-1.4 2-0.1 2 0.8 6.9 8.7 7.3 6 5.8 2.9 16 4.6 10.2 4.5 7.6 4 11.8 8 7.1 6 5 6 1.2 4 -0.4 2 -1.9 2 -6.6 2.3 -16 2.2 -22-0.3 -8-0.7 -6-1 -6-2 -24.3-12.5 -5.1-4 -4.9-6 -1.5-4 -0.4-6 1.2-6 2.1-4 6.9-8.9 6-6.3zM512 501l18-1.7 26 2.1 12 2.7 24 9 16 7.1 28 14.2 22 6.6 10.5 4 7.5 2.1 0 17.9 -259.3 0 3.3-4.9 5.4-15.1 3.5-6 5.1-5 10-6.5 10-8 16-10.2 8-3.4 14-2.7 18-1.9zM371.1 537l2.9-0.7 4 0 4 1.8 2 1.6 4 4.9 8 15.6 4.1 4.8 -91.4 0 5.3-4.9 6-3.8 20-5.7 30-13.3z"/>
<path fill="#37ffc9" d="M374.1 57l2.3-2 45.3 0 3.6 16 0.4 6 -0.8 6 -2.1 6 -2.4 4 -13.1 16 -2.4 6 -2.3 10 -3.3 6 -4.3 4 -3.3 2 -7.7 3.4 -4 3 -12.3 13.6 -10.7 10 -0.7 2 0.1 2 5.6 10 2 6 0.3 4 -0.8 4 -2.2 4 -8.2 8 -4.3 6 -2.9 8 -2.3 12 -1.2 4 -2.1 4 -7.4 10 -6.9 11.6 -7.5 10.4 -1.7 4 -0.8 6.1 -0.9 1.9 -3.1 1.4 -8 0.6 -10 3.6 -18 1.6 -4 0.9 -4.3 1.9 -5 4 -8.7 10.3 -6 5.4 -10 6.6 -18 10.2 -4.9 3.5 -3.8 4 -2.9 4 -6.9 14 -0.6 4 0.3 2 8.2 12 1.2 4 0.1 4 -1.4 6 -7 16 -3.2 10 -3.4 22 -5.8 24 -0.3 8 4.4 14.4 4 9.1 7 10.5 7.6 10 8.5 10 1.2 4 -0.3 2 -1.6 2 -2.4 0.8 -2-0.2 -4.6-2.6 -11.1-14 -4.3-7.5 -2-2.1 -4-1.7 -6-0.4 -8 1.6 -8 3.7 -21.4 14.4 -9.6 8 -5 2.5 -8 2.4 0-90.5 6.2-8.4 12.5-12 2.9-4 1.4-4 1.2-8 2.2-8 0.4-4 -0.5-4 -1.7-4 -2.6-3.3 -8.8-8.7 -4-6 -1.9-4 -1.4-8 0.2-6 1.1-4 1.7-4 3.8-6 10.8-10 5.9-8 8.6-4.5 6-3.8 4.3-3.7 5-6 2-4 1.2-4 2.7-16 1.4-4 1.4-2 6-4.3 26-14.7 10-4.5 6-4.5 4-1.5 10-1.2 6-2.3 2-1.5 1-1.5 0.4-2 -1.1-10 1.7-14.3 6.6-13.7 7.3-10 0.1-2 2-2 2.2 0 0.4-2 -0.9-2 3.5-6 0.5-2 -0.2-2 1.4-4 2.2-2 1.4-6 0.2-4 8-18 9.6-18 7.7-11.5 2-2 4-2.1 10-3.7 4.6-2.7 4.4-4 6.5-8 4.5-4.6 10-6.2 8-10.3 10-4.8zM668.5 117l7.5-0.8 0 35.7 -8-2 -6-2.9 -4.1-4 -2.7-6 -0.5-4 0.4-4 2.7-6 4.2-3.7 6-2.2zM527.8 321l4.2-0.5 4 0.5 2 1 2 2.2 1 2.8 0 4 -1 3 -2 1.9 -2 0.4 -12-0.9 -2-0.6 -2-1.7 -0.6-4.1 1.4-4 2-2 3.2-1.4zM587.2 339l2.8-1.8 4 0.8 6 4.1 4 5.3 1.9 5.6 0.3 10 1.8 4.5 5.3 9.5 4.7 12.6 0.7 3.4 -0.7 3.1 -2 1.5 -2 0 -2-0.8 -2-2 -4-6.6 -2-1.5 -8-2.6 -2-1.1 -3.5-4 -2.4-6 -2-10 -3.3-10 0.7-6 2.5-6.6zM496.7 359l17.3-1.3 4 0.5 4 1.8 3.1 3 0.5 2 -1 2 -3.6 2 -7 1.3 -18-0.7 -3.1-0.6 -6.9-2.7 -6.5-1.3 -0.9-2 1.4-0.6 6-0.1 10-3.2zM452.4 395l3.6-1.9 2 0 2 0.8 9.4 9.1 6.6 4.3 6 2.6 14 4.1 11 5 5 3 11.6 9 5.8 6 2 4 0.2 2 -0.6 2 -1.8 2 -3.9 2 -3.3 1 -10 1.9 -20 0.2 -10-0.8 -6-1.3 -4-1.5 -24-13.2 -4.9-4.3 -3-4 -1.5-4 -0.5-6 1.5-6 2.2-4 6.2-7.9 4-3.9zM523.9 501l6.1-0.5 12 0.4 17 2.1 11 3.1 24 9.6 18 8.6 24 13.3 40 14.2 0 13.2 -257.3 0 3.2-6 5-14 3.9-6 4.3-4 9.2-6 9.7-7.7 14-8.8 8-3.9 8-2.5 10-1.7 28-3.2zM372 539l6 0.1 2 0.7 4 2.7 4 5.2 6 11.6 4 5.7 -85.4 0 4.4-4 5-3 16-4.7 24-11.1 8-2.8z"/>
<path fill="#47ffb8" d="M377.5 57l1.8-2 40.6 0 2.1 6.8 1.8 9.2 0.3 6 -0.9 6 -2.2 6 -2.5 4 -12.3 14 -2.7 4 -1.8 4 -3 10 -3.6 6 -4.7 4 -6.4 3.3 -4 3.1 -13.8 15.6 -9.5 8 -1.6 2 -0.6 2 0.6 4 5.1 8 1.5 4 0.4 4 -0.6 4 -1.8 4 -9.6 10 -3.9 6 -2.3 6 -4.6 18 -12.7 22 -4.6 6.1 -10 11 -12 7.2 -8 3.7 -18 3.1 -4 1.2 -4 2.1 -4 3.4 -8.7 10.2 -6.4 6 -8.9 6.3 -20 10.9 -6 4.5 -5.7 6.3 -9.2 14 -1 4 0.6 4 2 4 6.4 10 1 4 0 4 -1.3 6 -3.6 10 -3.2 11.5 -3.3 22.5 -5.7 24 -0.9 8 1 6 8.1 24 0.8 4.7 -2 0.4 -8-0.5 -6 0.6 -6 1.5 -4 1.7 -6.7 3.6 -17.6 12 -11.7 9.4 -4 1.9 -8 2.3 0-87.4 2.5-4.2 4.6-6 12.5-12 2.9-4 1.4-4 1.2-8 2.4-10 -0.6-6 -1.7-4 -3.2-4 -7.9-8 -4-6 -1.9-4 -1-4 -0.4-4 0.4-6 1.2-4 1.6-3.3 4-5.9 12-8.9 1.8-1.9 4.2-6.5 14.9-9.5 4.6-4 3.3-4 2.7-6 3-20 1.5-3.8 1.8-2.2 5.8-4 16.4-8.9 8-5.2 10-4.2 8-5.6 12-2.1 6-2.5 2.4-1.5 1.2-2 0.2-2 -1-10 2-14 1.4-2 5.3-12 6.5-8.1 1.6-3.9 2.4-1 0.7-1 0.7-4 2.6-5.1 2-7.6 2-3.3 1.7-6 0.3-3.9 2.4-6.1 4.6-10 6.5-12 0.6-2 3.5-6 8.4-12 4-2.6 12-4.7 4-2.6 4-3.9 6.4-8.2 3.6-3.7 4-2.8 6.9-3.5 7.1-9.2 2-1.4 8-2.3 2-1.6zM665.6 119l4.4-1 6-0.3 0 32 -8-1.8 -4-1.9 -3.6-3 -2.5-4 -1.3-6 0.9-6 2.4-4 4.1-3.3zM531.5 325l2.5 0.4 1.6 1.6 -0.1 2 -1.5 1.2 -2 0.2 -4.7-1.4 -0.2-2 0.9-0.9 2-0.7zM587.7 341l2.3-1.6 2-0.1 4 1.4 4 3.1 3.7 5.2 1.6 6 0.7 9.8 5.8 12.2 1.7 8 2.6 6 -0.1 2.2 -2 0.7 -1.3-0.9 -2.4-4 -2-2 -4.3-2 -8-2.4 -2.4-1.6 -3-4 -1.5-4 -2.2-10 -3.3-10 0.4-4.1 2.2-5.9zM493.1 361l2.9-0.8 8-0.1 8-0.9 4 0.4 3.1 1.4 1.7 2 0.3 2 -1.6 2 -3.5 1.4 -4 0.5 -16-0.6 -3.9-1.3 -2.4-2 0.5-2 1.8-1.2zM454.4 397l3.6-0.7 2 0.7 10.1 8 5.9 3.6 24 8.7 7.4 3.7 5.4 4 9.8 10 2.3 4 0.4 2 -0.3 2 -1.3 2 -2.5 2 -4.6 2 -6.6 1.3 -14 0.7 -10-0.2 -8-1.1 -6.7-2.7 -17.8-10 -5.8-4 -3.8-4 -2.3-4 -1.1-4 0.3-6 1.3-4 3.8-6 4.1-4.8 4-3zM518 503l12-1.3 16 0.5 12 1.7 12 3.6 30 12.7 14 7.4 22 12.8 20 7.2 12 5.4 8 2.8 0 9.2 -255.5 0 2.1-4 5.4-15 3-5 5-4.9 10-6.7 10-7.7 16-9.6 10-3.8 10-2.1 24-3zM199.9 507l0.1-1.6 2 0.2 4 3.3 5.4 8.1 6.6 6.1 1.5 3.9 -1.5 1.8 -2-0.2 -2.6-1.6 -5.9-8 -5.5-5.3 -1.3-2.7 -0.7-3.2zM371.9 541l6.1 0.4 4 2 2 1.7 4 5.4 5.5 10.5 2.8 4 -80.2 0 7.9-5.2 14-4.5 24-11.5 8-2.6z"/>
<path fill="#57ffa8" d="M380.2 57l2-2 35.7 0 2.3 6 2.1 10 0.3 6 -1 6 -1.6 4.3 -3.4 5.7 -16.3 18 -2.2 4 -3.3 10 -2.4 4 -4.1 4 -8.3 6.2 -13.4 15.8 -4.6 4.4 -6 4.5 -2.6 3.1 -0.7 2 0.4 4 6.1 10 0.8 4 -0.4 4 -3 6 -7.8 8 -4.1 6 -3.3 8 -5.1 18 -11.5 22 -4.8 5.6 -6 5.2 -9.9 5.2 -10.1 7.2 -7.2 2.8 -14.8 3.1 -4 1.6 -4 2.4 -4 3.7 -9.5 11.2 -6.8 6 -7.7 5.4 -20.2 10.6 -5.7 4 -15.5 16 -2.7 4 -0.8 4 0.7 4 2.7 6 6 10 1.2 4 0.3 4 -0.7 6 -5.3 22.9 -3.1 23.1 -6.1 28 0.4 6 5.8 20 0.4 4 -0.5 2 -2.6 2 -12.3 2.8 -10 4.4 -22 14.8 -10 8.2 -4 2 -8 2.1 0-84.2 3.5-6.1 4.5-6 3.7-4 8.9-8 2.8-4 1.4-4 1.1-8 2.4-10 -0.8-6 -1.7-4 -3.1-4 -7.8-8 -4-6 -1.8-4 -1-4 -0.3-4 0.5-6 1.4-4 5.2-8 7.1-4.6 8-3.5 2.1-1.9 3.2-6 6.7-6 10-6.5 4-4.2 2-3.3 1.5-4 1.5-16 1-6 1.9-4 2-2 6-4 14.1-7.5 8-5.5 10-4 8-5.6 12-2.6 8-3.7 1.2-1.1 0.9-2 0.2-2 -1-10 2.4-14 1.4-2 5.5-12 6.8-8 0.6-2.4 3.3-3.6 0.7-2.5 2.3-3.5 3-10 1.6-2 2-8 -0.2-2 3-8 4.5-10 10.6-20 6.9-10 2.1-2 3.4-2 10.8-4.3 4-2.5 4-3.6 7.3-9.6 4.1-4 2.6-1.7 5.9-2.3 2.1-1.5 6-7.6 2-1.6 8-1.3 2-1.3 4-4.4zM664.5 121l5.5-1.6 6-0.1 0 28.2 -6-1 -4-1.6 -4-3.1 -2-2.9 -1.5-5.9 0.3-4 1.7-4 3.5-3.7zM588 343l2-1.4 2-0.4 2 0.3 4 2.2 4.5 5.3 2 6 0.8 10 4.8 12 0.2 4 -1.1 2 -3.2 0.6 -8-1.5 -4-2.5 -2.1-2.6 -1.9-4.3 -2.8-11.7 -2.6-8 1.1-6 2.3-4zM511.6 361l2.6 0 2.7 2 -0.1 2 -2.8 1.6 -2 0.3 -6-0.8 -8 0.8 -2-0.4 -2.6-1.5 0.1-2 2.5-1.5 8 1 6-1zM452.7 401l3.3-1.6 4 0.2 16 10.3 6 2.6 12 3.8 8 3.6 5.3 3.1 4.4 4 7.2 10 0.8 4 -0.5 2 -1.6 2 -3.6 2.2 -10 2 -12 0.7 -12-0.7 -6.6-2.2 -20.3-12 -5-4 -3.2-4 -1.7-4 -0.5-4 0.4-4 1.5-4 3.4-5.3 4-4.2zM528.6 503l17.4 0.2 11.8 1.8 10.2 3.1 20 8.4 22 10.9 24 14.6 22 8.4 12 6 8 2.9 0 5.7 -253.8 0 6.9-18 2.3-4 2.6-3.2 4-3.5 8-5.3 10-7.7 12-7.3 8-3.7 10-3.4 42-5.9zM369.7 543l6.3 0 4 1.3 2 1.3 4 4.3 8.7 15.1 -74.4 0 5.7-3.4 12-4.3 20-10.2 10-3.8z"/>
<path fill="#68ff98" d="M382.8 57l2-2 31 0 2.7 6 1.9 8 0.6 8 -1.1 6 -2.5 6 -4.3 6 -14.7 14 -3.3 4 -3.6 10 -2.3 4 -11.2 11.6 -12.8 16.4 -3.2 3 -6.8 5 -3.5 4 -0.8 2 0.2 4 2.1 4 3 4 1.5 4 -0.7 6 -3 5.1 -8.3 8.9 -3.6 6 -8.6 26 -9.5 20.3 -2 2.7 -6 5.3 -4 2.5 -8 3.3 -12 8.5 -6 2.6 -16 4 -6 3.1 -4.3 3.7 -11.7 13.5 -10 8.4 -8 4.8 -18.7 9.3 -13.3 9.5 -10 5.6 -2.4 2.9 -0.7 2 -0.2 4 1.4 6 1.9 4 8 13 1.8 5 0.4 4 -5.9 48 -6.8 32 0.3 6 4.6 16 0.5 4 -0.9 4.2 -1.6 1.8 -2.4 1.2 -10 3 -10 4.9 -20 13.7 -12 9.4 -4 1.5 -6 1.3 0-80.5 4.6-8.5 4.3-6 3.7-4 8.9-8 2.9-4 1.4-4 1.1-8 2.3-10 -0.5-4 -2.2-6 -12.3-14 -4.3-8 -0.9-4 -0.2-4 1.4-8 3.6-6 2.2-2.8 2-1.5 6-2.8 12.2-2.9 4.4-2 1.4-2.1 1.6-5.9 1.1-2 1.9-2 7.4-4.5 3.4-3.5 2.6-4.7 1.8-5.3 0.9-18 1.1-6 2.2-4 2-1.8 6-4 12-6.3 8.1-5.9 9.9-3.8 8-5.4 12-3.2 8-3.7 2-1.8 0.8-4.1 -1-6 0-4 2.2-12 7.8-16 6.2-7.2 2-3.5 2.7-1.3 -0.7-2.4 4-5.6 2.8-10 1.3-2 2.1-10 2.8-8 4.4-10 10.7-20 7.2-10 2.4-2 12.3-5.3 6-3.9 4-4.2 6.1-8.6 3.9-3.7 2-1.2 7.9-3.1 8.1-8.4 2-0.7 6-0.3 2-1 6-6.7zM668.5 121l7.5 0.1 0 24.1 -4-0.5 -5.1-1.7 -2.9-2.1 -2.6-3.9 -0.9-6 1-4 2.8-4 3.7-1.9zM588.5 345l1.5-1.3 2-0.6 4 1 4 3.2 2.4 3.7 1.3 4 0.9 10 3.8 12 -0.2 2 -1.5 2 -4.7 0.6 -4-0.9 -2.8-1.7 -3.1-4 -2.1-5.8 -4.4-16.2 0.6-4 1.8-3.5zM454.1 403l3.9-1.2 4 1 14 8.6 18 6.5 10.3 5.1 2.6 2 3.5 4 4.2 8 0.4 4 -0.9 2 -2.2 2 -5.4 2 -8.5 1.5 -10 0.3 -8-0.5 -4-1.2 -4-2.1 -18.9-12 -3.1-2.7 -2.7-3.3 -1.8-4 -0.5-4 0.4-4 1.6-4 3-4.4 4-3.5zM523.7 505l10.3-1 14 0.4 10 1.8 8.7 2.8 23.3 9.9 10 4.9 12 6.7 22 13.7 20 7.8 14 7.3 8 3.1 0 2.6 -252.1 0 6.1-16.4 4-6.6 5.4-5 20.6-14.7 12-6.7 12-4.5 8-1.6 30-4.2zM367.4 545l4.6-0.6 4 0.3 4 1.5 2 1.5 4 4.7 7.1 12.6 -68.1 0 15-6.6 18-9.8 8-3.3z"/>
<path fill="#78ff88" d="M385.3 57l2-2 26 0 3.5 6 2.1 8 0.4 8 -1.1 6 -2.6 6 -4.5 6 -7.1 6.5 -11.9 9.5 -2.6 4 -5.8 12 -18.2 26 -3.9 4 -8.3 6 -3.5 4 -0.8 2 -0.1 4 1.8 4 4 6 0.5 2 -0.3 4 -2.9 5.4 -8 8.6 -3.7 6 -9.6 28 -8.7 20 -4 3.9 -4 2.9 -14 6.4 -10 7 -6 2.5 -14 3.9 -6 2.7 -6 5.1 -11.6 13.6 -10.4 8.8 -12 6.8 -14.9 6.4 -7.1 3.7 -4 1.4 -4 0.2 -4.3-1.3 -2.7-2 -1.3-2 -0.6-2 3.4-22 0.3-18 1-6 2.2-3.5 2.6-2.5 5.4-3.4 10-5.1 10-7.1 8-2.8 10-6.3 10-2.7 8-3.8 2-1.4 0.9-1.4 0.4-2 -1-8 0.1-4 2.5-12 1.3-2 3.8-8.7 2.1-3.3 7.9-10.9 4-2.9 -0.5-2.2 4.2-6 0-2 1.1-2 4.6-18 2.8-8 4.4-10 10.7-20 6.7-9.1 2-1.8 4-2.2 10-4.2 6-4.4 7.4-10.3 4.6-4.9 4-2.2 6-2 8-6.5 2-0.9 6-0.3 2-0.9 2.8-2.3 5.2-6.5zM667.6 123l4.4-0.4 4 0.6 0 19.3 -4-0.2 -4-1.2 -2.7-2.1 -1.5-2 -0.8-2 -0.4-4 1.1-4 2.3-2.9zM145.4 341l6.6-1.6 8 0.1 6 2.6 6 4.5 4 3.7 2 2.7 5.5 10 7.1 10 2.8 6 0.8 4 0.1 6 -2.7 38 -1.7 12 -5.1 22 -0.8 6 0.9 6 3.2 10 0.6 8 -0.7 2.3 -2 2.4 -2 1.3 -10 3.7 -10 5.4 -20 13.9 -8.6 7 -3.4 1.9 -8 1.8 0-77.2 5.6-10.5 4.2-6 3.7-4 9-8 2.8-4 1.6-4 3.2-18 -0.6-4 -2.3-6 -12.2-14 -3.4-6 -1.4-4 -0.4-6 0.9-6 0.8-2 4.5-6.3 4-3.1zM589 347l3-1.9 4 0.8 4 3.3 2 3.2 1.2 4.6 1.1 10 2.3 8 0 2 -1.1 2 -3.5 1.1 -4-0.8 -2-1.3 -2.5-3 -1.9-4 -4.4-16 -0.1-4 0.9-2.6zM455.7 405l2.3-0.7 4 0.6 14 8 20 7.5 8 4.6 2.2 2 2.8 4 2.1 6 -0.4 4 -2.7 2.8 -6 2.4 -6 1.2 -16-0.1 -5.9-2.3 -18.2-12 -3.9-3.3 -2.3-2.7 -1.9-4 -0.6-4 0.5-4 1.7-4 4.6-5.1zM520.6 507l11.4-1.6 12-0.3 10 1.3 10 2.9 24 10.3 10 4.9 14 7.9 22 13.9 18 7.1 14 7.6 9.1 4 -249.5 0 5.9-16 3.6-6 4.9-4.7 20-14.4 12-6.7 12-4.4 8-1.7 28-4zM365.4 547l4.6-1 4 0 6 2.1 4.8 4.9 6.8 12 -61.2 0 11.6-5.7 14.1-8.3 7.9-3.5z"/>
<path fill="#88ff78" d="M387.8 57l2.4-2 20.4 0 1.9 2 2.5 4 1.9 6 0.8 8 -1.3 8 -2.7 6 -4.7 6 -9 7.3 -10.6 6.7 -3.8 4 -4.7 8 -5.4 14 -8.5 14 -5 6.2 -10.6 7.8 -3.6 4 -1 2 -0.3 4 1.6 4 3.5 6 0.6 2 -0.5 4 -2.3 4 -7.3 8 -2.7 4 -11.3 32 -7 16 -2.5 4 -6.6 5.1 -14 5.9 -10 6.8 -22 7.5 -4 2 -4 3.4 -12.9 15.3 -11.7 10 -6.7 4 -6.7 3.1 -16 4.7 -4 0.2 -4-1.7 -2-2.3 -2-5.1 -0.8-6.9 0-24 1.1-6 1.7-2.8 3.2-3.2 2.9-2 11.9-5.9 8-6.1 8-2.9 10-6.3 10-3.1 10.7-5.7 1.1-2 0.2-2 -1.3-8 0.3-4 2.7-12 1.5-2 3.5-8 2.6-4 4.8-6 1.9-3.2 2-2.1 2-0.7 1.3-4 3-4 3.9-12 -0.1-2 1.8-8 2.8-8 5.1-12 10.2-19.4 6-7.9 2.7-2.7 3.3-2.1 10-4.1 6-4.1 3.2-3.7 5-8 3.8-4.1 4-2.3 6-1.7 8-5.3 2-0.7 6-0.4 2-0.8 4-3.1 6-7.7zM669.8 125l2.6 0 3.6 1 0 13.3 -6-0.4 -2-1 -2-2.5 -0.7-2.4 0.4-4 2.3-3.2zM145.2 343l4.8-1.2 6 0 6 1.8 4 2.8 5.4 4.6 3.3 4 6.3 10 7 9.8 1.7 4.2 0.7 6 -0.1 10 0.7 12 -0.6 18 -2.6 18 -4.7 20 -0.5 4 0.8 6 3.2 10 0.2 6 -1.5 4 -2.1 2 -11.2 5.4 -10 5.7 -30 21.6 -8 1.7 0-73.5 6.6-12.9 4.1-6 3.6-4 9.2-8 2.9-4 1.5-4 1.6-10 1.6-6 -0.1-4 -3.1-8 -12.1-14 -3.4-6 -1.3-4 -0.4-6 1.2-6 3.9-6 4.2-3.5zM589.7 349l2.3-1.7 2-0.2 2 0.6 3.9 3.3 1.1 2 1.4 4 0.9 10 1.4 6 0.2 2 -0.5 2 -2.4 1.5 -2-0.1 -2.9-1.4 -3.1-3.6 -2-4.7 -3.6-13.7 0.2-4zM457.6 407l2.4-0.3 4 1.2 14 7.5 12 4.2 7.8 3.4 5.7 4 2.5 3.3 1.2 2.7 0.8 4 -0.3 2 -0.9 2 -2.2 2 -4.4 2 -4.2 1 -6 0.4 -8 0 -4-0.7 -4.9-2.7 -17-12 -2.2-2 -3-4 -0.9-2.3 -0.6-3.7 1.5-6 3.1-4 2-1.4zM529.8 507l10.2-0.8 8 0.2 8 1.7 8.8 2.9 29.2 13 16 9 22 14.3 8 3.7 12 4.6 17.3 9.4 -241.9 0 4.8-14 2-4 2.9-4 4.9-4.5 16-11.6 6.3-3.9 9.7-5.1 12-3.9 42-6.7zM363.7 549l4.3-1.2 4-0.4 4 0.5 4 2 4 4.2 6.1 10.9 -55 0 6.9-3.7 13.3-8.3 6.7-3.3z"/>
<path fill="#98ff68" d="M390.8 57l3.4-2 12.8 0 2.9 2 1.8 2 2.3 4.1 1.8 7.9 0.1 6 -1.9 7.6 -3.6 6.4 -4.4 4.6 -8 5.8 -10.7 5.6 -7 6 -2.8 4 -1.8 4 -1.2 8 -1.7 6 -7.3 14 -4.7 6 -11.5 8 -3.7 4 -1.2 2 -0.5 4 4.3 10 0.3 4 -0.6 2 -2.7 4 -5.6 6 -2.6 4 -5.6 20 -7.4 17.7 -6.6 12.3 -1.4 2 -4.3 4 -3.7 2.3 -14 5.1 -6.6 4.6 -4 2 -9.9 4 -9.5 2.8 -4 1.9 -4 3.7 -10.5 13.6 -10.6 10 -5.6 4 -7.3 3.9 -10 2.9 -6 0.4 -4-0.9 -4-3.1 -2-3.4 -1.2-3.8 -0.6-6 0-20 0.9-4 2.6-4 4.3-3.2 10.3-4.8 8.5-6 7.2-3.1 10-6.4 10-3.4 6-3.4 4-1.6 2-1.8 0.8-2.3 -0.1-2 -1.4-6 0-4 3.3-14 7.9-14 5-6 0.8-2 1.7-1.6 2-0.7 1.4-1.7 0.6-2.9 2-2.2 1.6-2.9 2.4-6 3.1-16 2-6 4-10 6.6-12 4.5-10 6.2-8 3.6-3.6 4-2.3 10-4.2 5.3-3.9 2.7-3.4 5-8.6 3.8-4 3.2-1.8 7.6-2.2 6.4-3.6 4-0.9 4-0.2 3.6-1.3 4.4-3.8 4.7-6.2 3.3-3.4zM670.2 131l1.8-1.1 2.5 1.1 0 2 -0.5 0.5 -2 0.5 -1.6-1zM144.7 345l3.3-1.1 6-0.2 6 1.5 4 2.5 7.4 7.3 12.8 20 1.7 4 -0.1 14 2.8 14 0.4 18 -3.2 22 -3.5 14 -1 6 0.5 6 3.1 10 0 4 -0.9 3.3 -2 2.8 -20 11.7 -30 21.5 -8 1.7 0-69.5 6.5-13.5 3.6-6 5.1-6 9.3-8 3-4 1.7-4 3.3-16 -1-6 -2.8-6 -12.1-14 -3.3-6 -1.3-4 -0.3-6 1.5-6 2.8-4.3 4-3.4zM590.8 351l1.2-1.2 2-0.5 2 0.5 2 1.3 2 2.4 2.3 7.5 0.6 14 -0.9 1.2 -2 0.4 -2-1 -2-1.9 -2-3.3 -3.4-11.4 -0.8-4 0.2-2.3zM455.5 411l2.5-1.5 2-0.4 4 0.9 14 7.2 12 4.2 8 3.7 4.5 3.9 2.2 4 0.4 4 -0.6 2 -1.5 2 -5 2.8 -6 1.2 -12 0 -4-1.7 -17-12.3 -5-5.1 -1.5-2.9 -0.7-4 0.8-4 1.4-2.5zM527.3 509l10.7-1.5 8-0.2 8 1.4 10 3.4 30 13.5 14 8 24 15.6 6 3 12.4 4.8 13.8 8 -235 0 4.8-14 2.1-4 3-4 4.6-4 20.3-14.2 10-5.3 10-3.4 8-1.6 22-2.9 12-2.3zM369.2 549l2.8-0.2 4 0.7 4 2.2 4 4.8 4.6 8.5 -49.3 0 18.7-11.9 6-2.8 4-1.1z"/>
<path fill="#a8ff57" d="M395 57l5-1.1 4 0.3 4 1.9 2.8 2.9 1.9 4 1.3 6 0.1 6 -1.4 6 -1.9 4 -2.6 4 -6.2 5.6 -6 3.8 -14.2 6.6 -5.8 4.8 -2.2 3.2 -1.5 4 -1.2 12 -0.9 4 -2.2 6 -4 8 -4.8 6 -12.1 8 -5.3 6 -0.9 4 0.3 2 3.5 8 -0.3 4 -1 2 -5.8 6 -2.8 4 -2.9 16 -1.6 6 -6.3 14.4 -4 7.4 -9.3 12.2 -4.5 4 -14.2 4.1 -20 11 -11.6 2.9 -4.2 2 -2.2 2.5 -7.1 11.5 -4.9 6 -11.2 10 -8.8 5.2 -8 2.3 -6-0.1 -4-1.5 -4.1-3.9 -1.9-4.1 -0.8-5.9 1.4-12 -0.5-8 1.4-4 1.5-2 2.9-2 12.8-6 5.8-4 7.5-4.1 8-5.5 10-3.6 12-5.8 0.9-1 0.9-2 0.1-2 -2.1-8 0-4 3.8-14 8-14 4.4-5 1.8-3 4.2-3.1 0.8-2.9 1.8-2 3.8-6 1.6-4 1.3-12 3-10 4.9-12 5.7-10 4.4-10 8.7-10.2 4-2.6 10-4.1 6-4.2 2.4-2.9 5.5-10 4-4 2.1-1.1 6-1.5 8-3.5 8-1 4-1.1 5-3.8 7-8.8 4-2.8zM144.4 347l3.6-1.4 4-0.2 4 0.5 4 1.5 4 2.7 3.1 2.9 5.4 8 8.8 18 -0.7 14 1.1 4 4.3 10 1.4 12 0 6 -2.8 22 -3.7 14 -1 6 0.4 6 2.7 10 -0.4 4 -0.6 2 -3.5 4 -18.5 11.7 -28 20.1 -4 1.2 -4 0.5 0-65.3 7.5-16.2 3.4-6 5.1-5.9 9.7-8.1 3-4 2.4-6 3.2-14 -0.6-4 -4.2-8 -12.1-14 -4-8 -0.8-6 1-6 2.4-4.2 4-3.6zM592.4 353l1.6-1.1 2 0.2 2 1.3 2 2.9 1.6 6.7 -1.6 10 -2-0.5 -2-2 -2-3.6 -2.1-7.9 0.1-5.3zM457.3 413l2.7-1.2 4 0.4 12 6.1 14 4.9 7.5 3.8 2.5 2.3 2.1 3.7 0 4 -2.1 3.2 -2 1.4 -3.8 1.4 -6.2 0.7 -8-0.2 -4-1.9 -16.2-12.6 -3.7-4 -1-2 -0.8-4 0.3-2 1.4-2.7zM536.7 509l9.3-0.6 8 1.6 8.6 3 25.4 11.1 18 10 26 17 18 7.9 9.9 6 -228.9 0 4.8-14 2.3-4 3.2-4 18.7-14 10.1-6 7.9-3.5 8-2.2 28-3.7 22-4.5zM366.4 551l5.6-0.8 4 0.8 2 1 4 3.8 5 9.2 -44.2 0 14.7-10 8.5-3.9z"/>
<path fill="#b8ff47" d="M396.4 59l3.6-0.6 4 0.4 3.9 2.2 1.6 2 1.7 4 1 6 -0.2 4.7 -1.4 5.3 -2 4 -2.6 3.5 -6 5.3 -6 3.5 -10.5 3.7 -5.5 2.6 -4.5 3.4 -3 4 -1.6 6 -0.7 14 -2.2 8 -3.5 8 -4.5 5.7 -10.5 6.3 -5 4 -2 2 -2.3 4 -0.6 4 2.5 6 0.5 2 -0.4 2 -2.2 2.6 -4.5 3.4 -2.3 4 -0.2 14 -1.7 10 -2.3 6 -7.2 14 -3.8 4.7 -6.7 5.3 -5.3 6.5 -3.5 1.5 -13.9 4 -9 4 -7.6 4.9 -4 1.3 -10.3 1.8 -3.7 1.5 -2.2 2.5 -3.4 10 -1.9 4 -4.5 6 -12 10.6 -5.7 3.4 -4.3 1.5 -6 0.5 -4-1 -4-2.8 -2-2.9 -1.2-5.3 0.5-4 2.1-8 -0.7-8 0.2-2 1.1-2 2.4-2 11.6-5.6 12-6.8 5.9-5.6 2.1-1.2 16-6.5 6-1.1 2-1.2 1.5-2 0.4-4 -3.7-10 -0.1-2 4.5-16 8.2-14 3.2-3.4 2-3.2 4-2.9 2-3.9 4-4.6 2-3.4 1.3-4.6 1-12 3.1-10 4-10 6.7-12 3-8 1.3-2 5.6-6.6 4-3.7 14-6.4 4.6-3.3 3.1-4 5-10 3.3-3.4 2-1.1 6.2-1.5 7.8-2.9 10-1 4-1.4 4-2.9 8-9.5 4-2.2zM149.9 347l6.1 0.6 6 2.9 4.6 4.5 4.7 8 3.4 8 1.7 8 -0.4 6 -2.1 8 0.3 4 1.2 2 6.6 7.3 2.4 6.7 1.5 10 -0.7 10 -2.3 16 -3.3 12 -1.1 6 0.1 6 1.7 8 0.1 4 -1.5 4 -1.6 2 -7.5 6 -9.8 6.3 -26 18.6 -4 2.1 -4 0.8 -2 0.2 0-61.5 2.5-4.5 5.9-14 3.4-6 4.2-5.1 8.7-6.9 5.3-6 2.1-4 5.2-14 -0.2-4 -2.2-4 -5.9-8 -10.9-12 -3.8-8 -0.7-6 0.4-4 0.8-2 3.2-4.5 4-2.7 2-0.6zM595.9 355l2.1 1.2 2.4 4.8 -0.4 4.5 -2 2.5 -2-1.3 -1.7-3.7 -0.7-4 0.4-2.8zM459.8 415l2.2-0.5 2.6 0.5 11.4 5.6 13.1 4.4 4.9 2.2 4 3.2 1.3 2.6 0.1 2 -0.5 2 -1.6 2 -3.7 2 -5.6 1 -6 0 -4-1.2 -5.2-3.8 -13.5-12 -2-4 -0.1-2 0.8-2.3zM533.9 511l10.1-1.4 8 1.1 8 2.8 26 11.1 20 11.1 26 17.3 16 7.3 8 4.7 -223 0 3.9-12 2-4 3.1-4.3 4.1-3.7 13.9-10.1 12-7.2 6-2.6 8-2.1 28-3.4 18-4.2zM364.9 553l7.1-1.4 4.9 1.4 4.3 4 4.3 8 -39.8 0 11.3-8 7-3.6z"/>
<path fill="#c9ff37" d="M394.1 63l3.9-1.6 4-0.1 4 1.7 1.7 2 1.5 4 0.8 6 -0.5 4 -1.5 4.5 -3.5 5.5 -6.6 6 -5.9 3 -10.9 3 -4.9 2 -5.8 4 -2.4 2.6 -1.9 5.4 -0.1 14 -0.5 6 -2.1 8 -2.4 6 -3 4.2 -12.8 7.8 -7.1 6 -3.8 6 -2.1 8 -4.2 7.8 -0.9 6.2 2 10 0.1 6 -1.4 8 -2.4 6 -6.5 12 -2.9 3.7 -4 3 -5.9 3.3 -6.5 6 -5.6 2.5 -12 3.1 -4 0.4 -4-0.9 -4-3.1 -1.3-2 -1-10 -5.7-8.7 -1.2-3.3 -0.1-2 4.9-16 4.4-8 8-11 2-2 2.1-1 1.9-3.7 6.1-6.3 1.2-2 1.3-6 0.1-8 1.7-8 6-16 6.9-12 2.9-8 5.8-7 5.6-5 12.4-5.3 6-4.1 3.1-4.6 3.2-8 3.7-4.6 4-2 12-3.1 10-0.7 5.5-1.6 4.5-3.1 8-8.8zM248.5 255l5.5-0.8 4 0.7 4.2 2.1 1.4 2 0.5 2 -0.4 2 -1.3 2 -2.2 2 -4.2 1.7 -12 2 -4-1.2 -1.9-2.5 -0.7-4 0.4-2 1.4-2 3.4-2 5.4-1.9zM225.3 271l2.7-0.1 4 1 8 5 2 4.3 0.1 5.8 -3 6 -6 6 -7.1 6.1 -4 2.3 -4 1.3 -4 0.2 -4.9-1.9 -2-2 -1.1-2 -0.3-4 2.5-10 0.7-8 0.9-2 5.6-4 8.6-3.7zM147.2 349l4.8-0.5 4 0.7 6 3.2 4.1 4.6 5 10 1.6 8 -0.2 6 -0.9 4 -2 4 -3.6 3.5 -2 1.2 -2 0 -4-2.4 -13.6-14.3 -4.6-8 -1.3-6 0.7-6 2.2-4 4.6-3.6zM597.2 361l0.8-0.4 0.2 0.4 -0.4 2zM164.8 409l7.2-1.7 4 0.6 2 1.1 2 2 2 3.7 1.8 6.3 0.2 8 -1.7 16 -5.3 22 -0.2 6 1 8 -0.3 4 -1.5 3.3 -2.1 2.7 -6.6 6 -31.3 21.9 -6 3.4 -6 1 0-57.9 2-2.4 7.4-18 3.2-6 5.3-6 8.1-6 4-4 2.9-4 3.1-5.7 2-2.7 2-1.4zM461.9 419l3.1 0 7 3.2 15.6 4.8 4.4 2 2.8 2 1.2 2 -0.1 2 -1.9 2.6 -4 1.8 -6 0.6 -4-0.8 -3.6-2.2 -4.3-4 -8-8 -2.5-4zM542.8 511l5.2 0.1 6.7 1.9 33.3 14 18 10.4 26 17.4 20.3 10.2 -217.1 0 3.8-12 2.2-4 3.1-4 15.7-12.1 14-8.5 6-2.3 8-1.7 30-3.3 16-4.4 8-1.6zM363.9 555l6.1-1.8 4 0.2 2 0.7 4 3.6 3.9 7.3 -35.1 0 8.1-6 5.1-3.1z"/>
<path fill="#d9ff27" d="M398.6 65l3.4 0.1 2 1.2 2 2.6 0.7 2.1 0.4 6 -0.9 4 -1.9 4 -4.8 6 -5.5 3.9 -4 1.5 -10 2 -4 1.3 -5.7 3.3 -5.2 4 -1.5 2 -0.9 4 0.9 14 -0.5 8 -1.5 8 -2.1 6 -3.1 4 -10.7 6 -7.8 6 -5.4 6 -2.5 4 -4.5 10 -1.3 6 0.2 4 3.2 12 0 6 -0.7 4 -2 6 -6.5 12 -4.4 5.2 -9 4.8 -9 6.8 -6 2.3 -6 1.4 -6-0.3 -4-2.4 -2.3-3.8 -1.7-7.1 -8-9 -0.7-3.9 5.3-16 4.5-8 6.9-9.5 2-2.1 2-1 1.3-1.4 0.7-2.2 8.1-7.8 1.2-2 0.6-4 -0.1-10 1.7-8 6-16 7-12 2.8-8 6.7-7.5 4-3.3 14-6.1 4.8-3.1 2.9-4 3.4-10 2.9-3.9 2-1.3 14-3.4 12-0.6 4-0.9 4-1.9 8-7.7 4-2.2zM250 261l3.1 0 0.9 0.5 0.9 1.5 -0.9 1 -2 0.6 -2.9-1.6zM221.2 281l2.8-1.2 6 0.6 4 1.9 2.5 2.7 0.4 2 -0.9 2.6 -2.9 3.4 -7.1 6.2 -6 3.9 -4-0.1 -2.4-2 -0.6-4 0.5-2 6.5-13zM146 351l2-0.8 4-0.3 6 1.5 4.7 3.6 4 6 3.2 8 0.4 6 -0.8 6 -1.2 4 -2.3 3.2 -2 1.5 -2 0.6 -2-0.2 -4-2.4 -9.1-8.7 -4.4-6 -2.5-6 -0.6-4 0.3-4 1.8-4 2.5-2.8zM167.1 413l2.9-0.5 4 0.2 4 2.3 2.6 4 1.5 6 0 8 -0.9 10 -1.2 6.8 -4.5 17.2 -0.5 14 -0.7 4 -3.5 6 -6.3 6 -16.3 12 -12.2 8.2 -4 2.4 -4 1.4 -4 0.5 0-53.7 3.5-4.8 6.8-18 4.6-8 4-4 10.8-8 8.3-9.4 4-2.3zM477.2 431l0.8-1.2 2-0.6 2 0.1 5.6 1.7 2.1 2 -0.4 2 -3.3 1.4 -2 0.1 -4-1.4 -2-2.1zM540 513l6-0.7 4.1 0.7 37.9 15.5 20 11.8 24 16.4 16.2 8.3 -210.6 0 2.8-10 2.1-4 3.5-4.8 14-11.1 16-9.8 6-1.9 8-1.4 20-1.4 8-1 22-6.6zM368.7 555l3.3-0.4 4 1.3 3.1 3.1 3.2 6 -30.4 0 8.1-6.1 8-3.7z"/>
<path fill="#e9ff16" d="M397.4 71l2.6-0.2 2 1.4 1.2 4.8 -0.8 4 -1.8 4 -4.6 5.6 -3.3 2.4 -2.7 0.9 -14 2.6 -14 8 -2.7 2.5 -0.5 4 1.9 10 0.6 8 -1.2 12 -2.1 7.4 -2 3 -14 8.5 -10.4 9.1 -3.6 4.4 -5.5 11.6 -0.5 4 0.5 6 2.8 8 1 6 -0.6 8 -2.1 6 -6.8 12 -2.8 3.2 -4 2.8 -4.7 2 -9.3 6.3 -4 2 -6 1.7 -4 0.3 -4-0.9 -2-1.3 -2.8-4.1 -1.2-4.6 -2-4.1 -2-2.1 -4-2.3 -2-2.5 -0.1-2.4 4.7-12 1-4 7.3-12 3.1-4.1 6-5.3 1.5-2.6 8.7-8 1.1-4 -0.6-10 1.3-8 5.7-16 2.3-4.8 5.7-9.2 2.3-7.2 6-6.6 5.2-4.2 14.8-6.2 5.5-3.8 2-4 2.4-10 1.2-2 2.9-2.6 4-1.3 12-1.9 10 0.3 6-0.7 6-2.6 6-4.6zM145.2 353l4.8-1.8 6 0.8 4 2.2 4.1 4.8 3.6 8 0.9 6 -2 10 -2.6 3.5 -2 1.2 -2 0.2 -4-1.7 -6-4.8 -5.5-6.4 -3-6 -1.1-6 0.3-4 3.3-5.1zM166.6 417l5.4-0.3 4 1.7 2 2.3 1.1 2.3 1.2 6 0 8 -0.8 8 -5.1 20 -1.8 14 -1.5 6 -3.3 6 -6.2 6 -15.8 12 -11.8 7.6 -6 2.5 -4 0.4 0-49.5 4.8-7 6.5-18 4.5-8 4.1-4 9.1-6 9-7.8 4-2.1zM539.4 515l6.6-1.1 4 0.8 18 7.7 18 6.5 7.7 4.1 12.3 7.6 26 18 11.7 6.4 -203.8 0 3.2-10 2.9-5 2.6-3 9.4-8.1 18.7-11.9 7-2 8.3-1.2 18-0.7 10-1.3 6-1.7 12-4.7zM367.9 557l4.1-0.7 2.7 0.7 3.3 3.3 2.5 4.7 -25.6 0 5.3-4 5.8-3.3z"/>
<path fill="#f9ff06" d="M362.5 81l9.5-0.6 12 1.6 8-0.7 2 0.4 0.9 1.3 -0.2 2 -2.6 4 -2.1 1.3 -14 3.2 -8 4.7 -11.7 4.8 -1.9 2 -0.1 4 3.4 10 1.3 8 -0.2 6 -1.5 12 -1.3 3.5 -2 2.5 -12 7.3 -12.8 10.7 -3.2 3.9 -4.3 8.1 -1.5 4 -0.1 6 1.3 6 3.1 8 0.7 6 -0.7 6 -2.1 6 -6.4 11 -4 4.3 -9.1 4.7 -8.9 5.5 -8 2.7 -6-0.3 -3.3-1.9 -2.5-4 -4.2-10.9 -6-1.9 -1-1.2 0-2 3.4-8 2.3-8 4.7-8 5.9-8 2.8-2 3.9-5.1 10.2-8.9 0.6-4 -0.9-12 1.1-6 5.7-16 1.9-4 6.2-10 1.8-6 1.3-2 6.1-5.9 4-3 18.1-7.1 3.5-2 1.6-2 0.5-10 1.1-4 1.1-2 2.1-1.9 2-0.9 8-1.1zM148.2 353l3.8-0.5 2 0.2 4 1.7 4.7 4.6 2.9 6 1.5 6 -1.2 8 -1.9 4.4 -2 1.9 -2 0.6 -4-1 -6-4.4 -4.7-5.5 -2.9-6 -0.9-4 0.4-6 2.1-3.3 4-2.6zM164.5 421l5.5-0.8 4 1.5 2 1.9 1.6 3.4 1.1 6 0 6 -1 8 -4.9 18 -2.2 12 -1.8 6 -1.6 4 -2.3 4 -6 6 -12.9 10.1 -12 7.5 -4 1.8 -6 0.8 0-45 5.2-7.2 7-20 4.4-8 3.4-3.2 20-12.7zM539.7 517l6.3-1.1 4 0.7 16 6.8 14 4.5 6 2.4 20 11.9 24 17 9.8 5.8 -196.9 0 3.1-9.1 3.1-4.9 3.5-4 7.4-6.6 18-11.5 6-1.6 10-1.5 18-0.2 8-1.1 8-2.3 10-4.6zM368.2 559l3.8-0.6 2 0.5 2.1 2.1 2.3 4 -20.2 0 5.7-4 4.1-2z"/>
<path fill="#fff500" d="M353.4 83l2.6-0.7 12-0.7 6 0.4 3 1 2.9 2 0.9 2 -1.4 2 -13.4 7.5 -4 1.2 -8 0.9 -2-0.4 -1.1-1.2 -0.9-1.1 -0.9-2.9 0-4 0.5-2 2.4-3.1zM336.1 109l7.9-1.7 4 0.5 2 1.7 3.5 5.5 2.3 6 1 6 -0.1 6 -1.5 12 -1.2 2.9 -2 2.2 -10 6.6 -15.1 12.3 -2.8 4 -5.5 10 -0.5 2 0.1 4 1.9 8 3.2 8 0.7 8 -0.6 4 -1.2 4 -6.8 12 -3.4 3.9 -2 1.5 -18 9.3 -4 1.4 -6 0.5 -4-1.7 -2-2.3 -1.2-2.6 -3.6-12 -1.2-1.3 -2-0.3 -2 0.5 -0.8-0.9 4.5-16 6.1-10 4.2-5.3 3.3-2.7 3-4 3.7-3.4 6.5-4.6 1.4-2 0.4-4 -1.5-10 1.2-8 5.7-16 8.2-14 2.1-6 4-4.3 6-4.9 5.7-2.8 6.3-2zM146.9 355l5.1-1.2 4 0.9 3.4 2.3 3.1 4 2.5 6 0.6 6 -1.3 6 -2.4 4 -1.9 1 -2 0.2 -4-1.5 -4-3 -4-5 -2.7-5.7 -0.9-4 0.8-6 2.8-3.4zM160.9 425l5.1-1.6 4 0.3 2 0.8 2.6 2.5 1.4 2.8 0.7 3.2 0.4 6 -0.9 8 -7.8 30 -5 12 -5 6 -12.1 10 -14.3 8.4 -4 1.1 -4 0.2 0-40.4 4.3-5.3 2.5-4 6.4-20 4.3-8 4.5-3.7 14-7.9zM541 519l5-0.9 4 0.6 14 5.8 14 4.1 8 3.2 6 3.2 15.9 10 20.1 14.6 8.2 5.4 -189.4 0 1.6-4 3.3-6 7.7-10 2.6-2.1 10-5.3 8-5.9 4-1.4 8-1.6 20-0.4 10-1.5 6-1.6 12-5.9zM365.2 563l4.8-1.8 2 0.1 2 1.2 1.9 2.5 -14 0 2.1-1.3z"/>
<path fill="#ffe500" d="M355.4 83l16 0 2.6 0.8 1.8 1.2 0.5 2 -1.4 2 -6.9 4.3 -4 1.5 -8 0.5 -2-0.1 -2-0.9 -1.8-3.3 -0.2-2 1.7-4 2.3-1.6zM335.1 111l6.9-0.9 4 0.8 2.8 2.1 2.9 4 1.7 4 1.2 6 -0.5 12 -1.1 6 -2.6 4 -8.4 6 -17.1 14 -8.5 14 -0.3 2 0.4 4 1.7 6 3.9 10 0.8 4 0.1 4 -0.6 4 -1.2 4 -7 12 -2.2 2.6 -4 2.8 -16 7.8 -4 1.4 -4 0.5 -4-0.8 -2-1.3 -1.9-3 -3.3-12 -4.2-6 -0.1-2 1.6-8 4.2-8 5.7-8 4.6-4 3.2-4 4.2-3.7 6.3-4.3 1.2-2 0.3-4 -2-10 1.2-8 5.7-16 7.3-12 3.8-8 4.2-4.1 5-3.9 3.8-2 5.2-1.7zM146.3 357l3.7-1.8 4 0.1 4 2 3.1 3.7 2.6 6 0.7 4 -0.9 6 -2 4 -1.5 1.2 -2 0.6 -4-1.1 -3.7-2.7 -3.2-4 -2.9-6 -0.8-4 0.4-4 2.2-3.7zM161 427l5-1 4 0.9 2 1.4 1.9 2.7 1.2 4 0.3 6 -0.8 6 -7.5 28 -5.3 12 -6.1 8 -4.2 4 -5.5 4.1 -14 7.9 -4 0.9 -4-0.1 0-35.2 6.1-7.6 1.9-3.4 6.2-20.6 3.8-7.4 4-3.4 14-6.9zM543.4 521l4.6-0.2 4 0.9 12 4.7 14 3.6 8 3.2 22.5 13.8 24.5 18 -179.4 0 7.5-8 2.7-6 1.6-2 2.6-1.7 9.4-4.3 4.2-6 4.4-3.1 8-2.1 18-0.6 12-2.1 6-1.9 8-4.3 4-1.6z"/>
<path fill="#ffd500" d="M352.7 85l3.3-1.5 2 0 14 1.5 1.1 2 -2.1 2 -5 2.8 -6 1.3 -6-0.3 -2-1.3 -0.8-2.5 0.8-3zM334.1 113l5.9-0.7 4 0.8 3 1.9 3 3.9 1.6 4.1 1 6 -0.3 8 -1 6 -2 4 -1.9 2 -23.4 19.2 -4.1 6.8 -5.8 8 0.2 4 6.8 18 0.9 6 -1.1 8 -1.7 4 -4.8 8 -3.1 4 -3.3 2.5 -14 6.5 -6 2.1 -6 0.3 -2-0.7 -2.6-2.7 -3.4-12 -3.3-6 -0.5-2 1-8 4.2-8 4.6-6.6 11.3-11.4 6.7-4.4 2-1.6 1.4-2 -0.1-4 -2.3-8 -0.2-4 0.6-4 6.2-18 7.7-12 2.7-5.4 2-2.8 7-5.8 3.4-2 5.6-2zM148.9 357l3.1-0.7 4 1.1 3.7 3.6 2.1 4 1.3 6 -0.4 4 -1.6 4 -2.3 2 -2.8 0.4 -4-1.8 -4-4.5 -2.1-4.1 -1.2-4 -0.1-4 1.4-3.8 2-1.8zM160.7 429l5.3-0.5 4 1.7 2.2 2.8 1.4 6 0 4 -1 6 -7.3 26 -6.1 12 -8.2 10 -9 6.4 -8 4 -4 1.2 -6-0.2 0-29.1 8.8-12.3 5.8-20 3.4-8.1 2-2.4 2-1.5 14-5.8zM539.6 525l4.4-1.4 6 0 14 4.5 14 3.3 6 2.3 6.4 3.3 17.6 11.2 22.1 16.8 -165.8 0 17.3-14 2.4-3.5 3.3-6.5 1.8-2 2.9-1.9 6-1.6 14-1.3 10-1.9 8-2.5 8-4.1z"/>
<path fill="#ffc500" d="M353.8 85l2.2-0.7 4.7 0.7 4 2 0 2 -3.9 2 -4.8 0.4 -2-0.4 -1.6-2 0-2zM333.6 115l4.4-0.6 4.1 0.6 3.9 2.5 2.5 3.5 1.4 4 0.6 4 -0.3 8 -1.3 6 -0.9 2 -3.4 4 -12.6 11.6 -8.4 6.4 -5.2 8 -6 6 -1 2 0.3 2 7.7 18 1.6 6 -0.4 8 -2.4 6 -4.8 8 -3.4 4.1 -4 2.5 -16 6.6 -4 0.9 -4-0.2 -2-0.9 -2-2.5 -3-10.5 -3.3-8 0.1-6 0.6-2 4.1-8 4.1-6 11.4-11.5 10.4-6.5 1.4-2 0-2 -3.2-8 -0.8-6 1.1-6 5.1-14.7 2.9-5.3 9.4-14 7.7-6.6 6-2.9zM148.1 359l1.9-1 4-0.1 2.2 1.1 3.3 4 1.7 4 0.6 4 -0.4 4 -2.3 4 -3.1 1.1 -2-0.4 -3.6-2.7 -2.6-4 -1.7-4 -0.5-4 0.4-2.9 2-3zM159.9 431l4.1-0.3 4 1.3 2.6 3 1.2 4 0 4 -0.9 6 -3 12 -3.9 12.7 -4.8 9.3 -9.2 12.1 -8 5.8 -10 3.9 -4 0.3 -4-1.2 0-21.5 1.8-3.4 8.4-12 2.2-10 3.9-12 2.6-6 1.7-2 3.4-2 10-3.5zM541.6 527l4.4-0.9 6 0.3 12 3.4 12 2.5 8 2.8 7.2 3.9 16.8 10.8 19.4 15.2 -149.4 0 8-5.4 4-3.5 1.9-3.1 2.6-8 1.4-2 2.1-1.4 6-2 22-5.9 14-6.1z"/>
<path fill="#ffb600" d="M356 85l4.2 2 -0.6 2 -3.6 0.8 -2-0.7 -0.5-2.1 0.5-0.7zM333.7 117l4.3-0.4 4 1 2.1 1.4 2.8 4 1.2 4 0.2 6 -0.6 6 -1.2 4 -2.5 4 -9.6 10 -12.2 10 -3.7 6 -2.5 2.9 -6 3.6 -2 0.1 -2-1.4 -2-2.6 -2.3-4.6 -0.9-4 0.5-6 4.6-14 4-8 10.1-13.3 6-5 6-3.2zM302.3 185l3.7-1.2 2 0.5 4 5.1 5.5 11.6 2.3 6 0.5 4 -0.6 6 -2.4 6 -4.8 8 -2.5 3 -6 3.8 -14 5.2 -6 0.7 -2.7-0.7 -2.1-2 -6.2-18 -0.1-6 3.4-8 5.5-8 12.2-12 8-3.9zM151.9 359l2.1 0.3 2.6 1.7 2.5 4 1.2 4 -0.3 6 -2 3 -2 0.9 -2-0.3 -2.4-1.6 -2.7-4 -1.6-4 -0.5-4 0.3-2 1-2 1.9-1.5zM159 433l3-0.2 4 0.9 2 1.6 1 1.7 1 4 -0.8 8 -2.7 12 -3.2 10 -2.5 6 -2.5 4 -10.3 12.8 -6 4.2 -4 1.7 -4 1 -4 0 -2-1.4 -2-2.7 -1.6-5.6 0.2-4 1-4 1.9-4 6.5-9.2 1.3-2.8 2.2-10 4.5-14 2-4 2-1.9 2-1 10-2.9zM544 529l4-0.5 6 0.5 22 4.7 8 2.8 6 3.3 17.4 11.2 17.4 14 -134.5 0 7.2-6 6.5-11.3 4-3.7 5.8-3 28.2-11.5z"/>
<path fill="#ffa600" d="M355.7 87l0.9 0 -0.6 0.4zM335.1 119l3.4 0 3.5 1.5 2 2.3 1.1 2.2 0.9 4 0 6 -0.6 4 -1.4 4 -2.4 4 -6.9 8 -4 4 -8.7 7 -6 8.2 -4 2.5 -2 0.3 -2-0.3 -2.4-1.7 -2.7-4 -1.1-4 0.4-6 5.4-16 3.5-6 8.9-10.9 8-6.3 6-2.6zM300.1 187l3.9-1 2 0.2 2 0.9 3.5 3.9 6.8 14 1 4 0 6 -1.9 6 -7.4 12 -2.4 2 -3.6 2 -14 4.9 -6 0.3 -2-0.6 -2-2.1 -5.2-14.5 -0.9-4 0.1-4 3.4-8 4.6-6.9 10.7-11.1 3.3-2.3 4-1.7zM150.6 361l1.4-0.5 2.4 0.5 2.1 2 1.5 2.8 0.9 3.2 0 4 -0.9 2.5 -1.5 1.5 -3 0 -2.1-2 -2.2-4 -1.1-6 0.6-2 1.3-1.6zM157.5 435l4.5 0 2 0.5 2.1 1.5 1.7 4 0.2 4 -0.5 4 -2 10 -3 10 -2.5 6 -2 3.4 -10.7 12.6 -5.3 4 -6 1.7 -4-0.3 -2-1.1 -1.8-2.3 -1.3-4 0.7-6 1.7-4 6.7-11 1.9-9 6.2-18 1.9-2.5 2-1.2 8-2.1zM546.5 531l7.5 0 18 3.3 6 1.4 6 2.3 22 13.7 7.1 5.3 9.3 8 -124 0 4.2-4 8.6-12 4.2-4 6.8-4 15.8-7.5 8-2.4z"/>
<path fill="#ff9600" d="M330.5 123l3.5-1.2 4-0.1 2 0.8 2 2.3 1.4 4.2 0.2 4 -1.2 8 -3 6 -6.2 8 -3.9 4 -7.3 5.8 -4.4 6.2 -3.6 3.2 -4 1.1 -2-0.5 -2-1.4 -1.8-2.4 -0.9-2 -0.6-4 1.1-6 4.2-12.8 4-6.8 10-10.7 8-5.5zM297.3 189l2.7-1 4-0.5 2 0.3 2 1.2 2 2 2.6 4 4 8 1.9 6 0 6 -1.1 4 -1.9 4 -5.5 8.9 -2 2 -4 2.3 -12 4.1 -4 0.7 -4-0.3 -2-1.1 -2-3 -4.7-13.6 -0.2-6 2.3-6 3.5-6 10.9-12 4.2-3.4zM151.2 363l0.8-0.5 2 0.2 2 2.5 1.2 5.8 -1.2 3.7 -2 0.5 -2-1.9 -1.9-4.3 -0.1-4.3zM155.5 437l4.5 0 2 0.5 2.1 1.5 1.7 4 0.2 4 -1.2 8 -2.5 10 -3 8 -3.3 5.4 -12 12.1 -6 2.9 -4-0.3 -2.9-2.1 -1.7-4 0.2-4 1.5-4 5.5-10 2.4-10 6.6-18 2.4-2.2 6-1.6zM549 533l7 0.3 14 2.2 8 1.7 5 1.8 22.6 14 14.4 12 -115.1 0 7.1-8 5.7-8 4.3-4 6-4 10-5 6-2.2 4-0.7z"/>
<path fill="#ff8600" d="M333.8 125l2.2-0.1 2 0.8 2.1 3.3 0.6 8 -0.8 4 -1.5 4 -3.6 6 -4.9 6 -9.2 8 -4.7 6.4 -4 2.2 -2 0.1 -2.1-0.7 -2.2-2 -1.8-4 0.3-6 4.4-14 3.4-6 6-6.4 6-5 8-4.2zM299.8 189l4.2-0.3 2 0.6 4 3.4 6.5 12.3 1.1 4 0.3 4 -0.6 4 -1.5 4 -5.9 10 -1.9 2 -3.1 2 -8.9 3.4 -8 1.5 -4-0.8 -2-1.6 -2-3.5 -3.2-9 -0.8-6 0.1-2 1.4-4 4.5-8.2 12-13 4-2.3zM153.6 439l4.4 0 2 0.6 2 1.3 1.3 2.1 0.7 4 -0.2 4 -2.3 12 -2.9 8 -3.4 6 -11.2 10.4 -2 1.4 -4 1.2 -3.7-1 -1.8-2 -0.7-2 0.4-4 5.2-12 1.9-8 4.4-10 2.3-7.6 2-2.6 4-1.6zM551.6 535l18.4 2 8 1.7 4 1.4 21.2 12.9 7.7 6 6.7 6 -107.6 0 4-4.2 9-11.8 5-4.5 5.3-3.5 6.7-3.4 4-1.5 6-1z"/>
<path fill="#ff7600" d="M326 131l6-2 2 0.2 2 1.3 1.6 4.5 0.1 4 -0.7 4 -2.6 6 -4.1 6 -8.7 8 -5.6 7 -2 1.6 -2 0.7 -2-0.1 -2-0.8 -2-2.1 -1.2-4.3 0.9-6 3-10 3.1-6 4.2-4.8 8-6.1zM296.5 191l5.5-1.4 4 0.9 2 1.5 2.4 3 3.4 6 3.1 8 0 6 -1.9 6 -5.9 10 -5.1 3.7 -10 3.3 -4 0.7 -4-0.3 -2-0.9 -2.3-2.5 -2.6-6 -1.8-6 -0.1-6 2.2-6 2.2-4 12.1-14 2.3-1.7zM153.8 441l4.2 0.6 2 1.3 1.3 2.1 0.7 4 -0.1 4 -2 10 -2.8 8 -3.1 5.2 -10 8.2 -4 1.8 -2 0 -2.4-1.2 -1-2 0.4-4 3-9 2-8.3 4.4-8.7 2.9-8 1.4-2 3.3-1.8zM542.7 539l5.3-1.5 8-0.4 14 1.5 10 2.3 4.4 2.1 17.6 10.9 13.3 11.1 -100.4 0 11.1-14 3.8-4 5.3-4 6.9-3.7z"/>
<path fill="#ff6600" d="M323.3 135l4.7-1.7 4 0.3 1.5 1.4 1 2 0.4 4 -0.6 4 -2.6 6 -2.7 4 -9 8.4 -4 5.2 -2 1.7 -2 0.6 -2-0.1 -2.5-1.8 -1.6-4 0.8-6 2.8-10 2.5-4.7 4-4.4 6-4.2zM298.5 191l3.5-0.5 2 0.4 2 0.9 3.3 3.2 5.5 10 1.3 4 0.3 4 -0.7 4 -1.5 4 -6 10 -4.2 3 -8 2.7 -4 0.8 -4 0.1 -4-1.7 -2-2.4 -2-4.5 -1.7-6 -0.3-4 1.5-6 4.5-7.9 10-11.4 4-2.6zM150 445l2-1.2 4 0.1 2 1.2 1.9 3.9 0.1 6 -1.1 6 -2.6 8 -2.3 4.8 -4 4.2 -4 2.7 -4 1.7 -2 0.1 -2-1.2 -0.6-2.3 0.3-4 2.8-12 1.5-3.5 4.1-6.5 2.5-6zM544 541l6-1.6 10-0.2 12 1.5 8 2 21 12.3 11.8 10 -93.4 0 13-16 4.7-4 6.9-4z"/>
<path fill="#ff5500" d="M324.2 137l3.8-0.4 2 0.7 1.5 1.7 0.9 4 -1.3 6 -2.1 4 -3 3.7 -6.9 6.3 -5.1 6 -2 0.6 -2.3-0.6 -1.7-1.7 -0.7-2.3 0.4-6 2.3-8.9 2-4.1 4-4.5 4-2.8 4-1.7zM295.8 193l2.2-1.1 4-0.5 4 1.6 4 4.5 4.7 9.5 0.9 6 -0.7 4 -4.6 10 -3 4 -3.3 2.3 -4 1.5 -6 1.6 -4 0.3 -4-0.9 -2-1.4 -3.1-5.4 -1.9-8 0.2-4 1.3-4 3.5-6.5 10-11.9zM153.4 447l2.6 0.8 0.9 1.2 1.1 3.7 -0.2 4.3 -1.7 8 -2.1 6 -2 3.2 -4 3.4 -4 1.8 -2 0.2 -1.2-0.6 -1.4-2 -0.1-4 1.5-8 1.2-3.3 2-3.2 2.7-3.5 3.3-5.8 2-1.9zM545.8 543l6.2-1.4 10-0.4 8 1 8 1.8 4 1.7 16.2 9.3 5.5 4 6.6 6 -86.8 0 11.5-14 4.3-4 4.7-3.1z"/>
<path fill="#ff4500" d="M319.2 141l4.8-1.6 2 0.1 2 0.8 1.8 2.7 0.1 4 -1.2 4 -2.5 4 -8.5 8 -3.7 4.5 -2 0.5 -2.2-1 -1-2 -0.3-2 0.4-4 1.1-6 2-5.2 2-2.8 4-3.4zM297.2 193l2.8-0.8 2 0.1 2.2 0.7 2.7 2 3.1 4 2.2 4 1.7 4 0.9 4 -0.7 6 -2.4 6 -3.7 6.4 -4 3.1 -4 1.6 -6 1.4 -6-0.1 -2-0.8 -2-1.8 -2-3.4 -1.5-4.4 -0.6-4 0.3-4 2.1-6 2.5-4 11.2-13.4zM150.9 453l1.1-1.2 2-0.2 0.9 1.4 0.5 4 -0.6 6 -1.6 6 -1.2 2.8 -2 2.5 -2 1.6 -4 1.3 -2-0.5 -1-1.7 -0.3-2 0.4-6 0.9-3 2-3.4 6-6.7zM548.5 545l5.5-1.2 8-0.5 8 0.9 8 2 20 10.6 9.7 8.2 -80.2 0 12-14 4.5-3.7 4-2.1z"/>
<path fill="#ff3500" d="M318.8 143l3.2-1.1 2 0 2 0.8 1.6 2.3 0.1 4 -1.5 4 -1.5 2 -10.7 10.2 -2 0.5 -1.8-2.7 -0.1-4 0.8-6 1.1-3.2 1.8-2.8 4.2-3.6zM295.3 195l2.7-1.6 2-0.4 4 0.9 2 1.4 3 3.7 4 8 1 4 -0.2 4 -1.9 6 -4.4 8 -2.3 2 -3.2 1.7 -6 1.7 -4 0.5 -4-0.6 -2-1 -3.2-4.3 -1.4-4 -0.5-4 0.9-6 2.8-6 9.4-12.3zM148.3 459l1.7-0.8 2 0.6 0.7 2.2 -0.1 4 -1.8 6 -2.8 3 -2 0.9 -2 0 -1.8-1.9 -0.3-6 2.1-4.4 4-3.5zM552.2 547l5.8-1.1 6-0.2 6 0.8 6 1.5 20 9.8 9 7.2 -73.4 0 12.4-13.6 4-2.7 4-1.7z"/>
<path fill="#ff2400" d="M318.4 145l3.6-0.8 2.3 0.8 1.3 2 -0.1 4 -0.9 2 -2.6 3.1 -8 5.8 -2-1.7 -0.1-7.2 2.1-4.4 4-3.5zM296.3 195l1.7-0.9 4 0 4 2.5 4 5.6 2.8 6.8 0.5 4 -1.4 6 -3.9 8.3 -2 2.4 -2 1.3 -8 2.6 -6 0.2 -2.5-0.8 -2.4-2 -1.3-2 -1.5-4 -0.5-6 2.2-7.1 3-4.9 9-11.8zM145.7 463l2.3-1.1 2.2 1.1 0.4 2 -0.5 4 -2.1 2.9 -2 0.9 -2-0.6 -1.1-3.2 0.1-2 1-2.4zM556.9 549l9.1-0.5 10 2.2 18 8.3 8.1 6 -66.2 0 6.1-6.9 5.7-5.1 4.3-2.5 4-1.3z"/>
<path fill="#ff1400" d="M318.5 147l1.5-0.4 2.2 0.4 1.4 2 0 2 -0.8 2 -1.7 2 -5.1 3.4 -2-0.5 -0.8-2.9 0-2 0.8-2.3 2-2.2 2-1.4zM297.7 195l2.3-0.4 2 0.4 4 2.9 4.5 7.1 1.8 6 -0.1 4 -1.9 6 -2.9 6 -3.4 3.2 -8 2.6 -6 0.1 -4-2.3 -2.8-5.6 -0.4-6 1.7-6 3.5-6 8-11zM146 465l2 0.4 0.5 1.6 -0.5 2 -2 1.3 -1.6-1.3 -0.2-2zM555.2 553l4.8-1.3 4-0.3 8 1.1 20 8.1 6.8 4.4 -58.7 0 7.9-7.6 6-3.9z"/>
<path fill="#ff0400" d="M316.1 151l1.9-1.1 2 0.1 0.7 1 -0.7 2.3 -2 1.6 -2 0.3 -0.8-2.2 0.8-1.9zM295.8 197l2.2-1.4 2-0.2 3.8 1.6 3.5 4 3 6 1.1 4 -0.1 4 -1.8 6 -2.9 6 -2 2 -2.6 1.4 -6 1.5 -4 0.2 -4-1.1 -2-1.8 -1.2-2.2 -1.1-6 1.1-6 3-6 6.8-10zM562.2 555l5.6 0 4.2 0.9 18 6.6 4.6 2.5 -49.7 0 9.1-7.2 4-1.8 4-1z"/>
<path fill="#f30000" d="M297 197l3-0.7 2 0.6 2 1.5 3.5 4.6 2.6 6 0.5 4 -0.6 4 -2 5.8 -2.2 4.2 -3.8 2.6 -8 1.6 -4-0.4 -2-1 -2.2-2.8 -1.1-6 1.1-6 3.1-6 7.1-11.1zM562.3 559l3.7-0.3 6 0.8 16.5 5.5 -38.2 0 5.7-3.8 6-2.2z"/>
<path fill="#e40000" d="M296.2 199l1.8-1.6 2-0.1 3.1 1.7 3.3 4 2.6 6 0.6 4 -0.5 4 -2.1 6 -2.3 4 -4.7 2.4 -4 0.7 -4 0 -4-1.7 -1.8-3.4 -0.4-6 1.2-4 3-6 6-9.7zM564.6 563l7.4 0.2 6.8 1.8 -21.1 0 6.3-1.9z"/>
<path fill="#d50000" d="M297.6 199l2.4-0.4 3.6 2.4 2.4 3.4 2 4.7 0.6 3.9 -0.5 4 -1.9 6 -2.2 3.4 -4 2 -6 0.8 -4-0.8 -1.8-1.4 -0.9-2 -0.5-4 1.3-6 8-14z"/>
<path fill="#c50000" d="M297.7 201l2.3-0.8 2 1 3 3.8 1.7 4 0.8 4 -0.4 4 -1.1 4 -2 3.9 -2.9 2.1 -5.1 1 -4-0.3 -1.8-0.7 -1.5-2 -0.7-4 0.7-4 3.3-7.3 4.2-6.7z"/>
<path fill="#b60000" d="M298 203l2-0.7 2 1.1 2.5 3.6 1.8 6 -0.3 4 -2 5.9 -1.8 2.1 -2.2 1.1 -4 0.8 -4-0.8 -2-1.9 -0.6-3.2 0.6-4 1.6-4 2.4-4.5 4-5.5z"/>
<path fill="#a60000" d="M299.9 205l2.1 1.1 1.9 2.9 1 6 -1.4 6 -1.5 2.3 -2 1.4 -4 0.7 -2.3-0.4 -1.7-1.2 -1-2.8 1.2-6 3.1-6 2.7-3.3z"/>
<path fill="#970000" d="M297.6 209l2.4-0.9 2 1.6 0.6 1.3 0.7 4 -1.6 6 -1.7 1.7 -2 0.7 -3.2-0.4 -1.7-2 0.2-4 2.7-6.3z"/>
<path fill="#880000" d="M297.4 213l0.6-0.7 2 0.2 0.3 0.5 0.5 2 -0.8 3.9 -2 1.5 -2-1 -0.2-2.4 0.5-2z"/>
</g>
<g clip-path="url(#pc)">
<polygon points="124,55 359.4,55 359.4,62.8 350.8,62.8 350.8,70.5 333.5,70.5 333.5,78.1 324.9,78.1 324.9,86 316.2,86 316.2,93.3 307.2,93.3 307.2,146.2 298.6,146.2 298.6,161 290,161 290,220.8 281.3,220.8 281.3,228.8 229.4,228.8 229.4,236.8 212.1,236.8 212.1,244.4 203.5,244.4 203.5,251.9 186,251.9 186,258.8 177.3,258.8 177.3,273.8 169,273.8 169,288.8 160.3,288.8 160.3,303.8 151.7,303.8 151.7,387.3 143.1,387.3 143.1,410 134.4,410 134.4,433.4 143.1,433.4 143.1,455.6 134.4,455.6 134.4,470.6 124,470.6" fill="#fff" shape-rendering="crispEdges"/>
<path d="M194.6 56V563M265.4 56V563M336.2 56V563M407 56V563M477.8 56V563M548.6 56V563M619.4 56V563M125 530.4H675M125 445.6H675M125 360.7H675M125 275.9H675M125 191.1H675M125 106.2H675" stroke="#e0cc9c" stroke-width="1" stroke-dasharray="1.6 4.9" fill="none" clip-path="url(#sea)"/>
<path d="M194.6 56V563M265.4 56V563M336.2 56V563M407 56V563M477.8 56V563M548.6 56V563M619.4 56V563M125 530.4H675M125 445.6H675M125 360.7H675M125 275.9H675M125 191.1H675M125 106.2H675" stroke="#aaa" stroke-width="1" stroke-dasharray="1.6 4.9" fill="none" clip-path="url(#land)"/>
<path d="M124 144.7L131.8 149L141.2 149L149 152L165.4 152L166.3 149.9L162.3 145.6L170.6 135.7L181.8 143L188.7 142.6L193.9 135.2L203.4 130.9L215.4 127.5L223.2 121.4L231 119.5L237.7 116.2L245 118L252.5 116.2L260 119.4L267.5 121.2L277.5 125L283.8 129.4L288.8 136.2L290 143.8L290.6 152.5L288.8 154.4L283.8 155.6L285 160.6L288.8 164.4L292.5 166.2L290 170L288 176L287.5 186.2L286.9 192.5L284.4 198.8L283.1 206.2L282.5 212.5L280 217.5L275 221.2L267.5 221.9L260 222.5L252.5 223.8L242.5 224.8L231.2 225.3L222.5 226.9L217.5 228.8L211.2 231.2L205 235L200 238.8L196.2 241.9L193.8 243.8L191.2 248.1L187.5 252.5L184 257.5L180.2 262.5L177.8 267.5L175.2 272.5L170.2 277.5L165.2 282.5L160.2 286.2L156.5 291.2L154 296.2L152.1 302.5L147.8 304.4L144.5 307L143.9 317.5L147.7 327.7L142.7 335L146.2 343.7L148.5 358.3L147.7 372.8L143.3 384.5L137.5 396.1L135.1 403.4L133.1 412.1L135.1 422.3L134 432.5L138 435.4L137.5 445.6L131.7 454.4L124.4 461.7M135.1 403.4L124 403.4M351.2 55.6L345 60L338.8 64.4L332.5 68.8L325 74.4L317.5 79.4L311.2 83.8L305 87.5L298.8 90L295 93.1L290 98.1L285 103.8L280.6 108.1L280.6 110.6L285 115.3L289.4 111.2L293.5 114.5L297 116.2L300.9 113.5L301.7 116.8L299.4 121.2L301.9 126.9L302.5 131.9L301.2 138.8L298.8 145L296.9 151.2L295 153.8L290.6 154.5M285 55.6L283.8 62.5L282.5 70L279.4 76.9L280 85L280.6 92.5L282.5 97.5L286.2 98.4L291 97.5M292.5 55.6L293.1 62.5L294.4 70L296.9 75L298.1 80L299.4 87.5L302.5 87M317.5 79.4L315.6 76.2L311.2 73.8L309.4 70L312.5 63.8L320 61.2L325 66.2L330 65.6L337.5 61.9M328.8 56.2L328.1 60L331.2 60.6L331.2 56.2M213.8 229.5L215 225L215.6 220.6L211.2 218.8L205.6 217.5L201.9 215.6L201.2 211.2L200 206.9L202.5 203.1L206.9 200L211.2 198.1L208.8 195L205 192.5L200 191L193.1 191.2L190 189L187.5 191.9L182.5 195L178.8 198.8L176.2 205L178.1 211.2L181.2 215L185.6 218.8L186.9 223.8L185.6 228.8L183.1 231.9L178.8 233.1L173.8 234.4L170 236.9L167.5 242.5L165.6 248.1L165 251.9L168.1 252.5L172.5 250L176.9 246.2L180 242.5L181.2 240L187.5 240.6L191.2 242.5L193.1 245L191.2 248.1L187.5 250L183.4 248.1M191.2 234.4L208.8 228.1L212.5 229.4L205 235L198.8 239.4L194.4 241.2L191.2 234.4M183.4 248.1L179 250.6L174 253.1L169 256.2L164 259.4L160.9 263.8L160.2 271.2L159 277.5L159.6 281.9L166.5 273.8L174 266.9L179 263.8L182.8 258.8" fill="none" stroke="#000" stroke-width="2.8" stroke-linejoin="round" stroke-linecap="round"/>
<path d="M324.5 86.2L340.5 65.5M336 67.7L340.5 65.5L339.6 70.5M359 86.2L396.1 54.3M389.3 56L396.1 54.3L393.4 60.8M393.5 86.2L426.8 63.7M420.6 64.4L426.8 63.7L423.8 69.1M428 86.2L450.1 79M445.4 78.3L450.1 79L446.7 82.4M462.5 86.2L477.2 74.2M472.9 75.1L477.2 74.2L475.4 78.2M497 86.2L501.3 79.5M498.3 81.3L501.3 79.5L501 83M531.5 86.2L534.3 88M532.6 85.2L534.3 88L531.1 87.7M566 86.2L563.9 65.5M562.3 69.8L563.9 65.5L566.4 69.4M600.5 86.2L599.3 67.3M597.5 71.3L599.3 67.3L601.5 71.1M635 86.2L636.4 68.3M634.1 72L636.4 68.3L638 72.3M669.5 86.2L674.3 79.9M671.2 81.4L674.3 79.9L673.7 83.3M324.5 116.5L347.8 73.8M342.1 77.7L347.8 73.8L347.6 80.8M359 116.5L386.1 89.7M380.3 91.5L386.1 89.7L384.2 95.4M393.5 116.5L421.6 102.6M416.2 102.6L421.6 102.6L418.3 107M428 116.5L434.6 104.7M431.3 106.9L434.6 104.7L434.4 108.7M462.5 116.5L472.5 113.9M468.9 113.1L472.5 113.9L469.8 116.3M497 116.5L495.3 117.8M498.4 117.2L495.3 117.8L496.6 114.9M531.5 116.5L535.5 117M532.8 115.2L535.5 117L532.5 118M566 116.5L568.2 101.8M565.9 105.1L568.2 101.8L569.5 105.6M600.5 116.5L599.6 99.7M597.9 103.6L599.6 99.7L601.7 103.4M635 116.5L631.5 99.7M630.4 103.8L631.5 99.7L634.2 103M669.5 116.5L669.5 90.6M667.2 95L669.5 90.6L671.8 95M324.5 146.7L360.7 100.4M354.4 103.4L360.7 100.4L359.4 107.3M359 146.7L392.1 126.8M386.1 127.2L392.1 126.8L388.9 132M393.5 146.7L419.9 140.8M415 139.5L419.9 140.8L416 144M428 146.7L450.9 134.7M445.9 134.8L450.9 134.7L448 138.8M462.5 146.7L463.5 143M461.4 145.4L463.5 143L464.1 146.2M497 146.7L499.2 148.5M498 145.6L499.2 148.5L496.1 147.8M531.5 146.7L532.9 139.9M530.8 142.6L532.9 139.9L533.8 143.2M566 146.7L570.3 133.9M567.5 136.6L570.3 133.9L570.9 137.8M600.5 146.7L602.2 135.1M600 138.2L602.2 135.1L603.4 138.7M635 146.7L637.6 131.6M635.1 134.9L637.6 131.6L638.8 135.6M669.5 146.7L656.2 118.9M656.1 124.3L656.2 118.9L660.5 122.2M324.5 176.8L348.3 144.6M342.8 147.4L348.3 144.6L347.3 150.7M359 176.8L375 157.9M370.5 159.8L375 157.9L373.9 162.7M393.5 176.8L408 172.4M404 171.7L408 172.4L405.1 175.2M428 176.8L441.5 176.8M437.9 175.1L441.5 176.8L437.9 178.6M462.5 176.8L457.3 175.8M459.8 177.8L457.3 175.8L460.4 174.9M497 176.8L498 173.4M495.8 175.7L498 173.4L498.6 176.5M531.5 176.8L540 157.5M536.4 160.4L540 157.5L540.2 162.1M566 176.8L570.3 166.5M567.5 168.9L570.3 166.5L570.6 170.2M600.5 176.8L602.7 163.4M600.4 166.6L602.7 163.4L603.9 167.2M635 176.8L642.6 153.9M639.1 157.3L642.6 153.9L643.3 158.7M669.5 176.8L677.3 163M673.8 165.3L677.3 163L677.1 167.2M290 207.1L302.6 147.9M298.2 153.3L302.6 147.9L304.4 154.6M324.5 207.1L353.5 177.2M347.5 179.3L353.5 177.2L351.6 183.3M359 207.1L381.9 193.1M376.9 193.5L381.9 193.1L379.3 197.4M393.5 207.1L405.2 204.5M401.5 203.5L405.2 204.5L402.3 206.9M428 207.1L436.6 215.5M435.4 211.9L436.6 215.5L433 214.4M462.5 207.1L464.7 203.9M461.9 205.4L464.7 203.9L464.3 207.1M497 207.1L497.5 193.6M495.6 197L497.5 193.6L499.2 197.2M531.5 207.1L534.3 196.2M531.8 199L534.3 196.2L535.1 199.8M566 207.1L570.3 195.3M567.5 197.9L570.3 195.3L570.8 199.2M600.5 207.1L600.5 188.4M598.5 192.3L600.5 188.4L602.5 192.3M635 207.1L634.7 190.1M632.8 194L634.7 190.1L636.7 193.9M669.5 207.1L665.7 191M664.7 195.1L665.7 191L668.4 194.2M221 237.2L231.4 231.2M227.5 231.4L231.4 231.2L229.3 234.4M255.5 237.2L281.4 225.2M276.2 225L281.4 225.2L278.2 229.3M290 237.2L334.5 210M327.5 210.5L334.5 210L330.8 216M324.5 237.2L342.8 210.3M337.9 213L342.8 210.3L342.1 215.9M359 237.2L374.2 223.8M369.8 224.9L374.2 223.8L372.5 228M393.5 237.2L405.2 237.2M401.8 235.5L405.2 237.2L401.8 239M428 237.2L443.5 241M440.4 238.3L443.5 241L439.5 242M462.5 237.2L474.2 228.6M470.2 229.3L474.2 228.6L472.4 232.2M497 237.2L510.5 226.4M506.3 227.3L510.5 226.4L508.7 230.3M531.5 237.2L537.2 229.8M533.9 231.4L537.2 229.8L536.5 233.4M566 237.2L573.8 226.4M570.3 228.2L573.8 226.4L573.2 230.3M600.5 237.2L598.8 222.4M597.4 226.2L598.8 222.4L601 225.8M635 237.2L625.7 227.2M626.8 231.1L625.7 227.2L629.4 228.6M669.5 237.2L660.2 215.2M659.8 220L660.2 215.2L663.9 218.3M186.5 267.4L197.4 248.8M193.5 251.3L197.4 248.8L197.1 253.4M221 267.4L246.5 240.7M240.9 242.7L246.5 240.7L244.8 246.4M255.5 267.4L285.7 244.5M279.8 245.6L285.7 244.5L283.1 249.9M290 267.4L316.9 243.6M311.2 245.1L316.9 243.6L314.8 249.1M324.5 267.4L340.5 243.6M336 246.2L340.5 243.6L339.9 248.8M359 267.4L373.3 259.7M369.1 259.8L373.3 259.7L370.9 263.1M393.5 267.4L406.4 263.1M402.5 262.5L406.4 263.1L403.7 266M428 267.4L441.5 263.5M437.5 262.8L441.5 263.5L438.6 266.2M462.5 267.4L476.3 256.6M472.1 257.4L476.3 256.6L474.5 260.5M497 267.4L509.6 257.4M505.5 258.3L509.6 257.4L507.9 261.2M531.5 267.4L546.7 258.3M542.4 258.6L546.7 258.3L544.4 262M566 267.4L587.7 254M582.8 254.4L587.7 254L585.2 258.2M600.5 267.4L599.3 263.5M598.7 266.6L599.3 263.5L601.5 265.8M635 267.4L632.9 263.5M633 266.7L632.9 263.5L635.5 265.3M669.5 267.4L656.2 247.6M656.8 252.4L656.2 247.6L660.4 250M186.5 297.6L206.5 268.8M201.4 271.6L206.5 268.8L205.7 274.6M221 297.6L247.4 266.8M241.6 269.2L247.4 266.8L245.9 272.9M255.5 297.6L281 276.8M275.6 278L281 276.8L278.8 281.9M290 297.6L309.5 277.5M304.6 279.2L309.5 277.5L308 282.4M324.5 297.6L337.6 282M333.4 283.7L337.6 282L336.6 286.4M359 297.6L371.6 290.1M367.6 290.3L371.6 290.1L369.5 293.5M393.5 297.6L412.5 290.9M408 290.3L412.5 290.9L409.4 294.2M428 297.6L453.5 290.6M448.6 289.6L453.5 290.6L449.8 294M462.5 297.6L483.7 285.7M478.9 285.9L483.7 285.7L481 289.8M497 297.6L510.5 289.5M506.3 289.8L510.5 289.5L508.3 293.1M531.5 297.6L538.9 286.1M535.5 288.1L538.9 286.1L538.5 290M566 297.6L585.5 299.5M581.7 297.1L585.5 299.5L581.3 301.2M600.5 297.6L602.7 303M603 299.5L602.7 303L600.1 300.7M635 297.6L636.7 296.1M633.6 296.9L636.7 296.1L635.6 299.1M669.5 297.6L664.8 290.9M665.3 294.4L664.8 290.9L667.9 292.6M152 327.9L156.5 296.5M153.3 300.9L156.5 296.5L158.3 301.7M186.5 327.9L206.9 297M201.7 299.9L206.9 297L206.2 302.9M221 327.9L237 301.6M232.4 304.5L237 301.6L236.6 307M255.5 327.9L270.3 314.2M266 315.4L270.3 314.2L268.8 318.5M290 327.9L302.6 310.8M298.5 312.8L302.6 310.8L301.8 315.3M324.5 327.9L333.6 319.9M329.9 320.8L333.6 319.9L332.2 323.5M359 327.9L366.9 312.5M363.5 315L366.9 312.5L366.9 316.8M393.5 327.9L407.8 306.5M403.5 308.9L407.8 306.5L407.2 311.4M428 327.9L447.5 314.7M442.7 315.3L447.5 314.7L445.2 318.9M462.5 327.9L483.7 318.5M479 318.3L483.7 318.5L480.7 322.2M497 327.9L520.5 321.6M515.7 320.6L520.5 321.6L516.8 324.9M531.5 327.9L558.8 314.2M553.4 314.2L558.8 314.2L555.6 318.6M566 327.9L578.6 332.3M575.9 329.5L578.6 332.3L574.7 332.8M600.5 327.9L613.6 339.6M612.1 335.6L613.6 339.6L609.5 338.5M635 327.9L639 324.6M635.8 325.3L639 324.6L637.7 327.5M669.5 327.9L674.3 329.2M672 327L674.3 329.2L671.2 329.8M152 358.1L160.3 310.3M156.1 315.8L160.3 310.3L162.3 316.9M186.5 358.1L207.7 329.8M202.5 332.3L207.7 329.8L206.7 335.5M221 358.1L241.7 339.6M236.7 340.9L241.7 339.6L239.8 344.4M255.5 358.1L268.6 342.7M264.4 344.4L268.6 342.7L267.6 347.1M290 358.1L302.6 344.8M298.5 346.2L302.6 344.8L301.4 348.9M324.5 358.1L336.2 348.7M332.2 349.5L336.2 348.7L334.5 352.4M359 358.1L371.6 337.9M367.5 340.4L371.6 337.9L371.2 342.7M393.5 358.1L400.9 338.4M397.5 341.5L400.9 338.4L401.4 342.9M428 358.1L434.6 343.6M431.3 346.2L434.6 343.6L434.7 347.7M462.5 358.1L482.5 343.6M477.7 344.3L482.5 343.6L480.3 347.9M497 358.1L527.7 345.8M522.1 345.3L527.7 345.8L524 350M531.5 358.1L557.9 358.6M553.4 356.2L557.9 358.6L553.4 360.8M566 358.1L576.4 370.6M575.5 366.6L576.4 370.6L572.5 369M600.5 358.1L619.1 385.3M618.4 379.7L619.1 385.3L614.2 382.6M635 358.1L636.4 349.9M634.3 352.7L636.4 349.9L637.4 353.3M669.5 358.1L676.4 358.1M673.4 356.5L676.4 358.1L673.4 359.6M152 388.2L170.6 352.2M165.6 355.8L170.6 352.2L170.6 358.4M186.5 388.2L204.8 358.2M199.9 361.3L204.8 358.2L204.3 364M221 388.2L246.9 376.9M241.7 376.6L246.9 376.9L243.6 380.9M255.5 388.2L276.7 374.8M271.8 375.3L276.7 374.8L274.2 379M290 388.2L309.5 377.7M304.8 377.8L309.5 377.7L306.8 381.6M324.5 388.2L336.6 375.1M332.5 376.6L336.6 375.1L335.4 379.3M359 388.2L366.4 370.8M363 373.7L366.4 370.8L366.7 375.2M393.5 388.2L392.8 380M391.5 383.2L392.8 380L394.7 383M428 388.2L426.3 365.1M424.4 369.5L426.3 365.1L428.8 369.2M462.5 388.2L460.4 364.8M458.6 369.2L460.4 364.8L463 368.9M497 388.2L497.5 374.3M495.6 377.8L497.5 374.3L499.2 377.9M531.5 388.2L537.2 392M535.5 389.1L537.2 392L533.8 391.7M566 388.2L568.2 404.1M569.6 400.2L568.2 404.1L565.9 400.7M600.5 388.2L616.5 414M616.1 408.6L616.5 414L611.9 411.2M635 388.2L651.6 381.7M647.3 381.3L651.6 381.7L648.7 384.9M669.5 388.2L678.1 385.7M674.6 385L678.1 385.7L675.5 388.1M152 418.4L164.1 388.6M159.9 392.2L164.1 388.6L164.6 394.1M186.5 418.4L204.8 386.9M199.8 390.1L204.8 386.9L204.5 392.8M221 418.4L239.6 409.7M235.1 409.5L239.6 409.7L236.8 413.3M255.5 418.4L271.5 406.5M267.1 407.3L271.5 406.5L269.5 410.6M290 418.4L305.5 414.5M301.5 413.6L305.5 414.5L302.4 417.2M324.5 418.4L329.7 406.5M326.7 409L329.7 406.5L329.9 410.4M359 418.4L351.8 423.5M355.3 423L351.8 423.5L353.4 420.3M393.5 418.4L378 416.6M381.4 418.9L378 416.6L381.9 415.1M428 418.4L402.6 404.5M405.6 408.8L402.6 404.5L407.9 404.6M462.5 418.4L432.5 397.9M435.3 403.1L432.5 397.9L438.3 398.7M497 418.4L465.6 400.7M468.8 405.6L465.6 400.7L471.5 400.9M531.5 418.4L507.3 411.4M510.9 414.8L507.3 411.4L512.2 410.5M566 418.4L552.7 421.4M556.5 422.4L552.7 421.4L555.8 418.9M600.5 418.4L608.8 425.5M607.4 422.1L608.8 425.5L605.2 424.7M635 418.4L657.4 408.8M652.6 408.5L657.4 408.8L654.3 412.5M669.5 418.4L677.3 415M673.7 414.8L677.3 415L675 417.7M152 448.6L183.6 401.6M177.5 405L183.6 401.6L182.7 408.5M186.5 448.6L209.8 424.8M204.5 426.6L209.8 424.8L208.1 430.2M221 448.6L235.3 445M231.4 444.1L235.3 445L232.3 447.7M255.5 448.6L266.4 438.1M262.5 439.3L266.4 438.1L265 442M290 448.6L297.4 452.4M295.4 449.6L297.4 452.4L293.9 452.4M324.5 448.6L320.7 451.4M323.9 450.9L320.7 451.4L322.2 448.6M359 448.6L353.5 460.6M356.6 458.1L353.5 460.6L353.3 456.6M393.5 448.6L388.8 450.7M392 450.9L388.8 450.7L390.9 448.2M428 448.6L414.2 441.6M416.6 444.9L414.2 441.6L418.3 441.6M462.5 448.6L439.4 435.9M442.2 440.1L439.4 435.9L444.4 436.1M497 448.6L467.3 435.9M470.9 440.2L467.3 435.9L472.9 435.5M531.5 448.6L502.2 440.4M506.1 444L502.2 440.4L507.5 439.3M566 448.6L545.8 442.4M549.1 445.6L545.8 442.4L550.3 441.7M600.5 448.6L592.4 439.3M593.3 443.1L592.4 439.3L596 440.8M635 448.6L638.5 438.6M635.8 441.2L638.5 438.6L639 442.3M669.5 448.6L677.3 443.5M673.7 443.9L677.3 443.5L675.5 446.6M117.5 478.8L157.7 463.7M151.3 463L157.7 463.7L153.4 468.4M152 478.8L192.2 445M185.4 446.6L192.2 445L189.5 451.5M186.5 478.8L218.6 469.2M213 468.2L218.6 469.2L214.5 473.1M221 478.8L236.5 480.6M233.1 478.3L236.5 480.6L232.7 482M255.5 478.8L262.4 468.8M259 470.7L262.4 468.8L261.9 472.6M290 478.8L298.6 490.6M298 486.6L298.6 490.6L295 488.8M324.5 478.8L322.4 490.6M324.7 487.5L322.4 490.6L321.3 486.9M359 478.8L365.9 491.4M365.8 487.4L365.9 491.4L362.6 489.2M393.5 478.8L407.3 483.3M404.4 480.5L407.3 483.3L403.3 484M428 478.8L429.4 473.5M427.2 476L429.4 473.5L430.1 476.7M462.5 478.8L463.5 468.3M461.5 471.4L463.5 468.3L464.9 471.8M497 478.8L498.4 466.6M496.3 469.8L498.4 466.6L499.7 470.2M531.5 478.8L536.3 467.5M533.4 469.9L536.3 467.5L536.6 471.3M566 478.8L572.6 462.8M569.3 465.6L572.6 462.8L572.9 467.1M600.5 478.8L602.2 462.8M599.9 466.3L602.2 462.8L603.7 466.7M635 478.8L636.4 462.8M634.2 466.3L636.4 462.8L637.9 466.7M669.5 478.8L674.3 469.2M671.3 471.4L674.3 469.2L674.4 472.9M117.5 509.1L156 487.5M149.4 487.7L156 487.5L152.3 492.9M152 509.1L180.5 478.2M174.5 480.4L180.5 478.2L178.7 484.3M186.5 509.1L208.6 511.6M204.7 509L208.6 511.6L204.2 513.3M221 509.1L245.7 521.6M242.6 517.5L245.7 521.6L240.5 521.6M255.5 509.1L262.4 500.4M259 502L262.4 500.4L261.6 504.1M290 509.1L300.9 525.4M300.4 521L300.9 525.4L297 523.2M324.5 509.1L324.5 519.6M326.2 516.3L324.5 519.6L322.8 516.3M359 509.1L368.7 523.7M368.2 519.4L368.7 523.7L364.9 521.6M393.5 509.1L411.8 510.4M408.1 508.2L411.8 510.4L407.8 512.1M428 509.1L440.6 496.6M436.5 497.9L440.6 496.6L439.2 500.7M462.5 509.1L483.7 494.9M478.8 495.5L483.7 494.9L481.3 499.2M497 509.1L527.7 494.9M522 494.7L527.7 494.9L524.2 499.4M531.5 509.1L567.7 495.8M561.7 495L567.7 495.8L563.6 500.2M566 509.1L592.4 495.8M587.1 495.7L592.4 495.8L589.2 500M600.5 509.1L619.5 490.6M614.7 492.1L619.5 490.6L617.8 495.4M635 509.1L645.9 488.5M642 491.3L645.9 488.5L645.8 493.3M669.5 509.1L676.4 494.4M673.1 496.9L676.4 494.4L676.5 498.6M117.5 539.2L146.5 515.1M140.6 516.4L146.5 515.1L144.1 520.6M152 539.2L159.8 522.5M156.3 525.2L159.8 522.5L159.9 526.9M186.5 539.2L189.6 538.9M186.6 537.8L189.6 538.9L186.9 540.7M221 539.2L240.5 552.7M238.2 548.5L240.5 552.7L235.7 552.1M255.5 539.2L266.4 539.8M263.1 537.9L266.4 539.8L263 541.3M290 539.2L306 554.4M304.5 550L306 554.4L301.6 553.1M324.5 539.2L340.5 544.4M337.5 541.4L340.5 544.4L336.4 545.1M359 539.2L377.6 550.6M375.2 546.7L377.6 550.6L373 550.3M393.5 539.2L408.3 540.3M404.9 538.2L408.3 540.3L404.6 541.9M428 539.2L447.5 517.3M442.6 519.3L447.5 517.3L446.2 522.5M462.5 539.2L492.9 509.6M486.7 511.5L492.9 509.6L490.8 515.7M497 539.2L538.9 516M532 516.2L538.9 516L535.1 521.7M531.5 539.2L581.2 527.2M574.4 525.6L581.2 527.2L575.9 531.7M566 539.2L619.1 533.4M612.6 530.9L619.1 533.4L613.3 537.2M600.5 539.2L642.4 534.6M636.4 532.3L642.4 534.6L637.1 538.1M635 539.2L660.5 527.7M655.4 527.5L660.5 527.7L657.3 531.7M669.5 539.2L676.4 528M673.1 530.1L676.4 528L676.1 531.9M117.5 569.5L136.1 560.8M131.6 560.7L136.1 560.8L133.3 564.4M428 569.5L458.7 541.5M452.6 543.2L458.7 541.5L456.5 547.4M462.5 569.5L492.9 534.6M486.6 537.1L492.9 534.6L491.2 541.1M497 569.5L526.8 536.3M520.7 538.7L526.8 536.3L525.1 542.7M531.5 569.5L572.6 538.6M565.7 539.8L572.6 538.6L569.5 544.9M566 569.5L619.1 553.1M612.2 551.9L619.1 553.1L614.1 557.9" fill="none" stroke="#000" stroke-width="1" stroke-linejoin="miter" shape-rendering="crispEdges"/>
</g>
<rect x="124" y="55" width="551" height="508.5" fill="none" stroke="#000" stroke-width="2.2"/>
<path d="M123.8 564v4M194.6 564v4M265.4 564v4M336.2 564v4M407 564v4M477.8 564v4M548.6 564v4M619.4 564v4M123 530.4h-4M123 445.6h-4M123 360.7h-4M123 275.9h-4M123 191.1h-4M123 106.2h-4" stroke="#000" stroke-width="1" fill="none"/>
<rect x="708" y="550.8" width="16" height="6.5" fill="#0831ff" shape-rendering="crispEdges"/>
<rect x="708" y="544.6" width="16" height="6.5" fill="#0733ff" shape-rendering="crispEdges"/>
<rect x="708" y="538.4" width="16" height="6.5" fill="#0734ff" shape-rendering="crispEdges"/>
<rect x="708" y="532.2" width="16" height="6.5" fill="#0636ff" shape-rendering="crispEdges"/>
<rect x="708" y="526" width="16" height="6.5" fill="#0638ff" shape-rendering="crispEdges"/>
<rect x="708" y="519.8" width="16" height="6.5" fill="#0539ff" shape-rendering="crispEdges"/>
<rect x="708" y="513.6" width="16" height="6.5" fill="#053bff" shape-rendering="crispEdges"/>
<rect x="708" y="507.4" width="16" height="6.5" fill="#043dff" shape-rendering="crispEdges"/>
<rect x="708" y="501.2" width="16" height="6.5" fill="#043fff" shape-rendering="crispEdges"/>
<rect x="708" y="495" width="16" height="6.5" fill="#0340ff" shape-rendering="crispEdges"/>
<rect x="708" y="488.8" width="16" height="6.5" fill="#0342ff" shape-rendering="crispEdges"/>
<rect x="708" y="482.6" width="16" height="6.5" fill="#0244ff" shape-rendering="crispEdges"/>
<rect x="708" y="476.4" width="16" height="6.5" fill="#0246ff" shape-rendering="crispEdges"/>
<rect x="708" y="470.2" width="16" height="6.5" fill="#0147ff" shape-rendering="crispEdges"/>
<rect x="708" y="464" width="16" height="6.5" fill="#0149ff" shape-rendering="crispEdges"/>
<rect x="708" y="457.8" width="16" height="6.5" fill="#004bff" shape-rendering="crispEdges"/>
<rect x="708" y="451.6" width="16" height="6.5" fill="#0054ff" shape-rendering="crispEdges"/>
<rect x="708" y="445.4" width="16" height="6.5" fill="#0060ff" shape-rendering="crispEdges"/>
<rect x="708" y="439.2" width="16" height="6.5" fill="#006bff" shape-rendering="crispEdges"/>
<rect x="708" y="433" width="16" height="6.5" fill="#0077ff" shape-rendering="crispEdges"/>
<rect x="708" y="426.8" width="16" height="6.5" fill="#0082ff" shape-rendering="crispEdges"/>
<rect x="708" y="420.6" width="16" height="6.5" fill="#008fff" shape-rendering="crispEdges"/>
<rect x="708" y="414.4" width="16" height="6.5" fill="#009cff" shape-rendering="crispEdges"/>
<rect x="708" y="408.2" width="16" height="6.5" fill="#00a9ff" shape-rendering="crispEdges"/>
<rect x="708" y="402" width="16" height="6.5" fill="#00b6ff" shape-rendering="crispEdges"/>
<rect x="708" y="395.8" width="16" height="6.5" fill="#00c3ff" shape-rendering="crispEdges"/>
<rect x="708" y="389.6" width="16" height="6.5" fill="#00d0ff" shape-rendering="crispEdges"/>
<rect x="708" y="383.4" width="16" height="6.5" fill="#00ddff" shape-rendering="crispEdges"/>
<rect x="708" y="377.2" width="16" height="6.5" fill="#00eaff" shape-rendering="crispEdges"/>
<rect x="708" y="371" width="16" height="6.5" fill="#00f6ff" shape-rendering="crispEdges"/>
<rect x="708" y="364.8" width="16" height="6.5" fill="#04fffb" shape-rendering="crispEdges"/>
<rect x="708" y="358.6" width="16" height="6.5" fill="#11ffee" shape-rendering="crispEdges"/>
<rect x="708" y="352.4" width="16" height="6.5" fill="#1effe1" shape-rendering="crispEdges"/>
<rect x="708" y="346.2" width="16" height="6.5" fill="#2bffd4" shape-rendering="crispEdges"/>
<rect x="708" y="340" width="16" height="6.5" fill="#38ffc7" shape-rendering="crispEdges"/>
<rect x="708" y="333.8" width="16" height="6.5" fill="#45ffba" shape-rendering="crispEdges"/>
<rect x="708" y="327.6" width="16" height="6.5" fill="#52ffad" shape-rendering="crispEdges"/>
<rect x="708" y="321.4" width="16" height="6.5" fill="#5fffa0" shape-rendering="crispEdges"/>
<rect x="708" y="315.2" width="16" height="6.5" fill="#6cff93" shape-rendering="crispEdges"/>
<rect x="708" y="309" width="16" height="6.5" fill="#79ff86" shape-rendering="crispEdges"/>
<rect x="708" y="302.8" width="16" height="6.5" fill="#86ff79" shape-rendering="crispEdges"/>
<rect x="708" y="296.6" width="16" height="6.5" fill="#93ff6c" shape-rendering="crispEdges"/>
<rect x="708" y="290.4" width="16" height="6.5" fill="#a0ff5f" shape-rendering="crispEdges"/>
<rect x="708" y="284.2" width="16" height="6.5" fill="#adff52" shape-rendering="crispEdges"/>
<rect x="708" y="278" width="16" height="6.5" fill="#baff45" shape-rendering="crispEdges"/>
<rect x="708" y="271.8" width="16" height="6.5" fill="#c7ff38" shape-rendering="crispEdges"/>
<rect x="708" y="265.6" width="16" height="6.5" fill="#d4ff2b" shape-rendering="crispEdges"/>
<rect x="708" y="259.4" width="16" height="6.5" fill="#e1ff1e" shape-rendering="crispEdges"/>
<rect x="708" y="253.2" width="16" height="6.5" fill="#eeff11" shape-rendering="crispEdges"/>
<rect x="708" y="247" width="16" height="6.5" fill="#fbff04" shape-rendering="crispEdges"/>
<rect x="708" y="240.8" width="16" height="6.5" fill="#fff700" shape-rendering="crispEdges"/>
<rect x="708" y="234.6" width="16" height="6.5" fill="#ffea00" shape-rendering="crispEdges"/>
<rect x="708" y="228.4" width="16" height="6.5" fill="#ffdd00" shape-rendering="crispEdges"/>
<rect x="708" y="222.2" width="16" height="6.5" fill="#ffd100" shape-rendering="crispEdges"/>
<rect x="708" y="216" width="16" height="6.5" fill="#ffc400" shape-rendering="crispEdges"/>
<rect x="708" y="209.8" width="16" height="6.5" fill="#ffb700" shape-rendering="crispEdges"/>
<rect x="708" y="203.6" width="16" height="6.5" fill="#ffaa00" shape-rendering="crispEdges"/>
<rect x="708" y="197.4" width="16" height="6.5" fill="#ff9e00" shape-rendering="crispEdges"/>
<rect x="708" y="191.2" width="16" height="6.5" fill="#ff9100" shape-rendering="crispEdges"/>
<rect x="708" y="185" width="16" height="6.5" fill="#ff8400" shape-rendering="crispEdges"/>
<rect x="708" y="178.8" width="16" height="6.5" fill="#ff7700" shape-rendering="crispEdges"/>
<rect x="708" y="172.6" width="16" height="6.5" fill="#ff6a00" shape-rendering="crispEdges"/>
<rect x="708" y="166.4" width="16" height="6.5" fill="#ff5d00" shape-rendering="crispEdges"/>
<rect x="708" y="160.2" width="16" height="6.5" fill="#ff5000" shape-rendering="crispEdges"/>
<rect x="708" y="154" width="16" height="6.5" fill="#ff4300" shape-rendering="crispEdges"/>
<rect x="708" y="147.8" width="16" height="6.5" fill="#ff3600" shape-rendering="crispEdges"/>
<rect x="708" y="141.6" width="16" height="6.5" fill="#ff2900" shape-rendering="crispEdges"/>
<rect x="708" y="135.4" width="16" height="6.5" fill="#ff1c00" shape-rendering="crispEdges"/>
<rect x="708" y="129.2" width="16" height="6.5" fill="#ff0f00" shape-rendering="crispEdges"/>
<rect x="708" y="123" width="16" height="6.5" fill="#ff0200" shape-rendering="crispEdges"/>
<rect x="708" y="116.8" width="16" height="6.5" fill="#f50000" shape-rendering="crispEdges"/>
<rect x="708" y="110.6" width="16" height="6.5" fill="#e90000" shape-rendering="crispEdges"/>
<rect x="708" y="104.4" width="16" height="6.5" fill="#dc0000" shape-rendering="crispEdges"/>
<rect x="708" y="98.2" width="16" height="6.5" fill="#d00000" shape-rendering="crispEdges"/>
<rect x="708" y="92" width="16" height="6.5" fill="#c40000" shape-rendering="crispEdges"/>
<rect x="708" y="85.8" width="16" height="6.5" fill="#b70000" shape-rendering="crispEdges"/>
<rect x="708" y="79.6" width="16" height="6.5" fill="#ab0000" shape-rendering="crispEdges"/>
<rect x="708" y="73.4" width="16" height="6.5" fill="#9f0000" shape-rendering="crispEdges"/>
<rect x="708" y="67.2" width="16" height="6.5" fill="#920000" shape-rendering="crispEdges"/>
<rect x="708" y="61" width="16" height="6.5" fill="#860000" shape-rendering="crispEdges"/>
<g font-family="'Liberation Sans',sans-serif" fill="#000">
<text x="18.5" y="42" font-size="23.3" text-anchor="start" textLength="82" lengthAdjust="spacingAndGlyphs">Current</text>
<text x="114" y="42" font-size="23.3" text-anchor="start" textLength="82.5" lengthAdjust="spacingAndGlyphs">velocity</text>
<text x="212" y="42" font-size="23.3" text-anchor="start" textLength="76.5" lengthAdjust="spacingAndGlyphs">(m/s).</text>
<text x="302" y="42" font-size="23.3" text-anchor="start" textLength="50.5" lengthAdjust="spacingAndGlyphs">Date</text>
<text x="366" y="42" font-size="23.3" text-anchor="start" textLength="132.5" lengthAdjust="spacingAndGlyphs">2013.11.06.</text>
<text x="517" y="42" font-size="23.3" text-anchor="start" textLength="52.5" lengthAdjust="spacingAndGlyphs">Time</text>
<text x="581" y="42" font-size="23.3" text-anchor="start" textLength="138.5" lengthAdjust="spacingAndGlyphs">00(h):00(m)</text>
<text x="736.5" y="42" font-size="23.3" text-anchor="start" textLength="46.5" lengthAdjust="spacingAndGlyphs">GMT</text>
<text x="323" y="605.7" font-size="19.8" text-anchor="start" textLength="87.5" lengthAdjust="spacingAndGlyphs">Langitude</text>
<text x="422" y="605.7" font-size="19.8" text-anchor="start" textLength="53" lengthAdjust="spacingAndGlyphs">(East)</text>
<g transform="translate(80.6,383) rotate(-90)">
<text x="0" y="0" font-size="19.5" text-anchor="start" textLength="75.6" lengthAdjust="spacingAndGlyphs">Latitude</text>
<text x="83" y="0" font-size="19.5" text-anchor="start" textLength="62.5" lengthAdjust="spacingAndGlyphs">(North)</text>
</g>
</g>
<g font-family="'Liberation Sans',sans-serif" fill="#000" stroke="#fff" stroke-width="0.35">
<text x="146.5" y="110" font-size="18.5" text-anchor="start" textLength="11" lengthAdjust="spacingAndGlyphs">Z</text>
<text x="175.5" y="110" font-size="18.5" text-anchor="start" textLength="14" lengthAdjust="spacingAndGlyphs">=</text>
<text x="206" y="110" font-size="18.5" text-anchor="start" textLength="33" lengthAdjust="spacingAndGlyphs">2.5</text>
<text x="256" y="110" font-size="18.5" text-anchor="start" textLength="18" lengthAdjust="spacingAndGlyphs">m</text>
</g>
<g font-family="'Liberation Sans',sans-serif" fill="#000">
<text x="112.5" y="580" font-size="13" text-anchor="start" textLength="23.6" lengthAdjust="spacingAndGlyphs">28.5</text>
<text x="188.7" y="580" font-size="13" text-anchor="start" textLength="12.8" lengthAdjust="spacingAndGlyphs">29</text>
<text x="254.1" y="580" font-size="13" text-anchor="start" textLength="23.6" lengthAdjust="spacingAndGlyphs">29.5</text>
<text x="330.3" y="580" font-size="13" text-anchor="start" textLength="12.8" lengthAdjust="spacingAndGlyphs">30</text>
<text x="395.7" y="580" font-size="13" text-anchor="start" textLength="23.6" lengthAdjust="spacingAndGlyphs">30.5</text>
<text x="471.9" y="580" font-size="13" text-anchor="start" textLength="12.8" lengthAdjust="spacingAndGlyphs">31</text>
<text x="537.3" y="580" font-size="13" text-anchor="start" textLength="23.6" lengthAdjust="spacingAndGlyphs">31.5</text>
<text x="613.5" y="580" font-size="13" text-anchor="start" textLength="12.8" lengthAdjust="spacingAndGlyphs">32</text>
<text x="104.7" y="535" font-size="12.8" text-anchor="start" textLength="12.8" lengthAdjust="spacingAndGlyphs">43</text>
<text x="93.9" y="450.2" font-size="12.8" text-anchor="start" textLength="23.6" lengthAdjust="spacingAndGlyphs">43.5</text>
<text x="104.7" y="365.3" font-size="12.8" text-anchor="start" textLength="12.8" lengthAdjust="spacingAndGlyphs">44</text>
<text x="93.9" y="280.5" font-size="12.8" text-anchor="start" textLength="23.6" lengthAdjust="spacingAndGlyphs">44.5</text>
<text x="104.7" y="195.7" font-size="12.8" text-anchor="start" textLength="12.8" lengthAdjust="spacingAndGlyphs">45</text>
<text x="93.9" y="110.8" font-size="12.8" text-anchor="start" textLength="23.6" lengthAdjust="spacingAndGlyphs">45.5</text>
<text x="735" y="73.7" font-size="12.5" text-anchor="start" textLength="29" lengthAdjust="spacingAndGlyphs">0.44</text>
<text x="735" y="189.6" font-size="12.5" text-anchor="start" textLength="29" lengthAdjust="spacingAndGlyphs">0.34</text>
<text x="735" y="312" font-size="12.5" text-anchor="start" textLength="29" lengthAdjust="spacingAndGlyphs">0.22</text>
<text x="735" y="433.6" font-size="12.5" text-anchor="start" textLength="29" lengthAdjust="spacingAndGlyphs">0.11</text>
<text x="735" y="556" font-size="12.5" text-anchor="start" textLength="29" lengthAdjust="spacingAndGlyphs">0.00</text>
</g>
</svg>
</body></html>
